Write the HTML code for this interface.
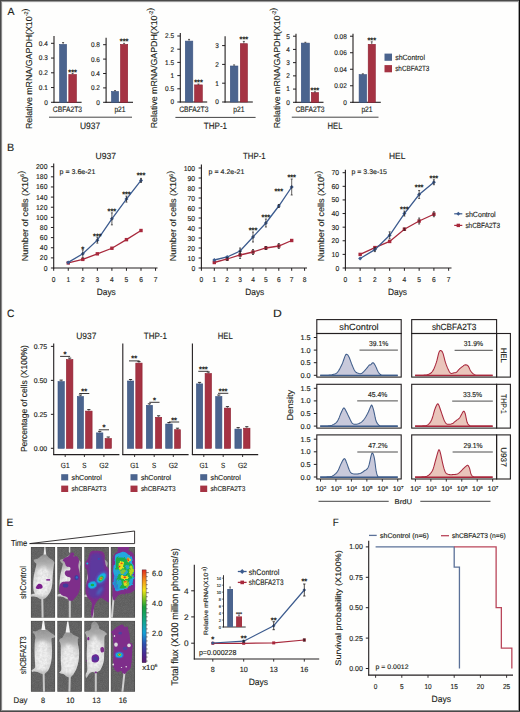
<!DOCTYPE html>
<html><head><meta charset="utf-8"><style>
html,body{margin:0;padding:0;background:#fff;width:520px;height:712px;overflow:hidden}
svg{display:block}
text{font-family:"Liberation Sans",sans-serif;stroke:#231f20;stroke-width:0.14px;text-rendering:geometricPrecision}
</style></head><body>
<svg width="520" height="712" viewBox="0 0 520 712">
<rect width="520" height="712" fill="#fefefd"/>
<text x="7.60" y="15.40" font-size="10.6" text-anchor="start" fill="#231f20" textLength="7.00" lengthAdjust="spacingAndGlyphs">A</text>
<text x="7.00" y="150.80" font-size="10.6" text-anchor="start" fill="#231f20" textLength="7.20" lengthAdjust="spacingAndGlyphs">B</text>
<text x="7.00" y="317.00" font-size="10.6" text-anchor="start" fill="#231f20" textLength="7.40" lengthAdjust="spacingAndGlyphs">C</text>
<text x="273.00" y="316.90" font-size="10.6" text-anchor="start" fill="#231f20" textLength="8.80" lengthAdjust="spacingAndGlyphs">D</text>
<text x="6.40" y="525.60" font-size="10.6" text-anchor="start" fill="#231f20" textLength="6.80" lengthAdjust="spacingAndGlyphs">E</text>
<text x="332.80" y="525.80" font-size="10.6" text-anchor="start" fill="#231f20" textLength="6.00" lengthAdjust="spacingAndGlyphs">F</text>
<text x="31.60" y="68.80" font-size="8.7" text-anchor="middle" fill="#231f20" textLength="120.50" lengthAdjust="spacingAndGlyphs" transform="rotate(-90 31.60 68.80)"><tspan>Relative mRNA/GAPDH(X10</tspan><tspan font-size="5.39" dy="-3.31">-2</tspan><tspan dy="3.31"></tspan><tspan>)</tspan></text>
<line x1="54.00" y1="36.00" x2="54.00" y2="102.80" stroke="#231f20" stroke-width="1.1"/>
<line x1="53.50" y1="102.30" x2="81.60" y2="102.30" stroke="#231f20" stroke-width="1.1"/>
<line x1="51.00" y1="102.30" x2="54.00" y2="102.30" stroke="#231f20" stroke-width="1.0"/>
<text x="47.80" y="104.70" font-size="6.8" text-anchor="end" fill="#231f20" textLength="3.59" lengthAdjust="spacingAndGlyphs">0</text>
<line x1="51.00" y1="87.55" x2="54.00" y2="87.55" stroke="#231f20" stroke-width="1.0"/>
<text x="47.80" y="89.95" font-size="6.8" text-anchor="end" fill="#231f20" textLength="8.98" lengthAdjust="spacingAndGlyphs">0.1</text>
<line x1="51.00" y1="72.80" x2="54.00" y2="72.80" stroke="#231f20" stroke-width="1.0"/>
<text x="47.80" y="75.20" font-size="6.8" text-anchor="end" fill="#231f20" textLength="8.98" lengthAdjust="spacingAndGlyphs">0.2</text>
<line x1="51.00" y1="58.05" x2="54.00" y2="58.05" stroke="#231f20" stroke-width="1.0"/>
<text x="47.80" y="60.45" font-size="6.8" text-anchor="end" fill="#231f20" textLength="8.98" lengthAdjust="spacingAndGlyphs">0.3</text>
<line x1="51.00" y1="43.30" x2="54.00" y2="43.30" stroke="#231f20" stroke-width="1.0"/>
<text x="47.80" y="45.70" font-size="6.8" text-anchor="end" fill="#231f20" textLength="8.98" lengthAdjust="spacingAndGlyphs">0.4</text>
<rect x="59.60" y="44.40" width="7.00" height="57.90" fill="#4b648e" stroke="#3a5280" stroke-width="0.6"/>
<line x1="63.10" y1="42.50" x2="63.10" y2="44.10" stroke="#231f20" stroke-width="0.7"/>
<line x1="62.10" y1="42.50" x2="64.10" y2="42.50" stroke="#231f20" stroke-width="0.7"/>
<rect x="68.80" y="74.50" width="7.60" height="27.80" fill="#a53343" stroke="#8e1f31" stroke-width="0.6"/>
<line x1="72.60" y1="73.40" x2="72.60" y2="74.20" stroke="#231f20" stroke-width="0.7"/>
<line x1="71.60" y1="73.40" x2="73.60" y2="73.40" stroke="#231f20" stroke-width="0.7"/>
<text x="67.40" y="112.30" font-size="7.9" text-anchor="middle" fill="#231f20" textLength="29.20" lengthAdjust="spacingAndGlyphs">CBFA2T3</text>
<text x="72.60" y="74.66" font-size="8.0" text-anchor="middle" fill="#231f20" textLength="8.60" lengthAdjust="spacingAndGlyphs" font-weight="bold">***</text>
<line x1="106.10" y1="37.80" x2="106.10" y2="102.80" stroke="#231f20" stroke-width="1.1"/>
<line x1="105.60" y1="102.30" x2="133.00" y2="102.30" stroke="#231f20" stroke-width="1.1"/>
<line x1="103.10" y1="102.30" x2="106.10" y2="102.30" stroke="#231f20" stroke-width="1.0"/>
<text x="99.90" y="104.70" font-size="6.8" text-anchor="end" fill="#231f20" textLength="3.59" lengthAdjust="spacingAndGlyphs">0</text>
<line x1="103.10" y1="87.90" x2="106.10" y2="87.90" stroke="#231f20" stroke-width="1.0"/>
<text x="99.90" y="90.30" font-size="6.8" text-anchor="end" fill="#231f20" textLength="8.98" lengthAdjust="spacingAndGlyphs">0.2</text>
<line x1="103.10" y1="73.50" x2="106.10" y2="73.50" stroke="#231f20" stroke-width="1.0"/>
<text x="99.90" y="75.90" font-size="6.8" text-anchor="end" fill="#231f20" textLength="8.98" lengthAdjust="spacingAndGlyphs">0.4</text>
<line x1="103.10" y1="59.10" x2="106.10" y2="59.10" stroke="#231f20" stroke-width="1.0"/>
<text x="99.90" y="61.50" font-size="6.8" text-anchor="end" fill="#231f20" textLength="8.98" lengthAdjust="spacingAndGlyphs">0.6</text>
<line x1="103.10" y1="44.70" x2="106.10" y2="44.70" stroke="#231f20" stroke-width="1.0"/>
<text x="99.90" y="47.10" font-size="6.8" text-anchor="end" fill="#231f20" textLength="8.98" lengthAdjust="spacingAndGlyphs">0.8</text>
<rect x="111.50" y="91.50" width="7.10" height="10.80" fill="#4b648e" stroke="#3a5280" stroke-width="0.6"/>
<line x1="115.05" y1="90.60" x2="115.05" y2="91.20" stroke="#231f20" stroke-width="0.7"/>
<line x1="114.05" y1="90.60" x2="116.05" y2="90.60" stroke="#231f20" stroke-width="0.7"/>
<rect x="120.50" y="44.40" width="7.20" height="57.90" fill="#a53343" stroke="#8e1f31" stroke-width="0.6"/>
<line x1="124.10" y1="43.30" x2="124.10" y2="44.10" stroke="#231f20" stroke-width="0.7"/>
<line x1="123.10" y1="43.30" x2="125.10" y2="43.30" stroke="#231f20" stroke-width="0.7"/>
<text x="120.00" y="112.30" font-size="7.9" text-anchor="middle" fill="#231f20" textLength="11.20" lengthAdjust="spacingAndGlyphs">p21</text>
<text x="124.10" y="44.26" font-size="8.0" text-anchor="middle" fill="#231f20" textLength="8.60" lengthAdjust="spacingAndGlyphs" font-weight="bold">***</text>
<line x1="49.00" y1="117.20" x2="132.00" y2="117.20" stroke="#444" stroke-width="1.0"/>
<text x="90.00" y="129.00" font-size="9.2" text-anchor="middle" fill="#231f20" textLength="20.20" lengthAdjust="spacingAndGlyphs">U937</text>
<text x="156.60" y="68.00" font-size="8.7" text-anchor="middle" fill="#231f20" textLength="120.50" lengthAdjust="spacingAndGlyphs" transform="rotate(-90 156.60 68.00)"><tspan>Relative mRNA/GAPDH(X10</tspan><tspan font-size="5.39" dy="-3.31">-2</tspan><tspan dy="3.31"></tspan><tspan>)</tspan></text>
<line x1="180.30" y1="33.10" x2="180.30" y2="102.50" stroke="#231f20" stroke-width="1.1"/>
<line x1="179.80" y1="102.00" x2="207.20" y2="102.00" stroke="#231f20" stroke-width="1.1"/>
<line x1="177.30" y1="102.00" x2="180.30" y2="102.00" stroke="#231f20" stroke-width="1.0"/>
<text x="174.10" y="104.40" font-size="6.8" text-anchor="end" fill="#231f20" textLength="3.59" lengthAdjust="spacingAndGlyphs">0</text>
<line x1="177.30" y1="88.80" x2="180.30" y2="88.80" stroke="#231f20" stroke-width="1.0"/>
<text x="174.10" y="91.20" font-size="6.8" text-anchor="end" fill="#231f20" textLength="8.98" lengthAdjust="spacingAndGlyphs">0.5</text>
<line x1="177.30" y1="75.60" x2="180.30" y2="75.60" stroke="#231f20" stroke-width="1.0"/>
<text x="174.10" y="78.00" font-size="6.8" text-anchor="end" fill="#231f20" textLength="3.59" lengthAdjust="spacingAndGlyphs">1</text>
<line x1="177.30" y1="62.40" x2="180.30" y2="62.40" stroke="#231f20" stroke-width="1.0"/>
<text x="174.10" y="64.80" font-size="6.8" text-anchor="end" fill="#231f20" textLength="8.98" lengthAdjust="spacingAndGlyphs">1.5</text>
<line x1="177.30" y1="49.20" x2="180.30" y2="49.20" stroke="#231f20" stroke-width="1.0"/>
<text x="174.10" y="51.60" font-size="6.8" text-anchor="end" fill="#231f20" textLength="3.59" lengthAdjust="spacingAndGlyphs">2</text>
<line x1="177.30" y1="36.00" x2="180.30" y2="36.00" stroke="#231f20" stroke-width="1.0"/>
<text x="174.10" y="38.40" font-size="6.8" text-anchor="end" fill="#231f20" textLength="8.98" lengthAdjust="spacingAndGlyphs">2.5</text>
<rect x="185.30" y="41.10" width="7.50" height="60.90" fill="#4b648e" stroke="#3a5280" stroke-width="0.6"/>
<line x1="189.05" y1="39.40" x2="189.05" y2="40.80" stroke="#231f20" stroke-width="0.7"/>
<line x1="188.05" y1="39.40" x2="190.05" y2="39.40" stroke="#231f20" stroke-width="0.7"/>
<rect x="194.60" y="84.90" width="7.70" height="17.10" fill="#a53343" stroke="#8e1f31" stroke-width="0.6"/>
<line x1="198.45" y1="84.00" x2="198.45" y2="84.60" stroke="#231f20" stroke-width="0.7"/>
<line x1="197.45" y1="84.00" x2="199.45" y2="84.00" stroke="#231f20" stroke-width="0.7"/>
<text x="193.80" y="112.00" font-size="7.9" text-anchor="middle" fill="#231f20" textLength="29.20" lengthAdjust="spacingAndGlyphs">CBFA2T3</text>
<text x="198.50" y="84.66" font-size="8.0" text-anchor="middle" fill="#231f20" textLength="8.60" lengthAdjust="spacingAndGlyphs" font-weight="bold">***</text>
<line x1="225.10" y1="36.20" x2="225.10" y2="102.50" stroke="#231f20" stroke-width="1.1"/>
<line x1="224.60" y1="102.00" x2="252.80" y2="102.00" stroke="#231f20" stroke-width="1.1"/>
<line x1="222.10" y1="102.00" x2="225.10" y2="102.00" stroke="#231f20" stroke-width="1.0"/>
<text x="218.90" y="104.40" font-size="6.8" text-anchor="end" fill="#231f20" textLength="3.59" lengthAdjust="spacingAndGlyphs">0</text>
<line x1="222.10" y1="83.20" x2="225.10" y2="83.20" stroke="#231f20" stroke-width="1.0"/>
<text x="218.90" y="85.60" font-size="6.8" text-anchor="end" fill="#231f20" textLength="3.59" lengthAdjust="spacingAndGlyphs">1</text>
<line x1="222.10" y1="64.40" x2="225.10" y2="64.40" stroke="#231f20" stroke-width="1.0"/>
<text x="218.90" y="66.80" font-size="6.8" text-anchor="end" fill="#231f20" textLength="3.59" lengthAdjust="spacingAndGlyphs">2</text>
<line x1="222.10" y1="45.60" x2="225.10" y2="45.60" stroke="#231f20" stroke-width="1.0"/>
<text x="218.90" y="48.00" font-size="6.8" text-anchor="end" fill="#231f20" textLength="3.59" lengthAdjust="spacingAndGlyphs">3</text>
<rect x="230.30" y="66.00" width="7.60" height="36.00" fill="#4b648e" stroke="#3a5280" stroke-width="0.6"/>
<line x1="234.10" y1="64.90" x2="234.10" y2="65.70" stroke="#231f20" stroke-width="0.7"/>
<line x1="233.10" y1="64.90" x2="235.10" y2="64.90" stroke="#231f20" stroke-width="0.7"/>
<rect x="240.30" y="43.70" width="7.10" height="58.30" fill="#a53343" stroke="#8e1f31" stroke-width="0.6"/>
<line x1="243.85" y1="41.40" x2="243.85" y2="43.40" stroke="#231f20" stroke-width="0.7"/>
<line x1="242.85" y1="41.40" x2="244.85" y2="41.40" stroke="#231f20" stroke-width="0.7"/>
<text x="238.90" y="112.00" font-size="7.9" text-anchor="middle" fill="#231f20" textLength="11.20" lengthAdjust="spacingAndGlyphs">p21</text>
<text x="243.90" y="42.06" font-size="8.0" text-anchor="middle" fill="#231f20" textLength="8.60" lengthAdjust="spacingAndGlyphs" font-weight="bold">***</text>
<line x1="175.40" y1="117.40" x2="255.60" y2="117.40" stroke="#444" stroke-width="1.0"/>
<text x="215.40" y="129.00" font-size="9.2" text-anchor="middle" fill="#231f20" textLength="23.30" lengthAdjust="spacingAndGlyphs">THP-1</text>
<text x="279.60" y="68.00" font-size="8.7" text-anchor="middle" fill="#231f20" textLength="120.50" lengthAdjust="spacingAndGlyphs" transform="rotate(-90 279.60 68.00)"><tspan>Relative mRNA/GAPDH(X10</tspan><tspan font-size="5.39" dy="-3.31">-2</tspan><tspan dy="3.31"></tspan><tspan>)</tspan></text>
<line x1="296.00" y1="33.80" x2="296.00" y2="102.80" stroke="#231f20" stroke-width="1.1"/>
<line x1="295.50" y1="102.30" x2="323.50" y2="102.30" stroke="#231f20" stroke-width="1.1"/>
<line x1="293.00" y1="102.30" x2="296.00" y2="102.30" stroke="#231f20" stroke-width="1.0"/>
<text x="289.80" y="104.70" font-size="6.8" text-anchor="end" fill="#231f20" textLength="3.59" lengthAdjust="spacingAndGlyphs">0</text>
<line x1="293.00" y1="89.08" x2="296.00" y2="89.08" stroke="#231f20" stroke-width="1.0"/>
<text x="289.80" y="91.48" font-size="6.8" text-anchor="end" fill="#231f20" textLength="3.59" lengthAdjust="spacingAndGlyphs">1</text>
<line x1="293.00" y1="75.86" x2="296.00" y2="75.86" stroke="#231f20" stroke-width="1.0"/>
<text x="289.80" y="78.26" font-size="6.8" text-anchor="end" fill="#231f20" textLength="3.59" lengthAdjust="spacingAndGlyphs">2</text>
<line x1="293.00" y1="62.64" x2="296.00" y2="62.64" stroke="#231f20" stroke-width="1.0"/>
<text x="289.80" y="65.04" font-size="6.8" text-anchor="end" fill="#231f20" textLength="3.59" lengthAdjust="spacingAndGlyphs">3</text>
<line x1="293.00" y1="49.42" x2="296.00" y2="49.42" stroke="#231f20" stroke-width="1.0"/>
<text x="289.80" y="51.82" font-size="6.8" text-anchor="end" fill="#231f20" textLength="3.59" lengthAdjust="spacingAndGlyphs">4</text>
<line x1="293.00" y1="36.20" x2="296.00" y2="36.20" stroke="#231f20" stroke-width="1.0"/>
<text x="289.80" y="38.60" font-size="6.8" text-anchor="end" fill="#231f20" textLength="3.59" lengthAdjust="spacingAndGlyphs">5</text>
<rect x="301.30" y="43.10" width="8.10" height="59.20" fill="#4b648e" stroke="#3a5280" stroke-width="0.6"/>
<line x1="305.35" y1="42.30" x2="305.35" y2="42.80" stroke="#231f20" stroke-width="0.7"/>
<line x1="304.35" y1="42.30" x2="306.35" y2="42.30" stroke="#231f20" stroke-width="0.7"/>
<rect x="311.30" y="92.60" width="7.30" height="9.70" fill="#a53343" stroke="#8e1f31" stroke-width="0.6"/>
<line x1="314.95" y1="91.80" x2="314.95" y2="92.30" stroke="#231f20" stroke-width="0.7"/>
<line x1="313.95" y1="91.80" x2="315.95" y2="91.80" stroke="#231f20" stroke-width="0.7"/>
<text x="310.00" y="112.30" font-size="7.9" text-anchor="middle" fill="#231f20" textLength="29.20" lengthAdjust="spacingAndGlyphs">CBFA2T3</text>
<text x="314.90" y="92.66" font-size="8.0" text-anchor="middle" fill="#231f20" textLength="8.60" lengthAdjust="spacingAndGlyphs" font-weight="bold">***</text>
<line x1="353.00" y1="33.80" x2="353.00" y2="102.80" stroke="#231f20" stroke-width="1.1"/>
<line x1="352.50" y1="102.30" x2="380.80" y2="102.30" stroke="#231f20" stroke-width="1.1"/>
<line x1="350.00" y1="102.30" x2="353.00" y2="102.30" stroke="#231f20" stroke-width="1.0"/>
<text x="346.80" y="104.70" font-size="6.8" text-anchor="end" fill="#231f20" textLength="3.59" lengthAdjust="spacingAndGlyphs">0</text>
<line x1="350.00" y1="85.78" x2="353.00" y2="85.78" stroke="#231f20" stroke-width="1.0"/>
<text x="346.80" y="88.18" font-size="6.8" text-anchor="end" fill="#231f20" textLength="12.57" lengthAdjust="spacingAndGlyphs">0.02</text>
<line x1="350.00" y1="69.26" x2="353.00" y2="69.26" stroke="#231f20" stroke-width="1.0"/>
<text x="346.80" y="71.66" font-size="6.8" text-anchor="end" fill="#231f20" textLength="12.57" lengthAdjust="spacingAndGlyphs">0.04</text>
<line x1="350.00" y1="52.74" x2="353.00" y2="52.74" stroke="#231f20" stroke-width="1.0"/>
<text x="346.80" y="55.14" font-size="6.8" text-anchor="end" fill="#231f20" textLength="12.57" lengthAdjust="spacingAndGlyphs">0.06</text>
<line x1="350.00" y1="36.22" x2="353.00" y2="36.22" stroke="#231f20" stroke-width="1.0"/>
<text x="346.80" y="38.62" font-size="6.8" text-anchor="end" fill="#231f20" textLength="12.57" lengthAdjust="spacingAndGlyphs">0.08</text>
<rect x="359.10" y="74.60" width="7.50" height="27.70" fill="#4b648e" stroke="#3a5280" stroke-width="0.6"/>
<line x1="362.85" y1="73.80" x2="362.85" y2="74.30" stroke="#231f20" stroke-width="0.7"/>
<line x1="361.85" y1="73.80" x2="363.85" y2="73.80" stroke="#231f20" stroke-width="0.7"/>
<rect x="368.20" y="44.30" width="7.10" height="58.00" fill="#a53343" stroke="#8e1f31" stroke-width="0.6"/>
<line x1="371.75" y1="41.80" x2="371.75" y2="44.00" stroke="#231f20" stroke-width="0.7"/>
<line x1="370.75" y1="41.80" x2="372.75" y2="41.80" stroke="#231f20" stroke-width="0.7"/>
<text x="367.00" y="112.30" font-size="7.9" text-anchor="middle" fill="#231f20" textLength="11.20" lengthAdjust="spacingAndGlyphs">p21</text>
<text x="371.80" y="42.76" font-size="8.0" text-anchor="middle" fill="#231f20" textLength="8.60" lengthAdjust="spacingAndGlyphs" font-weight="bold">***</text>
<line x1="291.80" y1="117.20" x2="378.50" y2="117.20" stroke="#444" stroke-width="1.0"/>
<text x="335.00" y="128.80" font-size="9.2" text-anchor="middle" fill="#231f20" textLength="14.80" lengthAdjust="spacingAndGlyphs">HEL</text>
<rect x="384.50" y="53.60" width="7.50" height="7.20" fill="#4b648e"/>
<rect x="384.50" y="65.10" width="7.50" height="7.20" fill="#a53343"/>
<text x="395.20" y="60.30" font-size="7.6" text-anchor="start" fill="#231f20" textLength="29.80" lengthAdjust="spacingAndGlyphs">shControl</text>
<text x="395.20" y="71.40" font-size="7.6" text-anchor="start" fill="#231f20" textLength="34.20" lengthAdjust="spacingAndGlyphs">shCBFA2T3</text>
<line x1="53.70" y1="163.50" x2="53.70" y2="268.50" stroke="#231f20" stroke-width="1.1"/>
<line x1="53.20" y1="268.00" x2="157.50" y2="268.00" stroke="#231f20" stroke-width="1.1"/>
<line x1="50.90" y1="268.00" x2="53.70" y2="268.00" stroke="#231f20" stroke-width="1.0"/>
<text x="47.50" y="270.50" font-size="7.0" text-anchor="end" fill="#231f20" textLength="3.81" lengthAdjust="spacingAndGlyphs">0</text>
<line x1="50.90" y1="257.87" x2="53.70" y2="257.87" stroke="#231f20" stroke-width="1.0"/>
<text x="47.50" y="260.37" font-size="7.0" text-anchor="end" fill="#231f20" textLength="7.63" lengthAdjust="spacingAndGlyphs">20</text>
<line x1="50.90" y1="247.74" x2="53.70" y2="247.74" stroke="#231f20" stroke-width="1.0"/>
<text x="47.50" y="250.24" font-size="7.0" text-anchor="end" fill="#231f20" textLength="7.63" lengthAdjust="spacingAndGlyphs">40</text>
<line x1="50.90" y1="237.61" x2="53.70" y2="237.61" stroke="#231f20" stroke-width="1.0"/>
<text x="47.50" y="240.11" font-size="7.0" text-anchor="end" fill="#231f20" textLength="7.63" lengthAdjust="spacingAndGlyphs">60</text>
<line x1="50.90" y1="227.48" x2="53.70" y2="227.48" stroke="#231f20" stroke-width="1.0"/>
<text x="47.50" y="229.98" font-size="7.0" text-anchor="end" fill="#231f20" textLength="7.63" lengthAdjust="spacingAndGlyphs">80</text>
<line x1="50.90" y1="217.35" x2="53.70" y2="217.35" stroke="#231f20" stroke-width="1.0"/>
<text x="47.50" y="219.85" font-size="7.0" text-anchor="end" fill="#231f20" textLength="11.44" lengthAdjust="spacingAndGlyphs">100</text>
<line x1="50.90" y1="207.22" x2="53.70" y2="207.22" stroke="#231f20" stroke-width="1.0"/>
<text x="47.50" y="209.72" font-size="7.0" text-anchor="end" fill="#231f20" textLength="11.44" lengthAdjust="spacingAndGlyphs">120</text>
<line x1="50.90" y1="197.09" x2="53.70" y2="197.09" stroke="#231f20" stroke-width="1.0"/>
<text x="47.50" y="199.59" font-size="7.0" text-anchor="end" fill="#231f20" textLength="11.44" lengthAdjust="spacingAndGlyphs">140</text>
<line x1="50.90" y1="186.96" x2="53.70" y2="186.96" stroke="#231f20" stroke-width="1.0"/>
<text x="47.50" y="189.46" font-size="7.0" text-anchor="end" fill="#231f20" textLength="11.44" lengthAdjust="spacingAndGlyphs">160</text>
<line x1="50.90" y1="176.83" x2="53.70" y2="176.83" stroke="#231f20" stroke-width="1.0"/>
<text x="47.50" y="179.33" font-size="7.0" text-anchor="end" fill="#231f20" textLength="11.44" lengthAdjust="spacingAndGlyphs">180</text>
<line x1="50.90" y1="166.70" x2="53.70" y2="166.70" stroke="#231f20" stroke-width="1.0"/>
<text x="47.50" y="169.20" font-size="7.0" text-anchor="end" fill="#231f20" textLength="11.44" lengthAdjust="spacingAndGlyphs">200</text>
<line x1="53.70" y1="268.00" x2="53.70" y2="270.80" stroke="#231f20" stroke-width="1.0"/>
<text x="53.70" y="281.50" font-size="7.0" text-anchor="middle" fill="#231f20" textLength="3.70" lengthAdjust="spacingAndGlyphs">0</text>
<line x1="68.25" y1="268.00" x2="68.25" y2="270.80" stroke="#231f20" stroke-width="1.0"/>
<text x="68.25" y="281.50" font-size="7.0" text-anchor="middle" fill="#231f20" textLength="3.70" lengthAdjust="spacingAndGlyphs">1</text>
<line x1="82.80" y1="268.00" x2="82.80" y2="270.80" stroke="#231f20" stroke-width="1.0"/>
<text x="82.80" y="281.50" font-size="7.0" text-anchor="middle" fill="#231f20" textLength="3.70" lengthAdjust="spacingAndGlyphs">2</text>
<line x1="97.35" y1="268.00" x2="97.35" y2="270.80" stroke="#231f20" stroke-width="1.0"/>
<text x="97.35" y="281.50" font-size="7.0" text-anchor="middle" fill="#231f20" textLength="3.70" lengthAdjust="spacingAndGlyphs">3</text>
<line x1="111.90" y1="268.00" x2="111.90" y2="270.80" stroke="#231f20" stroke-width="1.0"/>
<text x="111.90" y="281.50" font-size="7.0" text-anchor="middle" fill="#231f20" textLength="3.70" lengthAdjust="spacingAndGlyphs">4</text>
<line x1="126.45" y1="268.00" x2="126.45" y2="270.80" stroke="#231f20" stroke-width="1.0"/>
<text x="126.45" y="281.50" font-size="7.0" text-anchor="middle" fill="#231f20" textLength="3.70" lengthAdjust="spacingAndGlyphs">5</text>
<line x1="141.00" y1="268.00" x2="141.00" y2="270.80" stroke="#231f20" stroke-width="1.0"/>
<text x="141.00" y="281.50" font-size="7.0" text-anchor="middle" fill="#231f20" textLength="3.70" lengthAdjust="spacingAndGlyphs">6</text>
<line x1="155.55" y1="268.00" x2="155.55" y2="270.80" stroke="#231f20" stroke-width="1.0"/>
<text x="155.55" y="281.50" font-size="7.0" text-anchor="middle" fill="#231f20" textLength="3.70" lengthAdjust="spacingAndGlyphs">7</text>
<text x="106.30" y="294.70" font-size="9.0" text-anchor="middle" fill="#231f20" textLength="19.00" lengthAdjust="spacingAndGlyphs">Days</text>
<text x="105.80" y="159.30" font-size="8.9" text-anchor="middle" fill="#231f20" textLength="20.50" lengthAdjust="spacingAndGlyphs">U937</text>
<text x="59.60" y="173.60" font-size="6.9" text-anchor="start" fill="#231f20" textLength="35.80" lengthAdjust="spacingAndGlyphs">p = 3.6e-21</text>
<text x="27.60" y="216.00" font-size="8.7" text-anchor="middle" fill="#231f20" textLength="90.40" lengthAdjust="spacingAndGlyphs" transform="rotate(-90 27.60 216.00)"><tspan>Number of cells (X10</tspan><tspan font-size="5.39" dy="-3.31">6</tspan><tspan dy="3.31"></tspan><tspan>)</tspan></text>
<polyline points="68.25,262.94 82.80,259.39 97.35,253.82 111.90,248.25 126.45,239.64 141.00,230.52" fill="none" stroke="#a8293c" stroke-width="1.3"/>
<rect x="66.55" y="261.24" width="3.40" height="3.40" fill="#a8293c"/>
<rect x="81.10" y="257.69" width="3.40" height="3.40" fill="#a8293c"/>
<rect x="95.65" y="252.12" width="3.40" height="3.40" fill="#a8293c"/>
<rect x="110.20" y="246.55" width="3.40" height="3.40" fill="#a8293c"/>
<rect x="124.75" y="237.94" width="3.40" height="3.40" fill="#a8293c"/>
<rect x="139.30" y="228.82" width="3.40" height="3.40" fill="#a8293c"/>
<polyline points="68.25,262.43 82.80,253.82 97.35,240.14 111.90,218.87 126.45,199.12 141.00,180.38" fill="none" stroke="#3c5b8e" stroke-width="1.3"/>
<path d="M66.25,262.43L68.25,260.43L70.25,262.43L68.25,264.43Z" fill="#3c5b8e"/>
<path d="M80.80,253.82L82.80,251.82L84.80,253.82L82.80,255.82Z" fill="#3c5b8e"/>
<path d="M95.35,240.14L97.35,238.14L99.35,240.14L97.35,242.14Z" fill="#3c5b8e"/>
<path d="M109.90,218.87L111.90,216.87L113.90,218.87L111.90,220.87Z" fill="#3c5b8e"/>
<path d="M124.45,199.12L126.45,197.12L128.45,199.12L126.45,201.12Z" fill="#3c5b8e"/>
<path d="M139.00,180.38L141.00,178.38L143.00,180.38L141.00,182.38Z" fill="#3c5b8e"/>
<line x1="82.80" y1="249.82" x2="82.80" y2="257.82" stroke="#231f20" stroke-width="0.7"/>
<line x1="81.80" y1="249.82" x2="83.80" y2="249.82" stroke="#231f20" stroke-width="0.7"/>
<line x1="81.80" y1="257.82" x2="83.80" y2="257.82" stroke="#231f20" stroke-width="0.7"/>
<line x1="97.35" y1="237.14" x2="97.35" y2="243.14" stroke="#231f20" stroke-width="0.7"/>
<line x1="96.35" y1="237.14" x2="98.35" y2="237.14" stroke="#231f20" stroke-width="0.7"/>
<line x1="96.35" y1="243.14" x2="98.35" y2="243.14" stroke="#231f20" stroke-width="0.7"/>
<line x1="111.90" y1="212.87" x2="111.90" y2="224.87" stroke="#231f20" stroke-width="0.7"/>
<line x1="110.90" y1="212.87" x2="112.90" y2="212.87" stroke="#231f20" stroke-width="0.7"/>
<line x1="110.90" y1="224.87" x2="112.90" y2="224.87" stroke="#231f20" stroke-width="0.7"/>
<line x1="126.45" y1="196.12" x2="126.45" y2="202.12" stroke="#231f20" stroke-width="0.7"/>
<line x1="125.45" y1="196.12" x2="127.45" y2="196.12" stroke="#231f20" stroke-width="0.7"/>
<line x1="125.45" y1="202.12" x2="127.45" y2="202.12" stroke="#231f20" stroke-width="0.7"/>
<line x1="141.00" y1="178.38" x2="141.00" y2="182.38" stroke="#231f20" stroke-width="0.7"/>
<line x1="140.00" y1="178.38" x2="142.00" y2="178.38" stroke="#231f20" stroke-width="0.7"/>
<line x1="140.00" y1="182.38" x2="142.00" y2="182.38" stroke="#231f20" stroke-width="0.7"/>
<text x="82.80" y="252.16" font-size="8.0" text-anchor="middle" fill="#231f20" textLength="3.00" lengthAdjust="spacingAndGlyphs" font-weight="bold">*</text>
<text x="97.35" y="238.66" font-size="8.0" text-anchor="middle" fill="#231f20" textLength="8.60" lengthAdjust="spacingAndGlyphs" font-weight="bold">***</text>
<text x="111.90" y="214.06" font-size="8.0" text-anchor="middle" fill="#231f20" textLength="8.60" lengthAdjust="spacingAndGlyphs" font-weight="bold">***</text>
<text x="126.45" y="196.76" font-size="8.0" text-anchor="middle" fill="#231f20" textLength="8.60" lengthAdjust="spacingAndGlyphs" font-weight="bold">***</text>
<text x="141.00" y="178.36" font-size="8.0" text-anchor="middle" fill="#231f20" textLength="8.60" lengthAdjust="spacingAndGlyphs" font-weight="bold">***</text>
<line x1="201.40" y1="164.60" x2="201.40" y2="268.50" stroke="#231f20" stroke-width="1.1"/>
<line x1="200.90" y1="268.00" x2="307.00" y2="268.00" stroke="#231f20" stroke-width="1.1"/>
<line x1="198.60" y1="268.00" x2="201.40" y2="268.00" stroke="#231f20" stroke-width="1.0"/>
<text x="195.20" y="270.50" font-size="7.0" text-anchor="end" fill="#231f20" textLength="3.81" lengthAdjust="spacingAndGlyphs">0</text>
<line x1="198.60" y1="258.00" x2="201.40" y2="258.00" stroke="#231f20" stroke-width="1.0"/>
<text x="195.20" y="260.50" font-size="7.0" text-anchor="end" fill="#231f20" textLength="7.63" lengthAdjust="spacingAndGlyphs">10</text>
<line x1="198.60" y1="248.00" x2="201.40" y2="248.00" stroke="#231f20" stroke-width="1.0"/>
<text x="195.20" y="250.50" font-size="7.0" text-anchor="end" fill="#231f20" textLength="7.63" lengthAdjust="spacingAndGlyphs">20</text>
<line x1="198.60" y1="238.00" x2="201.40" y2="238.00" stroke="#231f20" stroke-width="1.0"/>
<text x="195.20" y="240.50" font-size="7.0" text-anchor="end" fill="#231f20" textLength="7.63" lengthAdjust="spacingAndGlyphs">30</text>
<line x1="198.60" y1="228.00" x2="201.40" y2="228.00" stroke="#231f20" stroke-width="1.0"/>
<text x="195.20" y="230.50" font-size="7.0" text-anchor="end" fill="#231f20" textLength="7.63" lengthAdjust="spacingAndGlyphs">40</text>
<line x1="198.60" y1="218.00" x2="201.40" y2="218.00" stroke="#231f20" stroke-width="1.0"/>
<text x="195.20" y="220.50" font-size="7.0" text-anchor="end" fill="#231f20" textLength="7.63" lengthAdjust="spacingAndGlyphs">50</text>
<line x1="198.60" y1="208.00" x2="201.40" y2="208.00" stroke="#231f20" stroke-width="1.0"/>
<text x="195.20" y="210.50" font-size="7.0" text-anchor="end" fill="#231f20" textLength="7.63" lengthAdjust="spacingAndGlyphs">60</text>
<line x1="198.60" y1="198.00" x2="201.40" y2="198.00" stroke="#231f20" stroke-width="1.0"/>
<text x="195.20" y="200.50" font-size="7.0" text-anchor="end" fill="#231f20" textLength="7.63" lengthAdjust="spacingAndGlyphs">70</text>
<line x1="198.60" y1="188.00" x2="201.40" y2="188.00" stroke="#231f20" stroke-width="1.0"/>
<text x="195.20" y="190.50" font-size="7.0" text-anchor="end" fill="#231f20" textLength="7.63" lengthAdjust="spacingAndGlyphs">80</text>
<line x1="198.60" y1="178.00" x2="201.40" y2="178.00" stroke="#231f20" stroke-width="1.0"/>
<text x="195.20" y="180.50" font-size="7.0" text-anchor="end" fill="#231f20" textLength="7.63" lengthAdjust="spacingAndGlyphs">90</text>
<line x1="198.60" y1="168.00" x2="201.40" y2="168.00" stroke="#231f20" stroke-width="1.0"/>
<text x="195.20" y="170.50" font-size="7.0" text-anchor="end" fill="#231f20" textLength="11.44" lengthAdjust="spacingAndGlyphs">100</text>
<line x1="201.40" y1="268.00" x2="201.40" y2="270.80" stroke="#231f20" stroke-width="1.0"/>
<text x="201.40" y="281.50" font-size="7.0" text-anchor="middle" fill="#231f20" textLength="3.70" lengthAdjust="spacingAndGlyphs">0</text>
<line x1="214.30" y1="268.00" x2="214.30" y2="270.80" stroke="#231f20" stroke-width="1.0"/>
<text x="214.30" y="281.50" font-size="7.0" text-anchor="middle" fill="#231f20" textLength="3.70" lengthAdjust="spacingAndGlyphs">1</text>
<line x1="227.20" y1="268.00" x2="227.20" y2="270.80" stroke="#231f20" stroke-width="1.0"/>
<text x="227.20" y="281.50" font-size="7.0" text-anchor="middle" fill="#231f20" textLength="3.70" lengthAdjust="spacingAndGlyphs">2</text>
<line x1="240.10" y1="268.00" x2="240.10" y2="270.80" stroke="#231f20" stroke-width="1.0"/>
<text x="240.10" y="281.50" font-size="7.0" text-anchor="middle" fill="#231f20" textLength="3.70" lengthAdjust="spacingAndGlyphs">3</text>
<line x1="253.00" y1="268.00" x2="253.00" y2="270.80" stroke="#231f20" stroke-width="1.0"/>
<text x="253.00" y="281.50" font-size="7.0" text-anchor="middle" fill="#231f20" textLength="3.70" lengthAdjust="spacingAndGlyphs">4</text>
<line x1="265.90" y1="268.00" x2="265.90" y2="270.80" stroke="#231f20" stroke-width="1.0"/>
<text x="265.90" y="281.50" font-size="7.0" text-anchor="middle" fill="#231f20" textLength="3.70" lengthAdjust="spacingAndGlyphs">5</text>
<line x1="278.80" y1="268.00" x2="278.80" y2="270.80" stroke="#231f20" stroke-width="1.0"/>
<text x="278.80" y="281.50" font-size="7.0" text-anchor="middle" fill="#231f20" textLength="3.70" lengthAdjust="spacingAndGlyphs">6</text>
<line x1="291.70" y1="268.00" x2="291.70" y2="270.80" stroke="#231f20" stroke-width="1.0"/>
<text x="291.70" y="281.50" font-size="7.0" text-anchor="middle" fill="#231f20" textLength="3.70" lengthAdjust="spacingAndGlyphs">7</text>
<line x1="304.60" y1="268.00" x2="304.60" y2="270.80" stroke="#231f20" stroke-width="1.0"/>
<text x="304.60" y="281.50" font-size="7.0" text-anchor="middle" fill="#231f20" textLength="3.70" lengthAdjust="spacingAndGlyphs">8</text>
<text x="254.80" y="294.70" font-size="9.0" text-anchor="middle" fill="#231f20" textLength="19.00" lengthAdjust="spacingAndGlyphs">Days</text>
<text x="254.30" y="159.30" font-size="8.9" text-anchor="middle" fill="#231f20" textLength="22.60" lengthAdjust="spacingAndGlyphs">THP-1</text>
<text x="208.60" y="173.60" font-size="6.9" text-anchor="start" fill="#231f20" textLength="35.80" lengthAdjust="spacingAndGlyphs">p = 4.2e-21</text>
<text x="176.00" y="216.00" font-size="8.7" text-anchor="middle" fill="#231f20" textLength="90.40" lengthAdjust="spacingAndGlyphs" transform="rotate(-90 176.00 216.00)"><tspan>Number of cells (X10</tspan><tspan font-size="5.39" dy="-3.31">6</tspan><tspan dy="3.31"></tspan><tspan>)</tspan></text>
<polyline points="214.30,262.50 227.20,259.00 240.10,255.00 253.00,252.00 265.90,248.00 278.80,246.00 291.70,240.50" fill="none" stroke="#a8293c" stroke-width="1.3"/>
<rect x="212.60" y="260.80" width="3.40" height="3.40" fill="#a8293c"/>
<rect x="225.50" y="257.30" width="3.40" height="3.40" fill="#a8293c"/>
<rect x="238.40" y="253.30" width="3.40" height="3.40" fill="#a8293c"/>
<rect x="251.30" y="250.30" width="3.40" height="3.40" fill="#a8293c"/>
<rect x="264.20" y="246.30" width="3.40" height="3.40" fill="#a8293c"/>
<rect x="277.10" y="244.30" width="3.40" height="3.40" fill="#a8293c"/>
<rect x="290.00" y="238.80" width="3.40" height="3.40" fill="#a8293c"/>
<polyline points="214.30,260.00 227.20,257.00 240.10,251.00 253.00,237.00 265.90,223.00 278.80,206.00 291.70,187.00" fill="none" stroke="#3c5b8e" stroke-width="1.3"/>
<path d="M212.30,260.00L214.30,258.00L216.30,260.00L214.30,262.00Z" fill="#3c5b8e"/>
<path d="M225.20,257.00L227.20,255.00L229.20,257.00L227.20,259.00Z" fill="#3c5b8e"/>
<path d="M238.10,251.00L240.10,249.00L242.10,251.00L240.10,253.00Z" fill="#3c5b8e"/>
<path d="M251.00,237.00L253.00,235.00L255.00,237.00L253.00,239.00Z" fill="#3c5b8e"/>
<path d="M263.90,223.00L265.90,221.00L267.90,223.00L265.90,225.00Z" fill="#3c5b8e"/>
<path d="M276.80,206.00L278.80,204.00L280.80,206.00L278.80,208.00Z" fill="#3c5b8e"/>
<path d="M289.70,187.00L291.70,185.00L293.70,187.00L291.70,189.00Z" fill="#3c5b8e"/>
<line x1="240.10" y1="248.00" x2="240.10" y2="254.00" stroke="#231f20" stroke-width="0.7"/>
<line x1="239.10" y1="248.00" x2="241.10" y2="248.00" stroke="#231f20" stroke-width="0.7"/>
<line x1="239.10" y1="254.00" x2="241.10" y2="254.00" stroke="#231f20" stroke-width="0.7"/>
<line x1="253.00" y1="232.00" x2="253.00" y2="242.00" stroke="#231f20" stroke-width="0.7"/>
<line x1="252.00" y1="232.00" x2="254.00" y2="232.00" stroke="#231f20" stroke-width="0.7"/>
<line x1="252.00" y1="242.00" x2="254.00" y2="242.00" stroke="#231f20" stroke-width="0.7"/>
<line x1="265.90" y1="219.00" x2="265.90" y2="227.00" stroke="#231f20" stroke-width="0.7"/>
<line x1="264.90" y1="219.00" x2="266.90" y2="219.00" stroke="#231f20" stroke-width="0.7"/>
<line x1="264.90" y1="227.00" x2="266.90" y2="227.00" stroke="#231f20" stroke-width="0.7"/>
<line x1="278.80" y1="204.50" x2="278.80" y2="207.50" stroke="#231f20" stroke-width="0.7"/>
<line x1="277.80" y1="204.50" x2="279.80" y2="204.50" stroke="#231f20" stroke-width="0.7"/>
<line x1="277.80" y1="207.50" x2="279.80" y2="207.50" stroke="#231f20" stroke-width="0.7"/>
<line x1="291.70" y1="179.00" x2="291.70" y2="195.00" stroke="#231f20" stroke-width="0.7"/>
<line x1="290.70" y1="179.00" x2="292.70" y2="179.00" stroke="#231f20" stroke-width="0.7"/>
<line x1="290.70" y1="195.00" x2="292.70" y2="195.00" stroke="#231f20" stroke-width="0.7"/>
<line x1="227.20" y1="257.50" x2="227.20" y2="260.50" stroke="#231f20" stroke-width="0.7"/>
<line x1="226.20" y1="257.50" x2="228.20" y2="257.50" stroke="#231f20" stroke-width="0.7"/>
<line x1="226.20" y1="260.50" x2="228.20" y2="260.50" stroke="#231f20" stroke-width="0.7"/>
<line x1="240.10" y1="251.50" x2="240.10" y2="258.50" stroke="#231f20" stroke-width="0.7"/>
<line x1="239.10" y1="251.50" x2="241.10" y2="251.50" stroke="#231f20" stroke-width="0.7"/>
<line x1="239.10" y1="258.50" x2="241.10" y2="258.50" stroke="#231f20" stroke-width="0.7"/>
<line x1="253.00" y1="249.50" x2="253.00" y2="254.50" stroke="#231f20" stroke-width="0.7"/>
<line x1="252.00" y1="249.50" x2="254.00" y2="249.50" stroke="#231f20" stroke-width="0.7"/>
<line x1="252.00" y1="254.50" x2="254.00" y2="254.50" stroke="#231f20" stroke-width="0.7"/>
<line x1="265.90" y1="246.50" x2="265.90" y2="249.50" stroke="#231f20" stroke-width="0.7"/>
<line x1="264.90" y1="246.50" x2="266.90" y2="246.50" stroke="#231f20" stroke-width="0.7"/>
<line x1="264.90" y1="249.50" x2="266.90" y2="249.50" stroke="#231f20" stroke-width="0.7"/>
<line x1="278.80" y1="243.50" x2="278.80" y2="248.50" stroke="#231f20" stroke-width="0.7"/>
<line x1="277.80" y1="243.50" x2="279.80" y2="243.50" stroke="#231f20" stroke-width="0.7"/>
<line x1="277.80" y1="248.50" x2="279.80" y2="248.50" stroke="#231f20" stroke-width="0.7"/>
<text x="253.00" y="233.46" font-size="8.0" text-anchor="middle" fill="#231f20" textLength="8.60" lengthAdjust="spacingAndGlyphs" font-weight="bold">***</text>
<text x="265.90" y="219.66" font-size="8.0" text-anchor="middle" fill="#231f20" textLength="8.60" lengthAdjust="spacingAndGlyphs" font-weight="bold">***</text>
<text x="278.80" y="194.36" font-size="8.0" text-anchor="middle" fill="#231f20" textLength="8.60" lengthAdjust="spacingAndGlyphs" font-weight="bold">***</text>
<text x="291.70" y="179.86" font-size="8.0" text-anchor="middle" fill="#231f20" textLength="8.60" lengthAdjust="spacingAndGlyphs" font-weight="bold">***</text>
<line x1="345.40" y1="169.80" x2="345.40" y2="268.50" stroke="#231f20" stroke-width="1.1"/>
<line x1="344.90" y1="268.00" x2="451.50" y2="268.00" stroke="#231f20" stroke-width="1.1"/>
<line x1="342.60" y1="268.00" x2="345.40" y2="268.00" stroke="#231f20" stroke-width="1.0"/>
<text x="339.20" y="270.50" font-size="7.0" text-anchor="end" fill="#231f20" textLength="3.81" lengthAdjust="spacingAndGlyphs">0</text>
<line x1="342.60" y1="254.39" x2="345.40" y2="254.39" stroke="#231f20" stroke-width="1.0"/>
<text x="339.20" y="256.89" font-size="7.0" text-anchor="end" fill="#231f20" textLength="7.63" lengthAdjust="spacingAndGlyphs">10</text>
<line x1="342.60" y1="240.77" x2="345.40" y2="240.77" stroke="#231f20" stroke-width="1.0"/>
<text x="339.20" y="243.27" font-size="7.0" text-anchor="end" fill="#231f20" textLength="7.63" lengthAdjust="spacingAndGlyphs">20</text>
<line x1="342.60" y1="227.16" x2="345.40" y2="227.16" stroke="#231f20" stroke-width="1.0"/>
<text x="339.20" y="229.66" font-size="7.0" text-anchor="end" fill="#231f20" textLength="7.63" lengthAdjust="spacingAndGlyphs">30</text>
<line x1="342.60" y1="213.54" x2="345.40" y2="213.54" stroke="#231f20" stroke-width="1.0"/>
<text x="339.20" y="216.04" font-size="7.0" text-anchor="end" fill="#231f20" textLength="7.63" lengthAdjust="spacingAndGlyphs">40</text>
<line x1="342.60" y1="199.93" x2="345.40" y2="199.93" stroke="#231f20" stroke-width="1.0"/>
<text x="339.20" y="202.43" font-size="7.0" text-anchor="end" fill="#231f20" textLength="7.63" lengthAdjust="spacingAndGlyphs">50</text>
<line x1="342.60" y1="186.32" x2="345.40" y2="186.32" stroke="#231f20" stroke-width="1.0"/>
<text x="339.20" y="188.82" font-size="7.0" text-anchor="end" fill="#231f20" textLength="7.63" lengthAdjust="spacingAndGlyphs">60</text>
<line x1="342.60" y1="172.70" x2="345.40" y2="172.70" stroke="#231f20" stroke-width="1.0"/>
<text x="339.20" y="175.20" font-size="7.0" text-anchor="end" fill="#231f20" textLength="7.63" lengthAdjust="spacingAndGlyphs">70</text>
<line x1="345.40" y1="268.00" x2="345.40" y2="270.80" stroke="#231f20" stroke-width="1.0"/>
<text x="345.40" y="281.50" font-size="7.0" text-anchor="middle" fill="#231f20" textLength="3.70" lengthAdjust="spacingAndGlyphs">0</text>
<line x1="360.15" y1="268.00" x2="360.15" y2="270.80" stroke="#231f20" stroke-width="1.0"/>
<text x="360.15" y="281.50" font-size="7.0" text-anchor="middle" fill="#231f20" textLength="3.70" lengthAdjust="spacingAndGlyphs">1</text>
<line x1="374.90" y1="268.00" x2="374.90" y2="270.80" stroke="#231f20" stroke-width="1.0"/>
<text x="374.90" y="281.50" font-size="7.0" text-anchor="middle" fill="#231f20" textLength="3.70" lengthAdjust="spacingAndGlyphs">2</text>
<line x1="389.65" y1="268.00" x2="389.65" y2="270.80" stroke="#231f20" stroke-width="1.0"/>
<text x="389.65" y="281.50" font-size="7.0" text-anchor="middle" fill="#231f20" textLength="3.70" lengthAdjust="spacingAndGlyphs">3</text>
<line x1="404.40" y1="268.00" x2="404.40" y2="270.80" stroke="#231f20" stroke-width="1.0"/>
<text x="404.40" y="281.50" font-size="7.0" text-anchor="middle" fill="#231f20" textLength="3.70" lengthAdjust="spacingAndGlyphs">4</text>
<line x1="419.15" y1="268.00" x2="419.15" y2="270.80" stroke="#231f20" stroke-width="1.0"/>
<text x="419.15" y="281.50" font-size="7.0" text-anchor="middle" fill="#231f20" textLength="3.70" lengthAdjust="spacingAndGlyphs">5</text>
<line x1="433.90" y1="268.00" x2="433.90" y2="270.80" stroke="#231f20" stroke-width="1.0"/>
<text x="433.90" y="281.50" font-size="7.0" text-anchor="middle" fill="#231f20" textLength="3.70" lengthAdjust="spacingAndGlyphs">6</text>
<line x1="448.65" y1="268.00" x2="448.65" y2="270.80" stroke="#231f20" stroke-width="1.0"/>
<text x="448.65" y="281.50" font-size="7.0" text-anchor="middle" fill="#231f20" textLength="3.70" lengthAdjust="spacingAndGlyphs">7</text>
<text x="397.50" y="294.70" font-size="9.0" text-anchor="middle" fill="#231f20" textLength="19.00" lengthAdjust="spacingAndGlyphs">Days</text>
<text x="397.20" y="159.30" font-size="8.9" text-anchor="middle" fill="#231f20" textLength="16.40" lengthAdjust="spacingAndGlyphs">HEL</text>
<text x="351.50" y="173.60" font-size="6.9" text-anchor="start" fill="#231f20" textLength="35.50" lengthAdjust="spacingAndGlyphs">p = 3.3e-15</text>
<text x="324.00" y="216.00" font-size="8.7" text-anchor="middle" fill="#231f20" textLength="90.40" lengthAdjust="spacingAndGlyphs" transform="rotate(-90 324.00 216.00)"><tspan>Number of cells (X10</tspan><tspan font-size="5.39" dy="-3.31">6</tspan><tspan dy="3.31"></tspan><tspan>)</tspan></text>
<polyline points="360.15,254.39 374.90,247.58 389.65,241.45 404.40,229.20 419.15,221.03 433.90,214.22" fill="none" stroke="#a8293c" stroke-width="1.3"/>
<rect x="358.45" y="252.69" width="3.40" height="3.40" fill="#a8293c"/>
<rect x="373.20" y="245.88" width="3.40" height="3.40" fill="#a8293c"/>
<rect x="387.95" y="239.75" width="3.40" height="3.40" fill="#a8293c"/>
<rect x="402.70" y="227.50" width="3.40" height="3.40" fill="#a8293c"/>
<rect x="417.45" y="219.33" width="3.40" height="3.40" fill="#a8293c"/>
<rect x="432.20" y="212.52" width="3.40" height="3.40" fill="#a8293c"/>
<polyline points="360.15,258.47 374.90,249.62 389.65,235.33 404.40,213.54 419.15,194.48 433.90,182.23" fill="none" stroke="#3c5b8e" stroke-width="1.3"/>
<path d="M358.15,258.47L360.15,256.47L362.15,258.47L360.15,260.47Z" fill="#3c5b8e"/>
<path d="M372.90,249.62L374.90,247.62L376.90,249.62L374.90,251.62Z" fill="#3c5b8e"/>
<path d="M387.65,235.33L389.65,233.33L391.65,235.33L389.65,237.33Z" fill="#3c5b8e"/>
<path d="M402.40,213.54L404.40,211.54L406.40,213.54L404.40,215.54Z" fill="#3c5b8e"/>
<path d="M417.15,194.48L419.15,192.48L421.15,194.48L419.15,196.48Z" fill="#3c5b8e"/>
<path d="M431.90,182.23L433.90,180.23L435.90,182.23L433.90,184.23Z" fill="#3c5b8e"/>
<line x1="389.65" y1="231.83" x2="389.65" y2="238.83" stroke="#231f20" stroke-width="0.7"/>
<line x1="388.65" y1="231.83" x2="390.65" y2="231.83" stroke="#231f20" stroke-width="0.7"/>
<line x1="388.65" y1="238.83" x2="390.65" y2="238.83" stroke="#231f20" stroke-width="0.7"/>
<line x1="404.40" y1="211.04" x2="404.40" y2="216.04" stroke="#231f20" stroke-width="0.7"/>
<line x1="403.40" y1="211.04" x2="405.40" y2="211.04" stroke="#231f20" stroke-width="0.7"/>
<line x1="403.40" y1="216.04" x2="405.40" y2="216.04" stroke="#231f20" stroke-width="0.7"/>
<line x1="419.15" y1="190.48" x2="419.15" y2="198.48" stroke="#231f20" stroke-width="0.7"/>
<line x1="418.15" y1="190.48" x2="420.15" y2="190.48" stroke="#231f20" stroke-width="0.7"/>
<line x1="418.15" y1="198.48" x2="420.15" y2="198.48" stroke="#231f20" stroke-width="0.7"/>
<line x1="433.90" y1="179.73" x2="433.90" y2="184.73" stroke="#231f20" stroke-width="0.7"/>
<line x1="432.90" y1="179.73" x2="434.90" y2="179.73" stroke="#231f20" stroke-width="0.7"/>
<line x1="432.90" y1="184.73" x2="434.90" y2="184.73" stroke="#231f20" stroke-width="0.7"/>
<line x1="404.40" y1="228.00" x2="404.40" y2="230.40" stroke="#231f20" stroke-width="0.7"/>
<line x1="403.40" y1="228.00" x2="405.40" y2="228.00" stroke="#231f20" stroke-width="0.7"/>
<line x1="403.40" y1="230.40" x2="405.40" y2="230.40" stroke="#231f20" stroke-width="0.7"/>
<line x1="419.15" y1="218.03" x2="419.15" y2="224.03" stroke="#231f20" stroke-width="0.7"/>
<line x1="418.15" y1="218.03" x2="420.15" y2="218.03" stroke="#231f20" stroke-width="0.7"/>
<line x1="418.15" y1="224.03" x2="420.15" y2="224.03" stroke="#231f20" stroke-width="0.7"/>
<line x1="433.90" y1="211.72" x2="433.90" y2="216.72" stroke="#231f20" stroke-width="0.7"/>
<line x1="432.90" y1="211.72" x2="434.90" y2="211.72" stroke="#231f20" stroke-width="0.7"/>
<line x1="432.90" y1="216.72" x2="434.90" y2="216.72" stroke="#231f20" stroke-width="0.7"/>
<line x1="374.90" y1="247.62" x2="374.90" y2="251.62" stroke="#231f20" stroke-width="0.7"/>
<line x1="373.90" y1="247.62" x2="375.90" y2="247.62" stroke="#231f20" stroke-width="0.7"/>
<line x1="373.90" y1="251.62" x2="375.90" y2="251.62" stroke="#231f20" stroke-width="0.7"/>
<text x="404.40" y="211.66" font-size="8.0" text-anchor="middle" fill="#231f20" textLength="8.60" lengthAdjust="spacingAndGlyphs" font-weight="bold">***</text>
<text x="419.15" y="189.96" font-size="8.0" text-anchor="middle" fill="#231f20" textLength="8.60" lengthAdjust="spacingAndGlyphs" font-weight="bold">***</text>
<text x="433.90" y="180.66" font-size="8.0" text-anchor="middle" fill="#231f20" textLength="8.60" lengthAdjust="spacingAndGlyphs" font-weight="bold">***</text>
<line x1="454.20" y1="213.80" x2="462.30" y2="213.80" stroke="#3c5b8e" stroke-width="1.2"/>
<path d="M456.3,213.8L458.3,211.8L460.3,213.8L458.3,215.8Z" fill="#3c5b8e"/>
<line x1="454.20" y1="225.40" x2="462.30" y2="225.40" stroke="#a8293c" stroke-width="1.2"/>
<rect x="456.60" y="223.70" width="3.40" height="3.40" fill="#a8293c"/>
<text x="465.40" y="216.50" font-size="7.5" text-anchor="start" fill="#231f20" textLength="30.30" lengthAdjust="spacingAndGlyphs">shControl</text>
<text x="465.40" y="228.10" font-size="7.5" text-anchor="start" fill="#231f20" textLength="34.60" lengthAdjust="spacingAndGlyphs">shCBFA2T3</text>
<line x1="53.70" y1="343.60" x2="53.70" y2="455.10" stroke="#231f20" stroke-width="1.1"/>
<line x1="53.20" y1="454.60" x2="119.40" y2="454.60" stroke="#231f20" stroke-width="1.1"/>
<line x1="50.90" y1="448.30" x2="53.70" y2="448.30" stroke="#231f20" stroke-width="1.0"/>
<text x="47.10" y="450.70" font-size="6.8" text-anchor="end" fill="#231f20" textLength="13.40" lengthAdjust="spacingAndGlyphs">0.00</text>
<line x1="50.90" y1="414.33" x2="53.70" y2="414.33" stroke="#231f20" stroke-width="1.0"/>
<text x="47.10" y="416.73" font-size="6.8" text-anchor="end" fill="#231f20" textLength="13.40" lengthAdjust="spacingAndGlyphs">0.25</text>
<line x1="50.90" y1="380.36" x2="53.70" y2="380.36" stroke="#231f20" stroke-width="1.0"/>
<text x="47.10" y="382.76" font-size="6.8" text-anchor="end" fill="#231f20" textLength="13.40" lengthAdjust="spacingAndGlyphs">0.50</text>
<line x1="50.90" y1="346.39" x2="53.70" y2="346.39" stroke="#231f20" stroke-width="1.0"/>
<text x="47.10" y="348.79" font-size="6.8" text-anchor="end" fill="#231f20" textLength="13.40" lengthAdjust="spacingAndGlyphs">0.75</text>
<rect x="58.00" y="381.60" width="6.30" height="66.70" fill="#4b648e" stroke="#3a5280" stroke-width="0.6"/>
<line x1="61.15" y1="380.10" x2="61.15" y2="381.30" stroke="#231f20" stroke-width="0.6"/>
<line x1="59.55" y1="380.10" x2="62.75" y2="380.10" stroke="#231f20" stroke-width="0.9"/>
<rect x="66.40" y="359.60" width="6.50" height="88.70" fill="#a53343" stroke="#8e1f31" stroke-width="0.6"/>
<line x1="69.65" y1="358.10" x2="69.65" y2="359.30" stroke="#231f20" stroke-width="0.6"/>
<line x1="68.05" y1="358.10" x2="71.25" y2="358.10" stroke="#231f20" stroke-width="0.9"/>
<rect x="77.30" y="396.50" width="6.20" height="51.80" fill="#4b648e" stroke="#3a5280" stroke-width="0.6"/>
<line x1="80.40" y1="395.00" x2="80.40" y2="396.20" stroke="#231f20" stroke-width="0.6"/>
<line x1="78.80" y1="395.00" x2="82.00" y2="395.00" stroke="#231f20" stroke-width="0.9"/>
<rect x="85.60" y="411.10" width="6.50" height="37.20" fill="#a53343" stroke="#8e1f31" stroke-width="0.6"/>
<line x1="88.85" y1="409.60" x2="88.85" y2="410.80" stroke="#231f20" stroke-width="0.6"/>
<line x1="87.25" y1="409.60" x2="90.45" y2="409.60" stroke="#231f20" stroke-width="0.9"/>
<rect x="96.50" y="432.90" width="6.40" height="15.40" fill="#4b648e" stroke="#3a5280" stroke-width="0.6"/>
<line x1="99.70" y1="431.40" x2="99.70" y2="432.60" stroke="#231f20" stroke-width="0.6"/>
<line x1="98.10" y1="431.40" x2="101.30" y2="431.40" stroke="#231f20" stroke-width="0.9"/>
<rect x="105.10" y="438.50" width="6.30" height="9.80" fill="#a53343" stroke="#8e1f31" stroke-width="0.6"/>
<line x1="108.25" y1="437.00" x2="108.25" y2="438.20" stroke="#231f20" stroke-width="0.6"/>
<line x1="106.65" y1="437.00" x2="109.85" y2="437.00" stroke="#231f20" stroke-width="0.9"/>
<line x1="60.10" y1="356.40" x2="70.10" y2="356.40" stroke="#231f20" stroke-width="0.9"/>
<text x="65.10" y="356.96" font-size="8.0" text-anchor="middle" fill="#231f20" textLength="3.00" lengthAdjust="spacingAndGlyphs" font-weight="bold">*</text>
<line x1="79.20" y1="393.50" x2="89.30" y2="393.50" stroke="#231f20" stroke-width="0.9"/>
<text x="84.25" y="394.06" font-size="8.0" text-anchor="middle" fill="#231f20" textLength="5.80" lengthAdjust="spacingAndGlyphs" font-weight="bold">**</text>
<line x1="98.80" y1="429.80" x2="109.00" y2="429.80" stroke="#231f20" stroke-width="0.9"/>
<text x="103.90" y="430.36" font-size="8.0" text-anchor="middle" fill="#231f20" textLength="3.00" lengthAdjust="spacingAndGlyphs" font-weight="bold">*</text>
<line x1="65.20" y1="454.60" x2="65.20" y2="457.00" stroke="#231f20" stroke-width="0.9"/>
<text x="65.20" y="468.40" font-size="7.6" text-anchor="middle" fill="#231f20" textLength="8.70" lengthAdjust="spacingAndGlyphs">G1</text>
<line x1="84.40" y1="454.60" x2="84.40" y2="457.00" stroke="#231f20" stroke-width="0.9"/>
<text x="84.40" y="468.40" font-size="7.6" text-anchor="middle" fill="#231f20" textLength="4.20" lengthAdjust="spacingAndGlyphs">S</text>
<line x1="103.90" y1="454.60" x2="103.90" y2="457.00" stroke="#231f20" stroke-width="0.9"/>
<text x="103.90" y="468.40" font-size="7.6" text-anchor="middle" fill="#231f20" textLength="9.20" lengthAdjust="spacingAndGlyphs">G2</text>
<text x="86.30" y="338.80" font-size="9.0" text-anchor="middle" fill="#231f20" textLength="20.00" lengthAdjust="spacingAndGlyphs">U937</text>
<line x1="122.80" y1="343.60" x2="122.80" y2="455.10" stroke="#231f20" stroke-width="1.1"/>
<line x1="122.30" y1="454.60" x2="188.60" y2="454.60" stroke="#231f20" stroke-width="1.1"/>
<rect x="127.40" y="381.00" width="6.30" height="67.30" fill="#4b648e" stroke="#3a5280" stroke-width="0.6"/>
<line x1="130.55" y1="379.50" x2="130.55" y2="380.70" stroke="#231f20" stroke-width="0.6"/>
<line x1="128.95" y1="379.50" x2="132.15" y2="379.50" stroke="#231f20" stroke-width="0.9"/>
<rect x="135.80" y="363.10" width="6.30" height="85.20" fill="#a53343" stroke="#8e1f31" stroke-width="0.6"/>
<line x1="138.95" y1="361.60" x2="138.95" y2="362.80" stroke="#231f20" stroke-width="0.6"/>
<line x1="137.35" y1="361.60" x2="140.55" y2="361.60" stroke="#231f20" stroke-width="0.9"/>
<rect x="146.30" y="405.30" width="6.20" height="43.00" fill="#4b648e" stroke="#3a5280" stroke-width="0.6"/>
<line x1="149.40" y1="403.80" x2="149.40" y2="405.00" stroke="#231f20" stroke-width="0.6"/>
<line x1="147.80" y1="403.80" x2="151.00" y2="403.80" stroke="#231f20" stroke-width="0.9"/>
<rect x="155.50" y="417.30" width="6.20" height="31.00" fill="#a53343" stroke="#8e1f31" stroke-width="0.6"/>
<line x1="158.60" y1="415.80" x2="158.60" y2="417.00" stroke="#231f20" stroke-width="0.6"/>
<line x1="157.00" y1="415.80" x2="160.20" y2="415.80" stroke="#231f20" stroke-width="0.9"/>
<rect x="165.70" y="424.00" width="6.50" height="24.30" fill="#4b648e" stroke="#3a5280" stroke-width="0.6"/>
<line x1="168.95" y1="422.50" x2="168.95" y2="423.70" stroke="#231f20" stroke-width="0.6"/>
<line x1="167.35" y1="422.50" x2="170.55" y2="422.50" stroke="#231f20" stroke-width="0.9"/>
<rect x="174.60" y="429.70" width="5.80" height="18.60" fill="#a53343" stroke="#8e1f31" stroke-width="0.6"/>
<line x1="177.50" y1="428.20" x2="177.50" y2="429.40" stroke="#231f20" stroke-width="0.6"/>
<line x1="175.90" y1="428.20" x2="179.10" y2="428.20" stroke="#231f20" stroke-width="0.9"/>
<line x1="129.00" y1="360.90" x2="139.50" y2="360.90" stroke="#231f20" stroke-width="0.9"/>
<text x="134.25" y="361.46" font-size="8.0" text-anchor="middle" fill="#231f20" textLength="5.80" lengthAdjust="spacingAndGlyphs" font-weight="bold">**</text>
<line x1="149.30" y1="402.30" x2="159.50" y2="402.30" stroke="#231f20" stroke-width="0.9"/>
<text x="154.40" y="402.86" font-size="8.0" text-anchor="middle" fill="#231f20" textLength="3.00" lengthAdjust="spacingAndGlyphs" font-weight="bold">*</text>
<line x1="169.00" y1="422.00" x2="179.20" y2="422.00" stroke="#231f20" stroke-width="0.9"/>
<text x="174.10" y="422.56" font-size="8.0" text-anchor="middle" fill="#231f20" textLength="5.80" lengthAdjust="spacingAndGlyphs" font-weight="bold">**</text>
<line x1="134.60" y1="454.60" x2="134.60" y2="457.00" stroke="#231f20" stroke-width="0.9"/>
<text x="134.60" y="468.40" font-size="7.6" text-anchor="middle" fill="#231f20" textLength="8.70" lengthAdjust="spacingAndGlyphs">G1</text>
<line x1="154.20" y1="454.60" x2="154.20" y2="457.00" stroke="#231f20" stroke-width="0.9"/>
<text x="154.20" y="468.40" font-size="7.6" text-anchor="middle" fill="#231f20" textLength="4.20" lengthAdjust="spacingAndGlyphs">S</text>
<line x1="173.30" y1="454.60" x2="173.30" y2="457.00" stroke="#231f20" stroke-width="0.9"/>
<text x="173.30" y="468.40" font-size="7.6" text-anchor="middle" fill="#231f20" textLength="9.20" lengthAdjust="spacingAndGlyphs">G2</text>
<text x="155.40" y="338.80" font-size="9.0" text-anchor="middle" fill="#231f20" textLength="23.20" lengthAdjust="spacingAndGlyphs">THP-1</text>
<line x1="192.40" y1="343.60" x2="192.40" y2="455.10" stroke="#231f20" stroke-width="1.1"/>
<line x1="191.90" y1="454.60" x2="258.20" y2="454.60" stroke="#231f20" stroke-width="1.1"/>
<rect x="196.40" y="383.90" width="6.30" height="64.40" fill="#4b648e" stroke="#3a5280" stroke-width="0.6"/>
<line x1="199.55" y1="382.40" x2="199.55" y2="383.60" stroke="#231f20" stroke-width="0.6"/>
<line x1="197.95" y1="382.40" x2="201.15" y2="382.40" stroke="#231f20" stroke-width="0.9"/>
<rect x="205.10" y="373.50" width="6.40" height="74.80" fill="#a53343" stroke="#8e1f31" stroke-width="0.6"/>
<line x1="208.30" y1="372.00" x2="208.30" y2="373.20" stroke="#231f20" stroke-width="0.6"/>
<line x1="206.70" y1="372.00" x2="209.90" y2="372.00" stroke="#231f20" stroke-width="0.9"/>
<rect x="215.70" y="396.50" width="6.20" height="51.80" fill="#4b648e" stroke="#3a5280" stroke-width="0.6"/>
<line x1="218.80" y1="395.00" x2="218.80" y2="396.20" stroke="#231f20" stroke-width="0.6"/>
<line x1="217.20" y1="395.00" x2="220.40" y2="395.00" stroke="#231f20" stroke-width="0.9"/>
<rect x="224.30" y="408.10" width="6.30" height="40.20" fill="#a53343" stroke="#8e1f31" stroke-width="0.6"/>
<line x1="227.45" y1="406.60" x2="227.45" y2="407.80" stroke="#231f20" stroke-width="0.6"/>
<line x1="225.85" y1="406.60" x2="229.05" y2="406.60" stroke="#231f20" stroke-width="0.9"/>
<rect x="234.90" y="429.10" width="6.50" height="19.20" fill="#4b648e" stroke="#3a5280" stroke-width="0.6"/>
<line x1="238.15" y1="427.60" x2="238.15" y2="428.80" stroke="#231f20" stroke-width="0.6"/>
<line x1="236.55" y1="427.60" x2="239.75" y2="427.60" stroke="#231f20" stroke-width="0.9"/>
<rect x="243.60" y="428.20" width="6.40" height="20.10" fill="#a53343" stroke="#8e1f31" stroke-width="0.6"/>
<line x1="246.80" y1="426.70" x2="246.80" y2="427.90" stroke="#231f20" stroke-width="0.6"/>
<line x1="245.20" y1="426.70" x2="248.40" y2="426.70" stroke="#231f20" stroke-width="0.9"/>
<line x1="198.30" y1="371.30" x2="208.50" y2="371.30" stroke="#231f20" stroke-width="0.9"/>
<text x="203.40" y="371.86" font-size="8.0" text-anchor="middle" fill="#231f20" textLength="8.60" lengthAdjust="spacingAndGlyphs" font-weight="bold">***</text>
<line x1="218.00" y1="393.30" x2="228.30" y2="393.30" stroke="#231f20" stroke-width="0.9"/>
<text x="223.15" y="393.86" font-size="8.0" text-anchor="middle" fill="#231f20" textLength="8.60" lengthAdjust="spacingAndGlyphs" font-weight="bold">***</text>
<line x1="203.80" y1="454.60" x2="203.80" y2="457.00" stroke="#231f20" stroke-width="0.9"/>
<text x="203.80" y="468.40" font-size="7.6" text-anchor="middle" fill="#231f20" textLength="8.70" lengthAdjust="spacingAndGlyphs">G1</text>
<line x1="223.20" y1="454.60" x2="223.20" y2="457.00" stroke="#231f20" stroke-width="0.9"/>
<text x="223.20" y="468.40" font-size="7.6" text-anchor="middle" fill="#231f20" textLength="4.20" lengthAdjust="spacingAndGlyphs">S</text>
<line x1="242.60" y1="454.60" x2="242.60" y2="457.00" stroke="#231f20" stroke-width="0.9"/>
<text x="242.60" y="468.40" font-size="7.6" text-anchor="middle" fill="#231f20" textLength="9.20" lengthAdjust="spacingAndGlyphs">G2</text>
<text x="225.20" y="338.80" font-size="9.0" text-anchor="middle" fill="#231f20" textLength="15.00" lengthAdjust="spacingAndGlyphs">HEL</text>
<text x="27.30" y="398.60" font-size="8.7" text-anchor="middle" fill="#231f20" textLength="107.00" lengthAdjust="spacingAndGlyphs" transform="rotate(-90 27.30 398.60)"><tspan>Percentage of cells (X100%)</tspan></text>
<rect x="61.20" y="474.20" width="7.00" height="6.20" fill="#4b648e"/>
<rect x="61.20" y="485.60" width="7.00" height="6.40" fill="#a53343"/>
<text x="71.60" y="479.90" font-size="7.1" text-anchor="start" fill="#231f20" textLength="30.30" lengthAdjust="spacingAndGlyphs">shControl</text>
<text x="71.60" y="491.20" font-size="7.1" text-anchor="start" fill="#231f20" textLength="34.80" lengthAdjust="spacingAndGlyphs">shCBFA2T3</text>
<rect x="130.50" y="474.20" width="7.00" height="6.20" fill="#4b648e"/>
<rect x="130.50" y="485.60" width="7.00" height="6.40" fill="#a53343"/>
<text x="140.90" y="479.90" font-size="7.1" text-anchor="start" fill="#231f20" textLength="30.30" lengthAdjust="spacingAndGlyphs">shControl</text>
<text x="140.90" y="491.20" font-size="7.1" text-anchor="start" fill="#231f20" textLength="34.80" lengthAdjust="spacingAndGlyphs">shCBFA2T3</text>
<rect x="200.20" y="474.20" width="7.00" height="6.20" fill="#4b648e"/>
<rect x="200.20" y="485.60" width="7.00" height="6.40" fill="#a53343"/>
<text x="210.60" y="479.90" font-size="7.1" text-anchor="start" fill="#231f20" textLength="30.30" lengthAdjust="spacingAndGlyphs">shControl</text>
<text x="210.60" y="491.20" font-size="7.1" text-anchor="start" fill="#231f20" textLength="34.80" lengthAdjust="spacingAndGlyphs">shCBFA2T3</text>
<path d="M320.19,375.30 L321.34,375.29 L322.99,375.28 L324.87,375.27 L326.71,375.23 L328.23,375.17 L329.37,375.11 L330.32,375.04 L331.17,374.94 L331.99,374.78 L332.86,374.54 L333.79,374.29 L334.71,374.05 L335.64,373.70 L336.57,373.14 L337.50,372.28 L338.45,371.00 L339.42,369.39 L340.39,367.58 L341.30,365.72 L342.13,363.96 L342.87,362.18 L343.54,360.29 L344.16,358.46 L344.72,356.86 L345.22,355.64 L345.64,354.88 L345.98,354.44 L346.27,354.26 L346.57,354.27 L346.92,354.38 L347.31,354.60 L347.71,354.95 L348.13,355.47 L348.58,356.20 L349.08,357.16 L349.64,358.46 L350.25,360.09 L350.89,361.87 L351.54,363.64 L352.17,365.22 L352.78,366.66 L353.37,368.07 L353.97,369.39 L354.60,370.56 L355.26,371.52 L356.00,372.24 L356.79,372.76 L357.60,373.12 L358.39,373.36 L359.12,373.54 L359.78,373.65 L360.38,373.69 L360.96,373.61 L361.56,373.40 L362.22,373.03 L362.95,372.45 L363.74,371.66 L364.55,370.76 L365.34,369.85 L366.08,369.00 L366.77,368.18 L367.44,367.31 L368.08,366.48 L368.66,365.76 L369.17,365.22 L369.56,364.93 L369.86,364.86 L370.11,364.87 L370.38,364.86 L370.71,364.72 L371.13,364.33 L371.58,363.78 L372.07,363.22 L372.55,362.80 L373.03,362.70 L373.48,362.93 L373.92,363.38 L374.36,364.02 L374.83,364.81 L375.35,365.72 L375.92,366.87 L376.53,368.27 L377.16,369.76 L377.81,371.15 L378.44,372.28 L379.04,373.11 L379.64,373.78 L380.24,374.30 L380.86,374.72 L381.53,375.05 L382.11,375.26 L382.61,375.30 L383.20,375.30 L384.06,375.30 L385.39,375.30 L387.52,375.30 L390.32,375.30 L393.29,375.30 L395.93,375.30 L397.75,375.30 L397.75,375.30 L320.19,375.30 Z" fill="#c8c9db" stroke="none"/>
<path d="M320.19,375.30 L321.34,375.29 L322.99,375.28 L324.87,375.27 L326.71,375.23 L328.23,375.17 L329.37,375.11 L330.32,375.04 L331.17,374.94 L331.99,374.78 L332.86,374.54 L333.79,374.29 L334.71,374.05 L335.64,373.70 L336.57,373.14 L337.50,372.28 L338.45,371.00 L339.42,369.39 L340.39,367.58 L341.30,365.72 L342.13,363.96 L342.87,362.18 L343.54,360.29 L344.16,358.46 L344.72,356.86 L345.22,355.64 L345.64,354.88 L345.98,354.44 L346.27,354.26 L346.57,354.27 L346.92,354.38 L347.31,354.60 L347.71,354.95 L348.13,355.47 L348.58,356.20 L349.08,357.16 L349.64,358.46 L350.25,360.09 L350.89,361.87 L351.54,363.64 L352.17,365.22 L352.78,366.66 L353.37,368.07 L353.97,369.39 L354.60,370.56 L355.26,371.52 L356.00,372.24 L356.79,372.76 L357.60,373.12 L358.39,373.36 L359.12,373.54 L359.78,373.65 L360.38,373.69 L360.96,373.61 L361.56,373.40 L362.22,373.03 L362.95,372.45 L363.74,371.66 L364.55,370.76 L365.34,369.85 L366.08,369.00 L366.77,368.18 L367.44,367.31 L368.08,366.48 L368.66,365.76 L369.17,365.22 L369.56,364.93 L369.86,364.86 L370.11,364.87 L370.38,364.86 L370.71,364.72 L371.13,364.33 L371.58,363.78 L372.07,363.22 L372.55,362.80 L373.03,362.70 L373.48,362.93 L373.92,363.38 L374.36,364.02 L374.83,364.81 L375.35,365.72 L375.92,366.87 L376.53,368.27 L377.16,369.76 L377.81,371.15 L378.44,372.28 L379.04,373.11 L379.64,373.78 L380.24,374.30 L380.86,374.72 L381.53,375.05 L382.11,375.26 L382.61,375.30 L383.20,375.30 L384.06,375.30 L385.39,375.30 L387.52,375.30 L390.32,375.30 L393.29,375.30 L395.93,375.30 L397.75,375.30" fill="none" stroke="#3f5d8a" stroke-width="1.05" stroke-linejoin="round"/>
<line x1="320.19" y1="375.50" x2="397.75" y2="375.50" stroke="#3f5d8a" stroke-width="1.6"/>
<line x1="359.50" y1="350.10" x2="397.90" y2="350.10" stroke="#4d4d4d" stroke-width="1.0"/>
<text x="378.60" y="345.80" font-size="7.2" text-anchor="middle" fill="#231f20" textLength="19.20" lengthAdjust="spacingAndGlyphs">39.1%</text>
<rect x="316.80" y="333.50" width="84.40" height="43.60" fill="none" stroke="#231f20" stroke-width="1.1"/>
<line x1="313.80" y1="375.30" x2="316.80" y2="375.30" stroke="#231f20" stroke-width="1.0"/>
<text x="310.60" y="377.80" font-size="7.1" text-anchor="end" fill="#231f20" textLength="10.20" lengthAdjust="spacingAndGlyphs">0.0</text>
<line x1="313.80" y1="362.70" x2="316.80" y2="362.70" stroke="#231f20" stroke-width="1.0"/>
<text x="310.60" y="365.20" font-size="7.1" text-anchor="end" fill="#231f20" textLength="10.20" lengthAdjust="spacingAndGlyphs">0.5</text>
<line x1="313.80" y1="350.10" x2="316.80" y2="350.10" stroke="#231f20" stroke-width="1.0"/>
<text x="310.60" y="352.60" font-size="7.1" text-anchor="end" fill="#231f20" textLength="10.20" lengthAdjust="spacingAndGlyphs">1.0</text>
<line x1="313.80" y1="337.50" x2="316.80" y2="337.50" stroke="#231f20" stroke-width="1.0"/>
<text x="310.60" y="340.00" font-size="7.1" text-anchor="end" fill="#231f20" textLength="10.20" lengthAdjust="spacingAndGlyphs">1.5</text>
<path d="M415.09,375.30 L416.24,375.29 L417.89,375.28 L419.77,375.27 L421.61,375.23 L423.12,375.17 L424.27,375.12 L425.22,375.07 L426.07,374.99 L426.89,374.83 L427.76,374.54 L428.70,374.19 L429.65,373.78 L430.60,373.26 L431.52,372.53 L432.39,371.52 L433.24,370.15 L434.05,368.47 L434.84,366.60 L435.58,364.64 L436.26,362.70 L436.87,360.64 L437.43,358.37 L437.95,356.13 L438.43,354.14 L438.88,352.62 L439.30,351.63 L439.67,351.02 L440.01,350.70 L440.36,350.59 L440.74,350.60 L441.14,350.70 L441.56,350.95 L441.99,351.39 L442.43,352.10 L442.90,353.12 L443.39,354.62 L443.90,356.54 L444.42,358.68 L444.97,360.80 L445.53,362.70 L446.13,364.41 L446.77,366.09 L447.41,367.66 L448.04,369.07 L448.62,370.26 L449.12,371.21 L449.56,371.97 L449.99,372.55 L450.43,372.98 L450.93,373.28 L451.52,373.41 L452.15,373.34 L452.81,373.15 L453.44,372.94 L454.02,372.78 L454.53,372.72 L454.97,372.71 L455.40,372.68 L455.84,372.55 L456.34,372.28 L456.91,371.79 L457.52,371.13 L458.16,370.39 L458.80,369.65 L459.43,369.00 L460.06,368.43 L460.71,367.89 L461.34,367.38 L461.95,366.91 L462.52,366.48 L463.02,366.08 L463.47,365.69 L463.89,365.36 L464.34,365.11 L464.84,364.97 L465.41,364.89 L466.02,364.87 L466.66,364.95 L467.30,365.21 L467.93,365.72 L468.54,366.60 L469.13,367.80 L469.73,369.14 L470.35,370.44 L471.02,371.52 L471.74,372.38 L472.51,373.14 L473.30,373.81 L474.10,374.36 L474.88,374.80 L475.49,375.08 L475.95,375.22 L476.48,375.27 L477.33,375.28 L478.74,375.30 L481.11,375.30 L484.25,375.30 L487.61,375.30 L490.60,375.30 L492.65,375.30 L492.65,375.30 L415.09,375.30 Z" fill="#eac5bb" stroke="none"/>
<path d="M415.09,375.30 L416.24,375.29 L417.89,375.28 L419.77,375.27 L421.61,375.23 L423.12,375.17 L424.27,375.12 L425.22,375.07 L426.07,374.99 L426.89,374.83 L427.76,374.54 L428.70,374.19 L429.65,373.78 L430.60,373.26 L431.52,372.53 L432.39,371.52 L433.24,370.15 L434.05,368.47 L434.84,366.60 L435.58,364.64 L436.26,362.70 L436.87,360.64 L437.43,358.37 L437.95,356.13 L438.43,354.14 L438.88,352.62 L439.30,351.63 L439.67,351.02 L440.01,350.70 L440.36,350.59 L440.74,350.60 L441.14,350.70 L441.56,350.95 L441.99,351.39 L442.43,352.10 L442.90,353.12 L443.39,354.62 L443.90,356.54 L444.42,358.68 L444.97,360.80 L445.53,362.70 L446.13,364.41 L446.77,366.09 L447.41,367.66 L448.04,369.07 L448.62,370.26 L449.12,371.21 L449.56,371.97 L449.99,372.55 L450.43,372.98 L450.93,373.28 L451.52,373.41 L452.15,373.34 L452.81,373.15 L453.44,372.94 L454.02,372.78 L454.53,372.72 L454.97,372.71 L455.40,372.68 L455.84,372.55 L456.34,372.28 L456.91,371.79 L457.52,371.13 L458.16,370.39 L458.80,369.65 L459.43,369.00 L460.06,368.43 L460.71,367.89 L461.34,367.38 L461.95,366.91 L462.52,366.48 L463.02,366.08 L463.47,365.69 L463.89,365.36 L464.34,365.11 L464.84,364.97 L465.41,364.89 L466.02,364.87 L466.66,364.95 L467.30,365.21 L467.93,365.72 L468.54,366.60 L469.13,367.80 L469.73,369.14 L470.35,370.44 L471.02,371.52 L471.74,372.38 L472.51,373.14 L473.30,373.81 L474.10,374.36 L474.88,374.80 L475.49,375.08 L475.95,375.22 L476.48,375.27 L477.33,375.28 L478.74,375.30 L481.11,375.30 L484.25,375.30 L487.61,375.30 L490.60,375.30 L492.65,375.30" fill="none" stroke="#a8283d" stroke-width="1.05" stroke-linejoin="round"/>
<line x1="415.09" y1="375.50" x2="492.65" y2="375.50" stroke="#a8283d" stroke-width="1.6"/>
<line x1="454.60" y1="350.30" x2="492.80" y2="350.30" stroke="#4d4d4d" stroke-width="1.0"/>
<text x="473.40" y="346.00" font-size="7.2" text-anchor="middle" fill="#231f20" textLength="19.20" lengthAdjust="spacingAndGlyphs">31.9%</text>
<rect x="411.70" y="333.50" width="84.90" height="43.60" fill="none" stroke="#231f20" stroke-width="1.1"/>
<rect x="496.6" y="333.50" width="13.8" height="43.60" fill="none" stroke="#231f20" stroke-width="1.1"/>
<text x="500.80" y="355.30" font-size="8.0" text-anchor="middle" fill="#231f20" textLength="14.60" lengthAdjust="spacingAndGlyphs" transform="rotate(90 500.80 355.30)">HEL</text>
<path d="M320.19,426.10 L321.34,426.08 L322.99,426.05 L324.87,426.02 L326.71,425.95 L328.23,425.85 L329.37,425.74 L330.32,425.63 L331.17,425.48 L331.99,425.23 L332.86,424.84 L333.80,424.34 L334.75,423.77 L335.70,423.07 L336.62,422.18 L337.50,421.06 L338.34,419.55 L339.16,417.68 L339.95,415.68 L340.69,413.79 L341.36,412.24 L341.95,410.98 L342.46,409.85 L342.93,408.93 L343.38,408.27 L343.83,407.96 L344.27,408.04 L344.67,408.48 L345.08,409.18 L345.51,410.05 L345.99,410.98 L346.55,412.04 L347.16,413.29 L347.80,414.64 L348.45,416.00 L349.08,417.28 L349.69,418.54 L350.30,419.85 L350.90,421.11 L351.52,422.22 L352.17,423.08 L352.84,423.66 L353.53,424.03 L354.24,424.23 L354.97,424.32 L355.73,424.34 L356.53,424.28 L357.36,424.11 L358.22,423.85 L359.07,423.50 L359.90,423.08 L360.69,422.60 L361.46,422.06 L362.23,421.42 L362.99,420.68 L363.76,419.80 L364.54,418.75 L365.34,417.53 L366.13,416.22 L366.90,414.86 L367.62,413.50 L368.32,412.04 L369.00,410.44 L369.65,408.87 L370.23,407.48 L370.71,406.44 L371.07,405.75 L371.31,405.29 L371.50,405.08 L371.69,405.12 L371.95,405.44 L372.27,406.05 L372.62,406.96 L373.00,408.12 L373.39,409.48 L373.80,410.98 L374.22,412.80 L374.66,414.96 L375.12,417.23 L375.60,419.34 L376.12,421.06 L376.69,422.34 L377.30,423.36 L377.94,424.16 L378.58,424.81 L379.21,425.34 L379.63,425.73 L379.85,425.94 L380.17,426.02 L380.89,426.05 L382.30,426.10 L384.85,426.10 L388.33,426.10 L392.09,426.10 L395.45,426.10 L397.75,426.10 L397.75,426.10 L320.19,426.10 Z" fill="#c8c9db" stroke="none"/>
<path d="M320.19,426.10 L321.34,426.08 L322.99,426.05 L324.87,426.02 L326.71,425.95 L328.23,425.85 L329.37,425.74 L330.32,425.63 L331.17,425.48 L331.99,425.23 L332.86,424.84 L333.80,424.34 L334.75,423.77 L335.70,423.07 L336.62,422.18 L337.50,421.06 L338.34,419.55 L339.16,417.68 L339.95,415.68 L340.69,413.79 L341.36,412.24 L341.95,410.98 L342.46,409.85 L342.93,408.93 L343.38,408.27 L343.83,407.96 L344.27,408.04 L344.67,408.48 L345.08,409.18 L345.51,410.05 L345.99,410.98 L346.55,412.04 L347.16,413.29 L347.80,414.64 L348.45,416.00 L349.08,417.28 L349.69,418.54 L350.30,419.85 L350.90,421.11 L351.52,422.22 L352.17,423.08 L352.84,423.66 L353.53,424.03 L354.24,424.23 L354.97,424.32 L355.73,424.34 L356.53,424.28 L357.36,424.11 L358.22,423.85 L359.07,423.50 L359.90,423.08 L360.69,422.60 L361.46,422.06 L362.23,421.42 L362.99,420.68 L363.76,419.80 L364.54,418.75 L365.34,417.53 L366.13,416.22 L366.90,414.86 L367.62,413.50 L368.32,412.04 L369.00,410.44 L369.65,408.87 L370.23,407.48 L370.71,406.44 L371.07,405.75 L371.31,405.29 L371.50,405.08 L371.69,405.12 L371.95,405.44 L372.27,406.05 L372.62,406.96 L373.00,408.12 L373.39,409.48 L373.80,410.98 L374.22,412.80 L374.66,414.96 L375.12,417.23 L375.60,419.34 L376.12,421.06 L376.69,422.34 L377.30,423.36 L377.94,424.16 L378.58,424.81 L379.21,425.34 L379.63,425.73 L379.85,425.94 L380.17,426.02 L380.89,426.05 L382.30,426.10 L384.85,426.10 L388.33,426.10 L392.09,426.10 L395.45,426.10 L397.75,426.10" fill="none" stroke="#3f5d8a" stroke-width="1.05" stroke-linejoin="round"/>
<line x1="320.19" y1="426.30" x2="397.75" y2="426.30" stroke="#3f5d8a" stroke-width="1.6"/>
<line x1="357.20" y1="400.90" x2="397.90" y2="400.90" stroke="#4d4d4d" stroke-width="1.0"/>
<text x="377.60" y="396.60" font-size="7.2" text-anchor="middle" fill="#231f20" textLength="19.20" lengthAdjust="spacingAndGlyphs">45.4%</text>
<rect x="316.80" y="384.30" width="84.40" height="43.80" fill="none" stroke="#231f20" stroke-width="1.1"/>
<line x1="313.80" y1="426.10" x2="316.80" y2="426.10" stroke="#231f20" stroke-width="1.0"/>
<text x="310.60" y="428.60" font-size="7.1" text-anchor="end" fill="#231f20" textLength="10.20" lengthAdjust="spacingAndGlyphs">0.0</text>
<line x1="313.80" y1="413.50" x2="316.80" y2="413.50" stroke="#231f20" stroke-width="1.0"/>
<text x="310.60" y="416.00" font-size="7.1" text-anchor="end" fill="#231f20" textLength="10.20" lengthAdjust="spacingAndGlyphs">0.5</text>
<line x1="313.80" y1="400.90" x2="316.80" y2="400.90" stroke="#231f20" stroke-width="1.0"/>
<text x="310.60" y="403.40" font-size="7.1" text-anchor="end" fill="#231f20" textLength="10.20" lengthAdjust="spacingAndGlyphs">1.0</text>
<line x1="313.80" y1="388.30" x2="316.80" y2="388.30" stroke="#231f20" stroke-width="1.0"/>
<text x="310.60" y="390.80" font-size="7.1" text-anchor="end" fill="#231f20" textLength="10.20" lengthAdjust="spacingAndGlyphs">1.5</text>
<path d="M415.09,426.10 L416.24,426.08 L417.89,426.05 L419.77,426.02 L421.61,425.95 L423.12,425.85 L424.28,425.76 L425.26,425.69 L426.12,425.57 L426.94,425.31 L427.76,424.84 L428.59,424.17 L429.40,423.36 L430.17,422.37 L430.91,421.20 L431.62,419.80 L432.30,418.03 L432.95,415.90 L433.57,413.65 L434.16,411.51 L434.71,409.72 L435.24,408.27 L435.73,406.99 L436.20,405.92 L436.63,405.05 L437.03,404.43 L437.38,404.03 L437.67,403.84 L437.94,403.88 L438.23,404.15 L438.57,404.68 L438.98,405.51 L439.41,406.64 L439.87,407.99 L440.37,409.46 L440.89,410.98 L441.47,412.66 L442.11,414.57 L442.77,416.51 L443.40,418.32 L443.98,419.80 L444.49,420.93 L444.95,421.82 L445.39,422.53 L445.83,423.10 L446.30,423.58 L446.79,423.95 L447.28,424.17 L447.79,424.29 L448.34,424.33 L448.93,424.34 L449.59,424.31 L450.30,424.23 L451.05,424.08 L451.78,423.87 L452.48,423.58 L453.12,423.20 L453.71,422.72 L454.30,422.19 L454.91,421.62 L455.57,421.06 L456.32,420.50 L457.13,419.94 L457.96,419.34 L458.75,418.71 L459.43,418.04 L460.00,417.27 L460.49,416.44 L460.93,415.57 L461.34,414.75 L461.75,414.00 L462.16,413.29 L462.54,412.56 L462.91,411.92 L463.26,411.44 L463.60,411.23 L463.93,411.26 L464.22,411.46 L464.51,411.88 L464.82,412.55 L465.15,413.50 L465.52,414.94 L465.90,416.83 L466.31,418.89 L466.73,420.82 L467.16,422.32 L467.59,423.33 L468.03,424.06 L468.48,424.58 L468.96,424.98 L469.47,425.34 L469.77,425.65 L469.84,425.85 L470.07,425.96 L470.85,426.03 L472.56,426.10 L475.82,426.10 L480.34,426.10 L485.25,426.10 L489.65,426.10 L492.65,426.10 L492.65,426.10 L415.09,426.10 Z" fill="#eac5bb" stroke="none"/>
<path d="M415.09,426.10 L416.24,426.08 L417.89,426.05 L419.77,426.02 L421.61,425.95 L423.12,425.85 L424.28,425.76 L425.26,425.69 L426.12,425.57 L426.94,425.31 L427.76,424.84 L428.59,424.17 L429.40,423.36 L430.17,422.37 L430.91,421.20 L431.62,419.80 L432.30,418.03 L432.95,415.90 L433.57,413.65 L434.16,411.51 L434.71,409.72 L435.24,408.27 L435.73,406.99 L436.20,405.92 L436.63,405.05 L437.03,404.43 L437.38,404.03 L437.67,403.84 L437.94,403.88 L438.23,404.15 L438.57,404.68 L438.98,405.51 L439.41,406.64 L439.87,407.99 L440.37,409.46 L440.89,410.98 L441.47,412.66 L442.11,414.57 L442.77,416.51 L443.40,418.32 L443.98,419.80 L444.49,420.93 L444.95,421.82 L445.39,422.53 L445.83,423.10 L446.30,423.58 L446.79,423.95 L447.28,424.17 L447.79,424.29 L448.34,424.33 L448.93,424.34 L449.59,424.31 L450.30,424.23 L451.05,424.08 L451.78,423.87 L452.48,423.58 L453.12,423.20 L453.71,422.72 L454.30,422.19 L454.91,421.62 L455.57,421.06 L456.32,420.50 L457.13,419.94 L457.96,419.34 L458.75,418.71 L459.43,418.04 L460.00,417.27 L460.49,416.44 L460.93,415.57 L461.34,414.75 L461.75,414.00 L462.16,413.29 L462.54,412.56 L462.91,411.92 L463.26,411.44 L463.60,411.23 L463.93,411.26 L464.22,411.46 L464.51,411.88 L464.82,412.55 L465.15,413.50 L465.52,414.94 L465.90,416.83 L466.31,418.89 L466.73,420.82 L467.16,422.32 L467.59,423.33 L468.03,424.06 L468.48,424.58 L468.96,424.98 L469.47,425.34 L469.77,425.65 L469.84,425.85 L470.07,425.96 L470.85,426.03 L472.56,426.10 L475.82,426.10 L480.34,426.10 L485.25,426.10 L489.65,426.10 L492.65,426.10" fill="none" stroke="#a8283d" stroke-width="1.05" stroke-linejoin="round"/>
<line x1="415.09" y1="426.30" x2="492.65" y2="426.30" stroke="#a8283d" stroke-width="1.6"/>
<line x1="452.20" y1="401.10" x2="492.80" y2="401.10" stroke="#4d4d4d" stroke-width="1.0"/>
<text x="472.50" y="396.80" font-size="7.2" text-anchor="middle" fill="#231f20" textLength="19.20" lengthAdjust="spacingAndGlyphs">33.5%</text>
<rect x="411.70" y="384.30" width="84.90" height="43.80" fill="none" stroke="#231f20" stroke-width="1.1"/>
<rect x="496.6" y="384.30" width="13.8" height="43.80" fill="none" stroke="#231f20" stroke-width="1.1"/>
<text x="500.80" y="403.90" font-size="8.0" text-anchor="middle" fill="#231f20" textLength="19.60" lengthAdjust="spacingAndGlyphs" transform="rotate(90 500.80 403.90)">THP-1</text>
<path d="M320.19,477.00 L321.34,476.98 L322.99,476.95 L324.87,476.92 L326.71,476.85 L328.23,476.75 L329.37,476.65 L330.32,476.56 L331.17,476.42 L331.99,476.16 L332.86,475.74 L333.80,475.16 L334.75,474.46 L335.70,473.62 L336.62,472.62 L337.50,471.46 L338.33,469.99 L339.13,468.24 L339.91,466.39 L340.65,464.63 L341.36,463.14 L342.04,461.85 L342.69,460.62 L343.30,459.58 L343.89,458.87 L344.45,458.60 L344.96,458.90 L345.43,459.68 L345.88,460.76 L346.31,461.97 L346.76,463.14 L347.23,464.33 L347.69,465.65 L348.16,467.02 L348.62,468.31 L349.08,469.44 L349.51,470.41 L349.90,471.28 L350.31,472.05 L350.79,472.70 L351.40,473.22 L352.18,473.59 L353.09,473.81 L354.07,473.93 L355.07,473.97 L356.03,473.98 L356.97,473.95 L357.93,473.87 L358.87,473.72 L359.79,473.51 L360.67,473.22 L361.51,472.82 L362.32,472.31 L363.10,471.76 L363.84,471.20 L364.53,470.70 L365.17,470.30 L365.77,469.97 L366.32,469.63 L366.83,469.22 L367.31,468.68 L367.74,468.07 L368.10,467.41 L368.44,466.64 L368.78,465.66 L369.17,464.40 L369.61,462.60 L370.10,460.33 L370.59,457.94 L371.06,455.82 L371.49,454.32 L371.84,453.51 L372.16,453.14 L372.45,453.12 L372.73,453.38 L373.03,453.82 L373.34,454.44 L373.65,455.32 L373.96,456.43 L374.27,457.78 L374.57,459.36 L374.88,461.35 L375.19,463.77 L375.50,466.32 L375.81,468.73 L376.12,470.70 L376.42,472.21 L376.70,473.46 L376.99,474.47 L377.31,475.30 L377.67,475.99 L377.83,476.48 L377.79,476.75 L377.91,476.88 L378.52,476.93 L379.98,477.00 L382.83,477.00 L386.83,477.00 L391.18,477.00 L395.09,477.00 L397.75,477.00 L397.75,477.00 L320.19,477.00 Z" fill="#c8c9db" stroke="none"/>
<path d="M320.19,477.00 L321.34,476.98 L322.99,476.95 L324.87,476.92 L326.71,476.85 L328.23,476.75 L329.37,476.65 L330.32,476.56 L331.17,476.42 L331.99,476.16 L332.86,475.74 L333.80,475.16 L334.75,474.46 L335.70,473.62 L336.62,472.62 L337.50,471.46 L338.33,469.99 L339.13,468.24 L339.91,466.39 L340.65,464.63 L341.36,463.14 L342.04,461.85 L342.69,460.62 L343.30,459.58 L343.89,458.87 L344.45,458.60 L344.96,458.90 L345.43,459.68 L345.88,460.76 L346.31,461.97 L346.76,463.14 L347.23,464.33 L347.69,465.65 L348.16,467.02 L348.62,468.31 L349.08,469.44 L349.51,470.41 L349.90,471.28 L350.31,472.05 L350.79,472.70 L351.40,473.22 L352.18,473.59 L353.09,473.81 L354.07,473.93 L355.07,473.97 L356.03,473.98 L356.97,473.95 L357.93,473.87 L358.87,473.72 L359.79,473.51 L360.67,473.22 L361.51,472.82 L362.32,472.31 L363.10,471.76 L363.84,471.20 L364.53,470.70 L365.17,470.30 L365.77,469.97 L366.32,469.63 L366.83,469.22 L367.31,468.68 L367.74,468.07 L368.10,467.41 L368.44,466.64 L368.78,465.66 L369.17,464.40 L369.61,462.60 L370.10,460.33 L370.59,457.94 L371.06,455.82 L371.49,454.32 L371.84,453.51 L372.16,453.14 L372.45,453.12 L372.73,453.38 L373.03,453.82 L373.34,454.44 L373.65,455.32 L373.96,456.43 L374.27,457.78 L374.57,459.36 L374.88,461.35 L375.19,463.77 L375.50,466.32 L375.81,468.73 L376.12,470.70 L376.42,472.21 L376.70,473.46 L376.99,474.47 L377.31,475.30 L377.67,475.99 L377.83,476.48 L377.79,476.75 L377.91,476.88 L378.52,476.93 L379.98,477.00 L382.83,477.00 L386.83,477.00 L391.18,477.00 L395.09,477.00 L397.75,477.00" fill="none" stroke="#3f5d8a" stroke-width="1.05" stroke-linejoin="round"/>
<line x1="320.19" y1="477.20" x2="397.75" y2="477.20" stroke="#3f5d8a" stroke-width="1.6"/>
<line x1="357.30" y1="452.00" x2="397.90" y2="452.00" stroke="#4d4d4d" stroke-width="1.0"/>
<text x="377.90" y="447.70" font-size="7.2" text-anchor="middle" fill="#231f20" textLength="19.20" lengthAdjust="spacingAndGlyphs">47.2%</text>
<rect x="316.80" y="434.90" width="84.40" height="44.10" fill="none" stroke="#231f20" stroke-width="1.1"/>
<line x1="313.80" y1="477.00" x2="316.80" y2="477.00" stroke="#231f20" stroke-width="1.0"/>
<text x="310.60" y="479.50" font-size="7.1" text-anchor="end" fill="#231f20" textLength="10.20" lengthAdjust="spacingAndGlyphs">0.0</text>
<line x1="313.80" y1="464.40" x2="316.80" y2="464.40" stroke="#231f20" stroke-width="1.0"/>
<text x="310.60" y="466.90" font-size="7.1" text-anchor="end" fill="#231f20" textLength="10.20" lengthAdjust="spacingAndGlyphs">0.5</text>
<line x1="313.80" y1="451.80" x2="316.80" y2="451.80" stroke="#231f20" stroke-width="1.0"/>
<text x="310.60" y="454.30" font-size="7.1" text-anchor="end" fill="#231f20" textLength="10.20" lengthAdjust="spacingAndGlyphs">1.0</text>
<line x1="313.80" y1="439.20" x2="316.80" y2="439.20" stroke="#231f20" stroke-width="1.0"/>
<text x="310.60" y="441.70" font-size="7.1" text-anchor="end" fill="#231f20" textLength="10.20" lengthAdjust="spacingAndGlyphs">1.5</text>
<path d="M415.09,477.00 L416.24,476.98 L417.89,476.95 L419.77,476.92 L421.61,476.85 L423.12,476.75 L424.27,476.66 L425.22,476.59 L426.07,476.47 L426.89,476.21 L427.76,475.74 L428.71,475.07 L429.69,474.26 L430.65,473.27 L431.57,472.10 L432.39,470.70 L433.12,468.98 L433.78,466.95 L434.38,464.77 L434.94,462.60 L435.48,460.62 L436.02,458.75 L436.52,456.89 L436.99,455.13 L437.42,453.57 L437.80,452.30 L438.12,451.34 L438.37,450.60 L438.58,450.10 L438.80,449.82 L439.04,449.78 L439.29,449.94 L439.53,450.29 L439.79,450.89 L440.08,451.80 L440.43,453.06 L440.85,454.86 L441.33,457.17 L441.85,459.71 L442.38,462.21 L442.90,464.40 L443.40,466.32 L443.90,468.15 L444.41,469.83 L444.95,471.29 L445.53,472.46 L446.13,473.29 L446.75,473.80 L447.41,474.11 L448.13,474.30 L448.93,474.48 L449.87,474.62 L450.93,474.65 L452.04,474.61 L453.10,474.54 L454.02,474.48 L454.80,474.44 L455.47,474.39 L456.08,474.31 L456.67,474.18 L457.27,473.98 L457.87,473.69 L458.46,473.34 L459.03,472.93 L459.61,472.47 L460.20,471.96 L460.81,471.38 L461.43,470.72 L462.05,470.02 L462.67,469.33 L463.29,468.68 L463.94,468.06 L464.61,467.43 L465.26,466.83 L465.87,466.31 L466.38,465.91 L466.79,465.61 L467.11,465.39 L467.39,465.26 L467.65,465.26 L467.93,465.41 L468.24,465.70 L468.55,466.14 L468.86,466.70 L469.17,467.38 L469.47,468.18 L469.78,469.20 L470.07,470.44 L470.37,471.75 L470.68,472.98 L471.02,473.98 L471.38,474.72 L471.76,475.32 L472.16,475.79 L472.58,476.17 L473.03,476.50 L473.28,476.73 L473.34,476.87 L473.54,476.93 L474.20,476.96 L475.65,477.00 L478.41,477.00 L482.23,477.00 L486.39,477.00 L490.11,477.00 L492.65,477.00 L492.65,477.00 L415.09,477.00 Z" fill="#eac5bb" stroke="none"/>
<path d="M415.09,477.00 L416.24,476.98 L417.89,476.95 L419.77,476.92 L421.61,476.85 L423.12,476.75 L424.27,476.66 L425.22,476.59 L426.07,476.47 L426.89,476.21 L427.76,475.74 L428.71,475.07 L429.69,474.26 L430.65,473.27 L431.57,472.10 L432.39,470.70 L433.12,468.98 L433.78,466.95 L434.38,464.77 L434.94,462.60 L435.48,460.62 L436.02,458.75 L436.52,456.89 L436.99,455.13 L437.42,453.57 L437.80,452.30 L438.12,451.34 L438.37,450.60 L438.58,450.10 L438.80,449.82 L439.04,449.78 L439.29,449.94 L439.53,450.29 L439.79,450.89 L440.08,451.80 L440.43,453.06 L440.85,454.86 L441.33,457.17 L441.85,459.71 L442.38,462.21 L442.90,464.40 L443.40,466.32 L443.90,468.15 L444.41,469.83 L444.95,471.29 L445.53,472.46 L446.13,473.29 L446.75,473.80 L447.41,474.11 L448.13,474.30 L448.93,474.48 L449.87,474.62 L450.93,474.65 L452.04,474.61 L453.10,474.54 L454.02,474.48 L454.80,474.44 L455.47,474.39 L456.08,474.31 L456.67,474.18 L457.27,473.98 L457.87,473.69 L458.46,473.34 L459.03,472.93 L459.61,472.47 L460.20,471.96 L460.81,471.38 L461.43,470.72 L462.05,470.02 L462.67,469.33 L463.29,468.68 L463.94,468.06 L464.61,467.43 L465.26,466.83 L465.87,466.31 L466.38,465.91 L466.79,465.61 L467.11,465.39 L467.39,465.26 L467.65,465.26 L467.93,465.41 L468.24,465.70 L468.55,466.14 L468.86,466.70 L469.17,467.38 L469.47,468.18 L469.78,469.20 L470.07,470.44 L470.37,471.75 L470.68,472.98 L471.02,473.98 L471.38,474.72 L471.76,475.32 L472.16,475.79 L472.58,476.17 L473.03,476.50 L473.28,476.73 L473.34,476.87 L473.54,476.93 L474.20,476.96 L475.65,477.00 L478.41,477.00 L482.23,477.00 L486.39,477.00 L490.11,477.00 L492.65,477.00" fill="none" stroke="#a8283d" stroke-width="1.05" stroke-linejoin="round"/>
<line x1="415.09" y1="477.20" x2="492.65" y2="477.20" stroke="#a8283d" stroke-width="1.6"/>
<line x1="452.60" y1="452.00" x2="492.80" y2="452.00" stroke="#4d4d4d" stroke-width="1.0"/>
<text x="473.00" y="447.70" font-size="7.2" text-anchor="middle" fill="#231f20" textLength="19.20" lengthAdjust="spacingAndGlyphs">29.1%</text>
<rect x="411.70" y="434.90" width="84.90" height="44.10" fill="none" stroke="#231f20" stroke-width="1.1"/>
<rect x="496.6" y="434.90" width="13.8" height="44.10" fill="none" stroke="#231f20" stroke-width="1.1"/>
<text x="500.80" y="456.95" font-size="8.0" text-anchor="middle" fill="#231f20" textLength="19.50" lengthAdjust="spacingAndGlyphs" transform="rotate(90 500.80 456.95)">U937</text>
<rect x="316.80" y="319.6" width="84.40" height="13.9" fill="none" stroke="#231f20" stroke-width="1.1"/>
<text x="359.00" y="329.60" font-size="9.0" text-anchor="middle" fill="#231f20" textLength="39.30" lengthAdjust="spacingAndGlyphs">shControl</text>
<line x1="320.50" y1="479.00" x2="320.50" y2="481.60" stroke="#231f20" stroke-width="0.9"/>
<text x="320.80" y="491.40" font-size="6.8" text-anchor="middle" fill="#231f20" textLength="10.80" lengthAdjust="spacingAndGlyphs"><tspan>10</tspan><tspan font-size="4.22" dy="-2.58">2</tspan><tspan dy="2.58"></tspan></text>
<line x1="335.95" y1="479.00" x2="335.95" y2="481.60" stroke="#231f20" stroke-width="0.9"/>
<text x="336.25" y="491.40" font-size="6.8" text-anchor="middle" fill="#231f20" textLength="10.80" lengthAdjust="spacingAndGlyphs"><tspan>10</tspan><tspan font-size="4.22" dy="-2.58">3</tspan><tspan dy="2.58"></tspan></text>
<line x1="351.40" y1="479.00" x2="351.40" y2="481.60" stroke="#231f20" stroke-width="0.9"/>
<text x="351.70" y="491.40" font-size="6.8" text-anchor="middle" fill="#231f20" textLength="10.80" lengthAdjust="spacingAndGlyphs"><tspan>10</tspan><tspan font-size="4.22" dy="-2.58">4</tspan><tspan dy="2.58"></tspan></text>
<line x1="366.85" y1="479.00" x2="366.85" y2="481.60" stroke="#231f20" stroke-width="0.9"/>
<text x="367.15" y="491.40" font-size="6.8" text-anchor="middle" fill="#231f20" textLength="10.80" lengthAdjust="spacingAndGlyphs"><tspan>10</tspan><tspan font-size="4.22" dy="-2.58">5</tspan><tspan dy="2.58"></tspan></text>
<line x1="382.30" y1="479.00" x2="382.30" y2="481.60" stroke="#231f20" stroke-width="0.9"/>
<text x="382.60" y="491.40" font-size="6.8" text-anchor="middle" fill="#231f20" textLength="10.80" lengthAdjust="spacingAndGlyphs"><tspan>10</tspan><tspan font-size="4.22" dy="-2.58">6</tspan><tspan dy="2.58"></tspan></text>
<line x1="397.75" y1="479.00" x2="397.75" y2="481.60" stroke="#231f20" stroke-width="0.9"/>
<text x="398.05" y="491.40" font-size="6.8" text-anchor="middle" fill="#231f20" textLength="10.80" lengthAdjust="spacingAndGlyphs"><tspan>10</tspan><tspan font-size="4.22" dy="-2.58">7</tspan><tspan dy="2.58"></tspan></text>
<rect x="411.70" y="319.6" width="84.90" height="13.9" fill="none" stroke="#231f20" stroke-width="1.1"/>
<text x="454.15" y="329.60" font-size="9.0" text-anchor="middle" fill="#231f20" textLength="44.50" lengthAdjust="spacingAndGlyphs">shCBFA2T3</text>
<line x1="415.40" y1="479.00" x2="415.40" y2="481.60" stroke="#231f20" stroke-width="0.9"/>
<text x="415.70" y="491.40" font-size="6.8" text-anchor="middle" fill="#231f20" textLength="10.80" lengthAdjust="spacingAndGlyphs"><tspan>10</tspan><tspan font-size="4.22" dy="-2.58">2</tspan><tspan dy="2.58"></tspan></text>
<line x1="430.85" y1="479.00" x2="430.85" y2="481.60" stroke="#231f20" stroke-width="0.9"/>
<text x="431.15" y="491.40" font-size="6.8" text-anchor="middle" fill="#231f20" textLength="10.80" lengthAdjust="spacingAndGlyphs"><tspan>10</tspan><tspan font-size="4.22" dy="-2.58">3</tspan><tspan dy="2.58"></tspan></text>
<line x1="446.30" y1="479.00" x2="446.30" y2="481.60" stroke="#231f20" stroke-width="0.9"/>
<text x="446.60" y="491.40" font-size="6.8" text-anchor="middle" fill="#231f20" textLength="10.80" lengthAdjust="spacingAndGlyphs"><tspan>10</tspan><tspan font-size="4.22" dy="-2.58">4</tspan><tspan dy="2.58"></tspan></text>
<line x1="461.75" y1="479.00" x2="461.75" y2="481.60" stroke="#231f20" stroke-width="0.9"/>
<text x="462.05" y="491.40" font-size="6.8" text-anchor="middle" fill="#231f20" textLength="10.80" lengthAdjust="spacingAndGlyphs"><tspan>10</tspan><tspan font-size="4.22" dy="-2.58">5</tspan><tspan dy="2.58"></tspan></text>
<line x1="477.20" y1="479.00" x2="477.20" y2="481.60" stroke="#231f20" stroke-width="0.9"/>
<text x="477.50" y="491.40" font-size="6.8" text-anchor="middle" fill="#231f20" textLength="10.80" lengthAdjust="spacingAndGlyphs"><tspan>10</tspan><tspan font-size="4.22" dy="-2.58">6</tspan><tspan dy="2.58"></tspan></text>
<line x1="492.65" y1="479.00" x2="492.65" y2="481.60" stroke="#231f20" stroke-width="0.9"/>
<text x="492.95" y="491.40" font-size="6.8" text-anchor="middle" fill="#231f20" textLength="10.80" lengthAdjust="spacingAndGlyphs"><tspan>10</tspan><tspan font-size="4.22" dy="-2.58">7</tspan><tspan dy="2.58"></tspan></text>
<text x="293.40" y="405.20" font-size="8.6" text-anchor="middle" fill="#231f20" textLength="30.80" lengthAdjust="spacingAndGlyphs" transform="rotate(-90 293.40 405.20)"><tspan>Density</tspan></text>
<line x1="318.50" y1="501.30" x2="388.70" y2="501.30" stroke="#444" stroke-width="1.0"/>
<line x1="420.30" y1="501.30" x2="490.50" y2="501.30" stroke="#444" stroke-width="1.0"/>
<text x="403.30" y="503.70" font-size="6.8" text-anchor="middle" fill="#231f20" textLength="17.40" lengthAdjust="spacingAndGlyphs">BrdU</text>
<line x1="194.30" y1="564.70" x2="194.30" y2="659.50" stroke="#231f20" stroke-width="1.1"/>
<line x1="193.80" y1="659.00" x2="319.20" y2="659.00" stroke="#231f20" stroke-width="1.1"/>
<line x1="191.20" y1="643.20" x2="194.30" y2="643.20" stroke="#231f20" stroke-width="1.0"/>
<text x="188.60" y="646.00" font-size="8.0" text-anchor="end" fill="#231f20" textLength="4.60" lengthAdjust="spacingAndGlyphs">0</text>
<line x1="191.20" y1="616.90" x2="194.30" y2="616.90" stroke="#231f20" stroke-width="1.0"/>
<text x="188.60" y="619.70" font-size="8.0" text-anchor="end" fill="#231f20" textLength="4.60" lengthAdjust="spacingAndGlyphs">2</text>
<line x1="191.20" y1="590.80" x2="194.30" y2="590.80" stroke="#231f20" stroke-width="1.0"/>
<text x="188.60" y="593.60" font-size="8.0" text-anchor="end" fill="#231f20" textLength="4.60" lengthAdjust="spacingAndGlyphs">4</text>
<line x1="212.80" y1="659.00" x2="212.80" y2="661.60" stroke="#231f20" stroke-width="0.9"/>
<text x="212.80" y="672.20" font-size="7.6" text-anchor="middle" fill="#231f20" textLength="4.01" lengthAdjust="spacingAndGlyphs">8</text>
<line x1="243.70" y1="659.00" x2="243.70" y2="661.60" stroke="#231f20" stroke-width="0.9"/>
<text x="243.70" y="672.20" font-size="7.6" text-anchor="middle" fill="#231f20" textLength="8.03" lengthAdjust="spacingAndGlyphs">10</text>
<line x1="273.70" y1="659.00" x2="273.70" y2="661.60" stroke="#231f20" stroke-width="0.9"/>
<text x="273.70" y="672.20" font-size="7.6" text-anchor="middle" fill="#231f20" textLength="8.03" lengthAdjust="spacingAndGlyphs">13</text>
<line x1="304.30" y1="659.00" x2="304.30" y2="661.60" stroke="#231f20" stroke-width="0.9"/>
<text x="304.30" y="672.20" font-size="7.6" text-anchor="middle" fill="#231f20" textLength="8.03" lengthAdjust="spacingAndGlyphs">16</text>
<text x="258.40" y="685.40" font-size="9.0" text-anchor="middle" fill="#231f20" textLength="19.40" lengthAdjust="spacingAndGlyphs">Days</text>
<text x="198.90" y="655.20" font-size="7.2" text-anchor="start" fill="#231f20" textLength="37.50" lengthAdjust="spacingAndGlyphs">p=0.000228</text>
<polyline points="212.80,643.30 243.70,643.30 273.70,642.90 304.30,640.00" fill="none" stroke="#a8293c" stroke-width="1.2"/>
<polyline points="212.80,643.00 243.70,641.20 273.70,625.70 304.30,590.00" fill="none" stroke="#3c5b8e" stroke-width="1.2"/>
<rect x="211.30" y="641.80" width="3.00" height="3.00" fill="#a8293c"/>
<rect x="242.20" y="641.80" width="3.00" height="3.00" fill="#a8293c"/>
<rect x="272.20" y="641.40" width="3.00" height="3.00" fill="#a8293c"/>
<rect x="302.80" y="638.50" width="3.00" height="3.00" fill="#a8293c"/>
<path d="M211.00,643.00L212.80,641.20L214.60,643.00L212.80,644.80Z" fill="#3c5b8e"/>
<path d="M241.90,641.20L243.70,639.40L245.50,641.20L243.70,643.00Z" fill="#3c5b8e"/>
<path d="M271.90,625.70L273.70,623.90L275.50,625.70L273.70,627.50Z" fill="#3c5b8e"/>
<path d="M302.50,590.00L304.30,588.20L306.10,590.00L304.30,591.80Z" fill="#3c5b8e"/>
<line x1="273.70" y1="621.70" x2="273.70" y2="629.70" stroke="#231f20" stroke-width="0.8"/>
<line x1="272.50" y1="621.70" x2="274.90" y2="621.70" stroke="#231f20" stroke-width="0.8"/>
<line x1="272.50" y1="629.70" x2="274.90" y2="629.70" stroke="#231f20" stroke-width="0.8"/>
<line x1="304.30" y1="584.00" x2="304.30" y2="596.00" stroke="#231f20" stroke-width="0.8"/>
<line x1="303.10" y1="584.00" x2="305.50" y2="584.00" stroke="#231f20" stroke-width="0.8"/>
<line x1="303.10" y1="596.00" x2="305.50" y2="596.00" stroke="#231f20" stroke-width="0.8"/>
<line x1="304.30" y1="639.00" x2="304.30" y2="641.00" stroke="#231f20" stroke-width="0.8"/>
<line x1="303.10" y1="639.00" x2="305.50" y2="639.00" stroke="#231f20" stroke-width="0.8"/>
<line x1="303.10" y1="641.00" x2="305.50" y2="641.00" stroke="#231f20" stroke-width="0.8"/>
<line x1="243.70" y1="640.40" x2="243.70" y2="642.00" stroke="#231f20" stroke-width="0.8"/>
<line x1="242.50" y1="640.40" x2="244.90" y2="640.40" stroke="#231f20" stroke-width="0.8"/>
<line x1="242.50" y1="642.00" x2="244.90" y2="642.00" stroke="#231f20" stroke-width="0.8"/>
<text x="212.80" y="641.66" font-size="8.0" text-anchor="middle" fill="#231f20" textLength="3.00" lengthAdjust="spacingAndGlyphs" font-weight="bold">*</text>
<text x="243.70" y="641.16" font-size="8.0" text-anchor="middle" fill="#231f20" textLength="5.80" lengthAdjust="spacingAndGlyphs" font-weight="bold">**</text>
<text x="273.70" y="623.16" font-size="8.0" text-anchor="middle" fill="#231f20" textLength="5.80" lengthAdjust="spacingAndGlyphs" font-weight="bold">**</text>
<text x="304.30" y="584.46" font-size="8.0" text-anchor="middle" fill="#231f20" textLength="5.80" lengthAdjust="spacingAndGlyphs" font-weight="bold">**</text>
<line x1="223.50" y1="575.20" x2="223.50" y2="627.40" stroke="#231f20" stroke-width="0.9"/>
<line x1="223.20" y1="627.00" x2="245.70" y2="627.00" stroke="#231f20" stroke-width="0.9"/>
<line x1="221.80" y1="627.00" x2="223.50" y2="627.00" stroke="#231f20" stroke-width="0.6"/>
<text x="221.00" y="628.50" font-size="4.3" text-anchor="end" fill="#231f20" textLength="2.15" lengthAdjust="spacingAndGlyphs">0</text>
<line x1="221.80" y1="620.03" x2="223.50" y2="620.03" stroke="#231f20" stroke-width="0.6"/>
<text x="221.00" y="621.53" font-size="4.3" text-anchor="end" fill="#231f20" textLength="2.15" lengthAdjust="spacingAndGlyphs">2</text>
<line x1="221.80" y1="613.06" x2="223.50" y2="613.06" stroke="#231f20" stroke-width="0.6"/>
<text x="221.00" y="614.56" font-size="4.3" text-anchor="end" fill="#231f20" textLength="2.15" lengthAdjust="spacingAndGlyphs">4</text>
<line x1="221.80" y1="606.08" x2="223.50" y2="606.08" stroke="#231f20" stroke-width="0.6"/>
<text x="221.00" y="607.58" font-size="4.3" text-anchor="end" fill="#231f20" textLength="2.15" lengthAdjust="spacingAndGlyphs">6</text>
<line x1="221.80" y1="599.11" x2="223.50" y2="599.11" stroke="#231f20" stroke-width="0.6"/>
<text x="221.00" y="600.61" font-size="4.3" text-anchor="end" fill="#231f20" textLength="2.15" lengthAdjust="spacingAndGlyphs">8</text>
<line x1="221.80" y1="592.14" x2="223.50" y2="592.14" stroke="#231f20" stroke-width="0.6"/>
<text x="221.00" y="593.64" font-size="4.3" text-anchor="end" fill="#231f20" textLength="4.30" lengthAdjust="spacingAndGlyphs">10</text>
<line x1="221.80" y1="585.17" x2="223.50" y2="585.17" stroke="#231f20" stroke-width="0.6"/>
<text x="221.00" y="586.67" font-size="4.3" text-anchor="end" fill="#231f20" textLength="4.30" lengthAdjust="spacingAndGlyphs">12</text>
<line x1="221.80" y1="578.20" x2="223.50" y2="578.20" stroke="#231f20" stroke-width="0.6"/>
<text x="221.00" y="579.70" font-size="4.3" text-anchor="end" fill="#231f20" textLength="4.30" lengthAdjust="spacingAndGlyphs">14</text>
<rect x="227.20" y="589.00" width="5.80" height="38.00" fill="#4b648e"/>
<rect x="236.10" y="616.40" width="5.90" height="10.60" fill="#a53343"/>
<line x1="230.10" y1="587.00" x2="230.10" y2="589.00" stroke="#231f20" stroke-width="0.6"/>
<line x1="229.20" y1="587.00" x2="231.00" y2="587.00" stroke="#231f20" stroke-width="0.6"/>
<line x1="239.00" y1="615.00" x2="239.00" y2="616.40" stroke="#231f20" stroke-width="0.6"/>
<line x1="238.10" y1="615.00" x2="239.90" y2="615.00" stroke="#231f20" stroke-width="0.6"/>
<text x="239.00" y="615.86" font-size="5.5" text-anchor="middle" fill="#231f20" textLength="5.91" lengthAdjust="spacingAndGlyphs" font-weight="bold">***</text>
<text x="208.40" y="600.80" font-size="6.2" text-anchor="middle" fill="#231f20" textLength="68.30" lengthAdjust="spacingAndGlyphs" transform="rotate(-90 208.40 600.80)"><tspan>Relative mRNA(X10</tspan><tspan font-size="3.84" dy="-2.36">-3</tspan><tspan dy="2.36"></tspan><tspan>)</tspan></text>
<line x1="237.80" y1="571.50" x2="246.60" y2="571.50" stroke="#3c5b8e" stroke-width="1.3"/>
<path d="M239.8,571.5L242.2,569.1L244.6,571.5L242.2,573.9Z" fill="#3c5b8e"/>
<line x1="237.80" y1="582.40" x2="246.60" y2="582.40" stroke="#a8293c" stroke-width="1.3"/>
<rect x="240.40" y="580.60" width="3.60" height="3.60" fill="#a8293c"/>
<text x="248.70" y="574.50" font-size="8.1" text-anchor="start" fill="#231f20" textLength="30.60" lengthAdjust="spacingAndGlyphs">shControl</text>
<text x="248.70" y="585.40" font-size="8.1" text-anchor="start" fill="#231f20" textLength="34.80" lengthAdjust="spacingAndGlyphs">shCBFA2T3</text>
<line x1="368.70" y1="540.80" x2="368.70" y2="675.60" stroke="#231f20" stroke-width="1.1"/>
<line x1="368.20" y1="675.10" x2="513.00" y2="675.10" stroke="#231f20" stroke-width="1.1"/>
<line x1="365.80" y1="668.50" x2="368.70" y2="668.50" stroke="#231f20" stroke-width="1.0"/>
<text x="362.80" y="671.00" font-size="7.2" text-anchor="end" fill="#231f20" textLength="13.60" lengthAdjust="spacingAndGlyphs">0.00</text>
<line x1="365.80" y1="638.10" x2="368.70" y2="638.10" stroke="#231f20" stroke-width="1.0"/>
<text x="362.80" y="640.60" font-size="7.2" text-anchor="end" fill="#231f20" textLength="13.60" lengthAdjust="spacingAndGlyphs">0.25</text>
<line x1="365.80" y1="607.70" x2="368.70" y2="607.70" stroke="#231f20" stroke-width="1.0"/>
<text x="362.80" y="610.20" font-size="7.2" text-anchor="end" fill="#231f20" textLength="13.60" lengthAdjust="spacingAndGlyphs">0.50</text>
<line x1="365.80" y1="577.30" x2="368.70" y2="577.30" stroke="#231f20" stroke-width="1.0"/>
<text x="362.80" y="579.80" font-size="7.2" text-anchor="end" fill="#231f20" textLength="13.60" lengthAdjust="spacingAndGlyphs">0.75</text>
<line x1="365.80" y1="546.90" x2="368.70" y2="546.90" stroke="#231f20" stroke-width="1.0"/>
<text x="362.80" y="549.40" font-size="7.2" text-anchor="end" fill="#231f20" textLength="13.60" lengthAdjust="spacingAndGlyphs">1.00</text>
<line x1="375.60" y1="675.10" x2="375.60" y2="677.80" stroke="#231f20" stroke-width="0.9"/>
<text x="375.60" y="688.50" font-size="7.2" text-anchor="middle" fill="#231f20" textLength="3.60" lengthAdjust="spacingAndGlyphs">0</text>
<line x1="401.80" y1="675.10" x2="401.80" y2="677.80" stroke="#231f20" stroke-width="0.9"/>
<text x="401.80" y="688.50" font-size="7.2" text-anchor="middle" fill="#231f20" textLength="3.60" lengthAdjust="spacingAndGlyphs">5</text>
<line x1="428.00" y1="675.10" x2="428.00" y2="677.80" stroke="#231f20" stroke-width="0.9"/>
<text x="428.00" y="688.50" font-size="7.2" text-anchor="middle" fill="#231f20" textLength="7.21" lengthAdjust="spacingAndGlyphs">10</text>
<line x1="454.20" y1="675.10" x2="454.20" y2="677.80" stroke="#231f20" stroke-width="0.9"/>
<text x="454.20" y="688.50" font-size="7.2" text-anchor="middle" fill="#231f20" textLength="7.21" lengthAdjust="spacingAndGlyphs">15</text>
<line x1="480.40" y1="675.10" x2="480.40" y2="677.80" stroke="#231f20" stroke-width="0.9"/>
<text x="480.40" y="688.50" font-size="7.2" text-anchor="middle" fill="#231f20" textLength="7.21" lengthAdjust="spacingAndGlyphs">20</text>
<line x1="506.60" y1="675.10" x2="506.60" y2="677.80" stroke="#231f20" stroke-width="0.9"/>
<text x="506.60" y="688.50" font-size="7.2" text-anchor="middle" fill="#231f20" textLength="7.21" lengthAdjust="spacingAndGlyphs">25</text>
<text x="441.20" y="701.70" font-size="9.0" text-anchor="middle" fill="#231f20" textLength="19.40" lengthAdjust="spacingAndGlyphs">Days</text>
<text x="375.60" y="669.40" font-size="6.6" text-anchor="start" fill="#231f20" textLength="32.90" lengthAdjust="spacingAndGlyphs">p = 0.0012</text>
<text x="341.00" y="608.00" font-size="8.0" text-anchor="middle" fill="#231f20" textLength="115.50" lengthAdjust="spacingAndGlyphs" transform="rotate(-90 341.00 608.00)"><tspan>Survival probability (X100%)</tspan></text>
<polyline points="375.60,546.90 454.20,546.90 454.20,567.20 459.44,567.20 459.44,668.50" fill="none" stroke="#5b7198" stroke-width="1.3"/>
<polyline points="454.20,546.90 496.12,546.90 496.12,607.70 501.36,607.70 501.36,648.20 511.84,648.20 511.84,668.50" fill="none" stroke="#b9465a" stroke-width="1.3"/>
<line x1="369.00" y1="535.40" x2="376.70" y2="535.40" stroke="#5b7198" stroke-width="1.3"/>
<line x1="441.00" y1="535.70" x2="449.00" y2="535.70" stroke="#b9465a" stroke-width="1.3"/>
<text x="380.00" y="538.00" font-size="6.8" text-anchor="start" fill="#231f20" textLength="48.80" lengthAdjust="spacingAndGlyphs">shControl (n=6)</text>
<text x="451.90" y="538.00" font-size="6.8" text-anchor="start" fill="#231f20" textLength="53.80" lengthAdjust="spacingAndGlyphs">shCBFA2T3 (n=6)</text>
<text x="10.90" y="546.10" font-size="8.6" text-anchor="start" fill="#231f20" textLength="16.40" lengthAdjust="spacingAndGlyphs">Time</text>
<path d="M29.6,543.6 L134.6,531.0 L134.6,543.6 Z" fill="#fff" stroke="#231f20" stroke-width="0.9" stroke-linejoin="miter"/>
<text x="13.50" y="702.50" font-size="8.4" text-anchor="start" fill="#231f20" textLength="14.00" lengthAdjust="spacingAndGlyphs">Day</text>
<text x="43.00" y="702.50" font-size="7.8" text-anchor="middle" fill="#231f20" textLength="4.12" lengthAdjust="spacingAndGlyphs">8</text>
<text x="70.25" y="702.50" font-size="7.8" text-anchor="middle" fill="#231f20" textLength="8.24" lengthAdjust="spacingAndGlyphs">10</text>
<text x="96.40" y="702.50" font-size="7.8" text-anchor="middle" fill="#231f20" textLength="8.24" lengthAdjust="spacingAndGlyphs">13</text>
<text x="122.75" y="702.50" font-size="7.8" text-anchor="middle" fill="#231f20" textLength="8.24" lengthAdjust="spacingAndGlyphs">16</text>
<text x="25.70" y="582.50" font-size="8.6" text-anchor="middle" fill="#231f20" textLength="33.00" lengthAdjust="spacingAndGlyphs" transform="rotate(-90 25.70 582.50)">shControl</text>
<text x="25.70" y="655.30" font-size="8.6" text-anchor="middle" fill="#231f20" textLength="38.00" lengthAdjust="spacingAndGlyphs" transform="rotate(-90 25.70 655.30)">shCBFA2T3</text>
<defs><linearGradient id="cb" x1="0" y1="1" x2="0" y2="0">
<stop offset="0" stop-color="#5a1a6e"/><stop offset="0.08" stop-color="#4b2690"/><stop offset="0.2" stop-color="#2e4fb0"/>
<stop offset="0.32" stop-color="#14a0d8"/><stop offset="0.45" stop-color="#12a68a"/><stop offset="0.6" stop-color="#18a03a"/>
<stop offset="0.7" stop-color="#8cc820"/><stop offset="0.78" stop-color="#f2e61a"/><stop offset="0.88" stop-color="#f59a1c"/>
<stop offset="1" stop-color="#e02a20"/></linearGradient></defs>
<rect x="142.00" y="569.80" width="4.20" height="92.90" fill="url(#cb)"/>
<rect x="142.1" y="569.9" width="4.0" height="92.7" fill="none" stroke="#3a2a3a" stroke-width="0.4"/>
<line x1="146.20" y1="572.60" x2="148.80" y2="572.60" stroke="#231f20" stroke-width="0.6"/>
<line x1="146.20" y1="576.62" x2="147.60" y2="576.62" stroke="#231f20" stroke-width="0.6"/>
<line x1="146.20" y1="580.64" x2="147.60" y2="580.64" stroke="#231f20" stroke-width="0.6"/>
<line x1="146.20" y1="584.66" x2="147.60" y2="584.66" stroke="#231f20" stroke-width="0.6"/>
<line x1="146.20" y1="588.68" x2="147.60" y2="588.68" stroke="#231f20" stroke-width="0.6"/>
<line x1="146.20" y1="592.70" x2="148.80" y2="592.70" stroke="#231f20" stroke-width="0.6"/>
<line x1="146.20" y1="596.72" x2="147.60" y2="596.72" stroke="#231f20" stroke-width="0.6"/>
<line x1="146.20" y1="600.74" x2="147.60" y2="600.74" stroke="#231f20" stroke-width="0.6"/>
<line x1="146.20" y1="604.76" x2="147.60" y2="604.76" stroke="#231f20" stroke-width="0.6"/>
<line x1="146.20" y1="608.78" x2="147.60" y2="608.78" stroke="#231f20" stroke-width="0.6"/>
<line x1="146.20" y1="612.80" x2="148.80" y2="612.80" stroke="#231f20" stroke-width="0.6"/>
<line x1="146.20" y1="616.82" x2="147.60" y2="616.82" stroke="#231f20" stroke-width="0.6"/>
<line x1="146.20" y1="620.84" x2="147.60" y2="620.84" stroke="#231f20" stroke-width="0.6"/>
<line x1="146.20" y1="624.86" x2="147.60" y2="624.86" stroke="#231f20" stroke-width="0.6"/>
<line x1="146.20" y1="628.88" x2="147.60" y2="628.88" stroke="#231f20" stroke-width="0.6"/>
<line x1="146.20" y1="632.90" x2="148.80" y2="632.90" stroke="#231f20" stroke-width="0.6"/>
<line x1="146.20" y1="636.92" x2="147.60" y2="636.92" stroke="#231f20" stroke-width="0.6"/>
<line x1="146.20" y1="640.94" x2="147.60" y2="640.94" stroke="#231f20" stroke-width="0.6"/>
<line x1="146.20" y1="644.96" x2="147.60" y2="644.96" stroke="#231f20" stroke-width="0.6"/>
<line x1="146.20" y1="648.98" x2="147.60" y2="648.98" stroke="#231f20" stroke-width="0.6"/>
<line x1="146.20" y1="653.00" x2="148.80" y2="653.00" stroke="#231f20" stroke-width="0.6"/>
<line x1="146.20" y1="657.02" x2="147.60" y2="657.02" stroke="#231f20" stroke-width="0.6"/>
<line x1="146.20" y1="661.04" x2="147.60" y2="661.04" stroke="#231f20" stroke-width="0.6"/>
<text x="152.00" y="575.70" font-size="7.7" text-anchor="start" fill="#231f20" textLength="10.40" lengthAdjust="spacingAndGlyphs">6.0</text>
<text x="152.00" y="606.40" font-size="7.7" text-anchor="start" fill="#231f20" textLength="10.40" lengthAdjust="spacingAndGlyphs">4.0</text>
<text x="152.00" y="636.00" font-size="7.7" text-anchor="start" fill="#231f20" textLength="10.40" lengthAdjust="spacingAndGlyphs">2.0</text>
<text x="142.20" y="670.00" font-size="7.6" text-anchor="start" fill="#231f20" textLength="15.20" lengthAdjust="spacingAndGlyphs"><tspan>x10</tspan><tspan font-size="4.71" dy="-2.89">6</tspan><tspan dy="2.89"></tspan></text>
<text x="178.30" y="616.90" font-size="9.6" text-anchor="middle" fill="#231f20" textLength="137.50" lengthAdjust="spacingAndGlyphs" transform="rotate(-90 178.30 616.90)"><tspan>Total flux (X100 million photons/s)</tspan></text>
<defs>
<filter id="b04" x="-20%" y="-20%" width="140%" height="140%"><feGaussianBlur stdDeviation="0.4"/></filter>
<filter id="bl" filterUnits="userSpaceOnUse" x="0" y="500" width="200" height="212"><feGaussianBlur stdDeviation="0.45"/></filter>
<filter id="b07" x="-20%" y="-20%" width="140%" height="140%"><feGaussianBlur stdDeviation="0.7"/></filter>
<filter id="b10" x="-30%" y="-30%" width="160%" height="160%"><feGaussianBlur stdDeviation="1.0"/></filter>
<filter id="b15" x="-30%" y="-30%" width="160%" height="160%"><feGaussianBlur stdDeviation="1.5"/></filter>
<filter id="noise" x="0" y="0" width="100%" height="100%"><feTurbulence type="fractalNoise" baseFrequency="1.6" numOctaves="1" seed="3"/><feColorMatrix type="matrix" values="0 0 0 0 0.33  0 0 0 0 0.33  0 0 0 0 0.33  0 0 0 -1.2 1.0"/><feComposite in2="SourceGraphic" operator="in"/></filter>
<radialGradient id="mw" cx="0.5" cy="0.55" r="0.6"><stop offset="0" stop-color="#f2f2f2"/><stop offset="0.55" stop-color="#e2e2e2"/><stop offset="0.85" stop-color="#bdbdbd"/><stop offset="1" stop-color="#9a9a9a"/></radialGradient>
<filter id="noise2" x="0" y="0" width="100%" height="100%"><feTurbulence type="fractalNoise" baseFrequency="0.4" numOctaves="2" seed="7"/><feColorMatrix type="matrix" values="0 0 0 0 0.45  0 0 0 0 0.45  0 0 0 0 0.45  0 0 0 -1.6 1.1"/><feComposite in2="SourceGraphic" operator="in"/><feGaussianBlur stdDeviation="0.3"/></filter>
<filter id="disp" x="-10%" y="-10%" width="120%" height="120%"><feTurbulence type="fractalNoise" baseFrequency="0.15" numOctaves="2" seed="5" result="t"/><feDisplacementMap in="SourceGraphic" in2="t" scale="4.5" xChannelSelector="R" yChannelSelector="G"/></filter>
<filter id="disp2" x="-10%" y="-10%" width="120%" height="120%"><feTurbulence type="fractalNoise" baseFrequency="0.25" numOctaves="2" seed="11" result="t"/><feDisplacementMap in="SourceGraphic" in2="t" scale="2.2" xChannelSelector="R" yChannelSelector="G"/></filter>
<linearGradient id="mv" x1="0" y1="0" x2="0" y2="1"><stop offset="0" stop-color="#8c8c8c"/><stop offset="0.2" stop-color="#a8a8a8"/><stop offset="0.4" stop-color="#d4d4d4"/><stop offset="0.62" stop-color="#e8e8e8"/><stop offset="0.88" stop-color="#dedede"/><stop offset="1" stop-color="#b4b4b4"/></linearGradient>
<radialGradient id="mh" cx="0.5" cy="0.5" r="0.6"><stop offset="0" stop-color="#c8c8c8"/><stop offset="1" stop-color="#8e8e8e"/></radialGradient>

<clipPath id="t00"><rect x="30.8" y="546.9" width="24.40" height="70.80"/></clipPath>
<clipPath id="t10"><rect x="30.8" y="620.8" width="24.40" height="71.00"/></clipPath>
<clipPath id="t01"><rect x="57.3" y="546.9" width="24.60" height="70.80"/></clipPath>
<clipPath id="t11"><rect x="57.3" y="620.8" width="24.60" height="71.00"/></clipPath>
<clipPath id="t02"><rect x="84.3" y="546.9" width="24.60" height="70.80"/></clipPath>
<clipPath id="t12"><rect x="84.3" y="620.8" width="24.60" height="71.00"/></clipPath>
<clipPath id="t03"><rect x="110.7" y="546.9" width="24.40" height="70.80"/></clipPath>
<clipPath id="t13"><rect x="110.7" y="620.8" width="24.40" height="71.00"/></clipPath>
</defs>
<g clip-path="url(#t00)">
<rect x="30.80" y="546.90" width="24.40" height="70.80" fill="#5a5a5a"/>
<rect x="30.8" y="546.9" width="24.40" height="70.80" fill="#6a6a6a" filter="url(#noise)" opacity="0.35"/>
<rect x="31.05" y="547.15" width="23.90" height="70.30" fill="none" stroke="#3e3e3e" stroke-width="0.5"/>
<path d="M44.79,553.42 C43.91,553.95 41.81,555.70 40.58,556.58 C39.35,557.46 38.56,558.16 37.42,558.68 C36.28,559.21 34.18,559.12 33.74,559.74 C33.30,560.35 34.35,561.67 34.79,562.37 C35.23,563.07 36.28,562.81 36.37,563.95 C36.46,565.09 35.75,567.11 35.32,569.21 C34.88,571.32 34.09,573.95 33.74,576.58 C33.39,579.21 33.21,582.54 33.21,585.00 C33.21,587.46 33.47,589.91 33.74,591.32 C34.00,592.72 35.23,592.89 34.79,593.42 C34.35,593.95 31.72,593.95 31.11,594.47 C30.49,595.00 30.23,596.14 31.11,596.58 C31.98,597.02 34.96,596.75 36.37,597.11 C37.77,597.46 38.56,598.33 39.53,598.68 C40.49,599.04 41.19,599.30 42.16,599.21 C43.12,599.12 44.35,598.77 45.32,598.16 C46.28,597.54 47.07,596.67 47.95,595.53 C48.82,594.39 49.88,593.07 50.58,591.32 C51.28,589.56 51.81,587.46 52.16,585.00 C52.51,582.54 52.51,579.04 52.68,576.58 C52.86,574.12 53.04,572.02 53.21,570.26 C53.39,568.51 53.56,567.37 53.74,566.05 C53.91,564.74 54.53,563.42 54.26,562.37 C54.00,561.32 53.04,560.53 52.16,559.74 C51.28,558.95 49.88,558.33 49.00,557.63 C48.12,556.93 47.42,556.23 46.89,555.53 C46.37,554.82 46.19,553.77 45.84,553.42 C45.49,553.07 45.67,552.89 44.79,553.42 Z" fill="url(#mv)" filter="url(#b07)" opacity="1.0"/>
<path d="M43.82,566.10 C43.27,566.44 41.97,567.60 41.21,568.18 C40.45,568.76 39.96,569.22 39.25,569.57 C38.54,569.92 37.24,569.86 36.97,570.27 C36.69,570.67 37.35,571.54 37.62,572.00 C37.89,572.47 38.54,572.29 38.60,573.04 C38.65,573.80 38.22,575.13 37.94,576.52 C37.67,577.91 37.18,579.64 36.97,581.38 C36.75,583.12 36.64,585.32 36.64,586.94 C36.64,588.56 36.80,590.18 36.97,591.11 C37.13,592.03 37.89,592.15 37.62,592.50 C37.35,592.84 35.71,592.84 35.33,593.19 C34.95,593.54 34.79,594.29 35.33,594.58 C35.88,594.87 37.73,594.70 38.60,594.93 C39.47,595.16 39.96,595.74 40.55,595.97 C41.15,596.20 41.59,596.38 42.19,596.32 C42.78,596.26 43.55,596.03 44.14,595.62 C44.74,595.22 45.23,594.64 45.78,593.89 C46.32,593.13 46.97,592.27 47.41,591.11 C47.84,589.95 48.17,588.56 48.39,586.94 C48.60,585.32 48.60,583.00 48.71,581.38 C48.82,579.76 48.93,578.37 49.04,577.21 C49.15,576.05 49.26,575.30 49.37,574.43 C49.47,573.57 49.85,572.70 49.69,572.00 C49.53,571.31 48.93,570.79 48.39,570.27 C47.84,569.74 46.97,569.34 46.43,568.88 C45.88,568.41 45.45,567.95 45.12,567.49 C44.80,567.02 44.69,566.33 44.47,566.10 C44.25,565.87 44.36,565.75 43.82,566.10 Z" fill="#f4f4f4" filter="url(#b15)" opacity="0.85"/>
<path d="M44.79,553.42 C43.91,553.95 41.81,555.70 40.58,556.58 C39.35,557.46 38.56,558.16 37.42,558.68 C36.28,559.21 34.18,559.12 33.74,559.74 C33.30,560.35 34.35,561.67 34.79,562.37 C35.23,563.07 36.28,562.81 36.37,563.95 C36.46,565.09 35.75,567.11 35.32,569.21 C34.88,571.32 34.09,573.95 33.74,576.58 C33.39,579.21 33.21,582.54 33.21,585.00 C33.21,587.46 33.47,589.91 33.74,591.32 C34.00,592.72 35.23,592.89 34.79,593.42 C34.35,593.95 31.72,593.95 31.11,594.47 C30.49,595.00 30.23,596.14 31.11,596.58 C31.98,597.02 34.96,596.75 36.37,597.11 C37.77,597.46 38.56,598.33 39.53,598.68 C40.49,599.04 41.19,599.30 42.16,599.21 C43.12,599.12 44.35,598.77 45.32,598.16 C46.28,597.54 47.07,596.67 47.95,595.53 C48.82,594.39 49.88,593.07 50.58,591.32 C51.28,589.56 51.81,587.46 52.16,585.00 C52.51,582.54 52.51,579.04 52.68,576.58 C52.86,574.12 53.04,572.02 53.21,570.26 C53.39,568.51 53.56,567.37 53.74,566.05 C53.91,564.74 54.53,563.42 54.26,562.37 C54.00,561.32 53.04,560.53 52.16,559.74 C51.28,558.95 49.88,558.33 49.00,557.63 C48.12,556.93 47.42,556.23 46.89,555.53 C46.37,554.82 46.19,553.77 45.84,553.42 C45.49,553.07 45.67,552.89 44.79,553.42 Z" fill="#808080" filter="url(#noise2)" opacity="0.40"/>
<line x1="42.3" y1="599" x2="42.6" y2="618" stroke="#c8c8c8" stroke-width="2.0" stroke-linecap="round" filter="url(#bl)"/>
<path d="M44.4,546.8 L45.4,546.8 L46.2,554.5 L43.6,554.5 Z" fill="#e6e6e6" filter="url(#bl)"/>
<path d="M35.80,588.20 C35.48,587.40 37.40,584.67 38.30,584.00 C39.20,583.33 40.47,583.67 41.20,584.20 C41.93,584.73 42.87,586.43 42.70,587.20 C42.53,587.97 41.35,588.63 40.20,588.80 C39.05,588.97 36.12,589.00 35.80,588.20 Z" fill="#7a1e8c" filter="url(#b04)" opacity="1.0"/>
<rect x="46.30" y="579.00" width="3.80" height="1.70" fill="#8a3a9a" filter="url(#b04)"/>
</g>
<g clip-path="url(#t01)">
<rect x="57.30" y="546.90" width="24.60" height="70.80" fill="#5a5a5a"/>
<rect x="57.3" y="546.9" width="24.60" height="70.80" fill="#6a6a6a" filter="url(#noise)" opacity="0.35"/>
<rect x="57.55" y="547.15" width="24.10" height="70.30" fill="none" stroke="#3e3e3e" stroke-width="0.5"/>
<path d="M71.19,553.42 C70.31,553.95 68.21,555.70 66.98,556.58 C65.75,557.46 64.96,558.16 63.82,558.68 C62.68,559.21 60.58,559.12 60.14,559.74 C59.70,560.35 60.75,561.67 61.19,562.37 C61.63,563.07 62.68,562.81 62.77,563.95 C62.86,565.09 62.15,567.11 61.72,569.21 C61.28,571.32 60.49,573.95 60.14,576.58 C59.79,579.21 59.61,582.54 59.61,585.00 C59.61,587.46 59.87,589.91 60.14,591.32 C60.40,592.72 61.63,592.89 61.19,593.42 C60.75,593.95 58.12,593.95 57.51,594.47 C56.89,595.00 56.63,596.14 57.51,596.58 C58.38,597.02 61.36,596.75 62.77,597.11 C64.17,597.46 64.96,598.33 65.93,598.68 C66.89,599.04 67.59,599.30 68.56,599.21 C69.52,599.12 70.75,598.77 71.72,598.16 C72.68,597.54 73.47,596.67 74.35,595.53 C75.22,594.39 76.28,593.07 76.98,591.32 C77.68,589.56 78.21,587.46 78.56,585.00 C78.91,582.54 78.91,579.04 79.08,576.58 C79.26,574.12 79.44,572.02 79.61,570.26 C79.79,568.51 79.96,567.37 80.14,566.05 C80.31,564.74 80.93,563.42 80.66,562.37 C80.40,561.32 79.44,560.53 78.56,559.74 C77.68,558.95 76.28,558.33 75.40,557.63 C74.52,556.93 73.82,556.23 73.29,555.53 C72.77,554.82 72.59,553.77 72.24,553.42 C71.89,553.07 72.07,552.89 71.19,553.42 Z" fill="url(#mv)" filter="url(#b07)" opacity="1.0"/>
<path d="M70.22,566.10 C69.67,566.44 68.37,567.60 67.61,568.18 C66.85,568.76 66.36,569.22 65.65,569.57 C64.94,569.92 63.64,569.86 63.37,570.27 C63.09,570.67 63.75,571.54 64.02,572.00 C64.29,572.47 64.94,572.29 65.00,573.04 C65.05,573.80 64.62,575.13 64.34,576.52 C64.07,577.91 63.58,579.64 63.37,581.38 C63.15,583.12 63.04,585.32 63.04,586.94 C63.04,588.56 63.20,590.18 63.37,591.11 C63.53,592.03 64.29,592.15 64.02,592.50 C63.75,592.84 62.11,592.84 61.73,593.19 C61.35,593.54 61.19,594.29 61.73,594.58 C62.28,594.87 64.13,594.70 65.00,594.93 C65.87,595.16 66.36,595.74 66.95,595.97 C67.55,596.20 67.99,596.38 68.59,596.32 C69.18,596.26 69.95,596.03 70.54,595.62 C71.14,595.22 71.63,594.64 72.18,593.89 C72.72,593.13 73.37,592.27 73.81,591.11 C74.24,589.95 74.57,588.56 74.79,586.94 C75.00,585.32 75.00,583.00 75.11,581.38 C75.22,579.76 75.33,578.37 75.44,577.21 C75.55,576.05 75.66,575.30 75.77,574.43 C75.87,573.57 76.25,572.70 76.09,572.00 C75.93,571.31 75.33,570.79 74.79,570.27 C74.24,569.74 73.37,569.34 72.83,568.88 C72.28,568.41 71.85,567.95 71.52,567.49 C71.20,567.02 71.09,566.33 70.87,566.10 C70.65,565.87 70.76,565.75 70.22,566.10 Z" fill="#f4f4f4" filter="url(#b15)" opacity="0.85"/>
<path d="M71.19,553.42 C70.31,553.95 68.21,555.70 66.98,556.58 C65.75,557.46 64.96,558.16 63.82,558.68 C62.68,559.21 60.58,559.12 60.14,559.74 C59.70,560.35 60.75,561.67 61.19,562.37 C61.63,563.07 62.68,562.81 62.77,563.95 C62.86,565.09 62.15,567.11 61.72,569.21 C61.28,571.32 60.49,573.95 60.14,576.58 C59.79,579.21 59.61,582.54 59.61,585.00 C59.61,587.46 59.87,589.91 60.14,591.32 C60.40,592.72 61.63,592.89 61.19,593.42 C60.75,593.95 58.12,593.95 57.51,594.47 C56.89,595.00 56.63,596.14 57.51,596.58 C58.38,597.02 61.36,596.75 62.77,597.11 C64.17,597.46 64.96,598.33 65.93,598.68 C66.89,599.04 67.59,599.30 68.56,599.21 C69.52,599.12 70.75,598.77 71.72,598.16 C72.68,597.54 73.47,596.67 74.35,595.53 C75.22,594.39 76.28,593.07 76.98,591.32 C77.68,589.56 78.21,587.46 78.56,585.00 C78.91,582.54 78.91,579.04 79.08,576.58 C79.26,574.12 79.44,572.02 79.61,570.26 C79.79,568.51 79.96,567.37 80.14,566.05 C80.31,564.74 80.93,563.42 80.66,562.37 C80.40,561.32 79.44,560.53 78.56,559.74 C77.68,558.95 76.28,558.33 75.40,557.63 C74.52,556.93 73.82,556.23 73.29,555.53 C72.77,554.82 72.59,553.77 72.24,553.42 C71.89,553.07 72.07,552.89 71.19,553.42 Z" fill="#808080" filter="url(#noise2)" opacity="0.40"/>
<line x1="69.8" y1="599" x2="69.8" y2="618" stroke="#c8c8c8" stroke-width="2.0" stroke-linecap="round" filter="url(#bl)"/>
<line x1="69.6" y1="546.5" x2="69.6" y2="552" stroke="#d4d4d4" stroke-width="1.4" stroke-linecap="round" filter="url(#bl)"/>
<path d="M71.30,552.60 C72.00,552.40 73.82,552.80 74.20,553.40 C74.58,554.00 73.10,555.67 73.60,556.20 C74.10,556.73 76.30,555.88 77.20,556.60 C78.10,557.32 78.80,558.93 79.00,560.50 C79.20,562.07 78.30,563.92 78.40,566.00 C78.50,568.08 79.27,570.50 79.60,573.00 C79.93,575.50 80.37,578.33 80.40,581.00 C80.43,583.67 80.27,586.67 79.80,589.00 C79.33,591.33 78.50,593.40 77.60,595.00 C76.70,596.60 75.20,597.67 74.40,598.60 C73.60,599.53 73.70,600.30 72.80,600.60 C71.90,600.90 69.93,600.97 69.00,600.40 C68.07,599.83 68.27,598.00 67.20,597.20 C66.13,596.40 63.90,596.47 62.60,595.60 C61.30,594.73 59.93,593.60 59.40,592.00 C58.87,590.40 59.03,587.57 59.40,586.00 C59.77,584.43 60.60,583.33 61.60,582.60 C62.60,581.87 64.07,581.83 65.40,581.60 C66.73,581.37 68.77,581.83 69.60,581.20 C70.43,580.57 70.90,578.63 70.40,577.80 C69.90,576.97 67.53,576.93 66.60,576.20 C65.67,575.47 64.87,574.33 64.80,573.40 C64.73,572.47 65.37,571.13 66.20,570.60 C67.03,570.07 69.13,570.73 69.80,570.20 C70.47,569.67 70.77,568.07 70.20,567.40 C69.63,566.73 67.33,567.07 66.40,566.20 C65.47,565.33 65.20,563.13 64.60,562.20 C64.00,561.27 62.83,561.27 62.80,560.60 C62.77,559.93 63.50,558.87 64.40,558.20 C65.30,557.53 67.27,557.20 68.20,556.60 C69.13,556.00 69.48,555.27 70.00,554.60 C70.52,553.93 70.60,552.80 71.30,552.60 Z" fill="#7e2d8a" filter="url(#b04)" opacity="1.0"/>
<ellipse cx="65.6" cy="585.6" rx="2.8" ry="2.0" fill="#3c3c9c" filter="url(#b07)" opacity="0.9"/>
<ellipse cx="76.6" cy="577.6" rx="2.2" ry="2.6" fill="#3c3c9c" filter="url(#b07)" opacity="0.9"/>
<ellipse cx="76.8" cy="577.4" rx="1.0" ry="1.2" fill="#2a7ad0" filter="url(#b04)" opacity="0.9"/>
</g>
<g clip-path="url(#t02)">
<rect x="84.30" y="546.90" width="24.60" height="70.80" fill="#5a5a5a"/>
<rect x="84.3" y="546.9" width="24.60" height="70.80" fill="#6a6a6a" filter="url(#noise)" opacity="0.35"/>
<rect x="84.55" y="547.15" width="24.10" height="70.30" fill="none" stroke="#3e3e3e" stroke-width="0.5"/>
<path d="M98.19,553.92 C97.31,554.45 95.21,556.20 93.98,557.08 C92.75,557.96 91.96,558.66 90.82,559.18 C89.68,559.71 87.58,559.62 87.14,560.24 C86.70,560.85 87.75,562.17 88.19,562.87 C88.63,563.57 89.68,563.31 89.77,564.45 C89.86,565.59 89.15,567.61 88.72,569.71 C88.28,571.82 87.49,574.45 87.14,577.08 C86.79,579.71 86.61,583.04 86.61,585.50 C86.61,587.96 86.87,590.41 87.14,591.82 C87.40,593.22 88.63,593.39 88.19,593.92 C87.75,594.45 85.12,594.45 84.51,594.97 C83.89,595.50 83.63,596.64 84.51,597.08 C85.38,597.52 88.36,597.25 89.77,597.61 C91.17,597.96 91.96,598.83 92.93,599.18 C93.89,599.54 94.59,599.80 95.56,599.71 C96.52,599.62 97.75,599.27 98.72,598.66 C99.68,598.04 100.47,597.17 101.35,596.03 C102.22,594.89 103.28,593.57 103.98,591.82 C104.68,590.06 105.21,587.96 105.56,585.50 C105.91,583.04 105.91,579.54 106.08,577.08 C106.26,574.62 106.44,572.52 106.61,570.76 C106.79,569.01 106.96,567.87 107.14,566.55 C107.31,565.24 107.93,563.92 107.66,562.87 C107.40,561.82 106.44,561.03 105.56,560.24 C104.68,559.45 103.28,558.83 102.40,558.13 C101.52,557.43 100.82,556.73 100.29,556.03 C99.77,555.32 99.59,554.27 99.24,553.92 C98.89,553.57 99.07,553.39 98.19,553.92 Z" fill="url(#mv)" filter="url(#b07)" opacity="0.9"/>
<path d="M97.22,566.60 C96.67,566.94 95.37,568.10 94.61,568.68 C93.85,569.26 93.36,569.72 92.65,570.07 C91.94,570.42 90.64,570.36 90.37,570.77 C90.09,571.17 90.75,572.04 91.02,572.50 C91.29,572.97 91.94,572.79 92.00,573.54 C92.05,574.30 91.62,575.63 91.34,577.02 C91.07,578.41 90.58,580.14 90.37,581.88 C90.15,583.62 90.04,585.82 90.04,587.44 C90.04,589.06 90.20,590.68 90.37,591.61 C90.53,592.53 91.29,592.65 91.02,593.00 C90.75,593.34 89.11,593.34 88.73,593.69 C88.35,594.04 88.19,594.79 88.73,595.08 C89.28,595.37 91.13,595.20 92.00,595.43 C92.87,595.66 93.36,596.24 93.95,596.47 C94.55,596.70 94.99,596.88 95.59,596.82 C96.18,596.76 96.95,596.53 97.54,596.12 C98.14,595.72 98.63,595.14 99.18,594.39 C99.72,593.63 100.37,592.77 100.81,591.61 C101.24,590.45 101.57,589.06 101.79,587.44 C102.00,585.82 102.00,583.50 102.11,581.88 C102.22,580.26 102.33,578.87 102.44,577.71 C102.55,576.55 102.66,575.80 102.77,574.93 C102.87,574.07 103.25,573.20 103.09,572.50 C102.93,571.81 102.33,571.29 101.79,570.77 C101.24,570.24 100.37,569.84 99.83,569.38 C99.28,568.91 98.85,568.45 98.52,567.99 C98.20,567.52 98.09,566.83 97.87,566.60 C97.65,566.37 97.76,566.25 97.22,566.60 Z" fill="#f4f4f4" filter="url(#b15)" opacity="0.77"/>
<path d="M98.19,553.92 C97.31,554.45 95.21,556.20 93.98,557.08 C92.75,557.96 91.96,558.66 90.82,559.18 C89.68,559.71 87.58,559.62 87.14,560.24 C86.70,560.85 87.75,562.17 88.19,562.87 C88.63,563.57 89.68,563.31 89.77,564.45 C89.86,565.59 89.15,567.61 88.72,569.71 C88.28,571.82 87.49,574.45 87.14,577.08 C86.79,579.71 86.61,583.04 86.61,585.50 C86.61,587.96 86.87,590.41 87.14,591.82 C87.40,593.22 88.63,593.39 88.19,593.92 C87.75,594.45 85.12,594.45 84.51,594.97 C83.89,595.50 83.63,596.64 84.51,597.08 C85.38,597.52 88.36,597.25 89.77,597.61 C91.17,597.96 91.96,598.83 92.93,599.18 C93.89,599.54 94.59,599.80 95.56,599.71 C96.52,599.62 97.75,599.27 98.72,598.66 C99.68,598.04 100.47,597.17 101.35,596.03 C102.22,594.89 103.28,593.57 103.98,591.82 C104.68,590.06 105.21,587.96 105.56,585.50 C105.91,583.04 105.91,579.54 106.08,577.08 C106.26,574.62 106.44,572.52 106.61,570.76 C106.79,569.01 106.96,567.87 107.14,566.55 C107.31,565.24 107.93,563.92 107.66,562.87 C107.40,561.82 106.44,561.03 105.56,560.24 C104.68,559.45 103.28,558.83 102.40,558.13 C101.52,557.43 100.82,556.73 100.29,556.03 C99.77,555.32 99.59,554.27 99.24,553.92 C98.89,553.57 99.07,553.39 98.19,553.92 Z" fill="#808080" filter="url(#noise2)" opacity="0.36"/>
<line x1="93.5" y1="600" x2="92.6" y2="618" stroke="#d8d8d8" stroke-width="1.8" stroke-linecap="round" filter="url(#bl)"/>
<path d="M91.00,551.50 C92.13,550.80 94.17,550.78 96.00,550.80 C97.83,550.82 100.57,550.90 102.00,551.60 C103.43,552.30 104.13,553.43 104.60,555.00 C105.07,556.57 104.53,559.17 104.80,561.00 C105.07,562.83 105.57,564.67 106.20,566.00 C106.83,567.33 108.05,567.00 108.60,569.00 C109.15,571.00 109.35,572.75 109.50,578.00 C109.65,583.25 110.17,596.75 109.50,600.50 C108.83,604.25 106.92,600.92 105.50,600.50 C104.08,600.08 102.33,597.98 101.00,598.00 C99.67,598.02 98.58,599.27 97.50,600.60 C96.42,601.93 95.17,604.10 94.50,606.00 C93.83,607.90 93.92,610.00 93.50,612.00 C93.08,614.00 92.42,618.00 92.00,618.00 C91.58,618.00 91.00,614.33 91.00,612.00 C91.00,609.67 92.08,605.92 92.00,604.00 C91.92,602.08 91.17,601.50 90.50,600.50 C89.83,599.50 88.82,599.42 88.00,598.00 C87.18,596.58 85.90,594.33 85.60,592.00 C85.30,589.67 85.83,586.33 86.20,584.00 C86.57,581.67 87.67,580.33 87.80,578.00 C87.93,575.67 87.47,571.92 87.00,570.00 C86.53,568.08 85.23,567.83 85.00,566.50 C84.77,565.17 85.13,563.25 85.60,562.00 C86.07,560.75 87.20,560.17 87.80,559.00 C88.40,557.83 88.67,556.25 89.20,555.00 C89.73,553.75 89.87,552.20 91.00,551.50 Z" fill="#7e2d8a" filter="url(#b04)" opacity="1.0"/>
<path d="M92.00,554.00 C93.75,552.92 98.17,552.83 100.00,553.50 C101.83,554.17 102.25,555.92 103.00,558.00 C103.75,560.08 104.08,562.67 104.50,566.00 C104.92,569.33 105.58,573.67 105.50,578.00 C105.42,582.33 104.92,588.83 104.00,592.00 C103.08,595.17 101.67,595.92 100.00,597.00 C98.33,598.08 95.83,598.83 94.00,598.50 C92.17,598.17 90.03,596.75 89.00,595.00 C87.97,593.25 87.80,590.83 87.80,588.00 C87.80,585.17 88.88,581.33 89.00,578.00 C89.12,574.67 88.42,571.00 88.50,568.00 C88.58,565.00 88.92,562.33 89.50,560.00 C90.08,557.67 90.25,555.08 92.00,554.00 Z" fill="#5a3aa0" filter="url(#b10)" opacity="0.9"/>
<ellipse cx="101.6" cy="577.8" rx="7.2" ry="4.2" fill="#4a6ac8" filter="url(#b10)" opacity="0.9" transform="rotate(-50 101.6 577.8)"/>
<ellipse cx="101.4" cy="578.0" rx="5.6" ry="3.3" fill="#18b4e6" filter="url(#b07)" opacity="1.0" transform="rotate(-50 101.4 578.0)"/>
<ellipse cx="92.4" cy="585.0" rx="4.3" ry="3.4" fill="#18b4e6" filter="url(#b07)" opacity="1.0" transform="rotate(-20 92.4 585.0)"/>
<ellipse cx="101.0" cy="578.6" rx="3.0" ry="2.2" fill="#1fae4a" filter="url(#b04)" opacity="1.0" transform="rotate(-50 101.0 578.6)"/>
<ellipse cx="92.4" cy="585.0" rx="1.8" ry="1.3" fill="#1fae4a" filter="url(#b04)" opacity="1.0"/>
<ellipse cx="101.0" cy="578.4" rx="1.5" ry="1.2" fill="#e6e21e" filter="url(#b04)" opacity="1.0" transform="rotate(-50 101.0 578.4)"/>
<ellipse cx="101.1" cy="578.3" rx="0.8" ry="0.7" fill="#e2301e" filter="url(#b04)" opacity="1.0"/>
<ellipse cx="99.5" cy="591" rx="4.5" ry="1.6" fill="#3e78c8" filter="url(#b10)" opacity="0.8" transform="rotate(-55 99.5 591)"/>
<ellipse cx="87.3" cy="563.4" rx="1.0" ry="1.0" fill="#18b4e6" filter="url(#b04)" opacity="1.0"/>
<ellipse cx="98.8" cy="558.8" rx="1.0" ry="0.9" fill="#3050b8" filter="url(#b04)" opacity="1.0"/>
</g>
<g clip-path="url(#t03)">
<rect x="110.70" y="546.90" width="24.40" height="70.80" fill="#5a5a5a"/>
<rect x="110.7" y="546.9" width="24.40" height="70.80" fill="#6a6a6a" filter="url(#noise)" opacity="0.35"/>
<rect x="110.95" y="547.15" width="23.90" height="70.30" fill="none" stroke="#3e3e3e" stroke-width="0.5"/>
<line x1="113.6" y1="597" x2="111.8" y2="618" stroke="#cfcfcf" stroke-width="2.0" stroke-linecap="round" filter="url(#bl)"/>
<g filter="url(#disp2)">
<path d="M118.80,546.00 C120.68,545.08 127.17,545.23 128.80,546.00 C130.43,546.77 127.98,549.53 128.60,550.60 C129.22,551.67 131.47,551.17 132.50,552.40 C133.53,553.63 134.28,555.73 134.80,558.00 C135.32,560.27 135.47,561.67 135.60,566.00 C135.73,570.33 135.80,580.00 135.60,584.00 C135.40,588.00 135.33,588.50 134.40,590.00 C133.47,591.50 131.90,592.33 130.00,593.00 C128.10,593.67 125.00,593.58 123.00,594.00 C121.00,594.42 119.43,594.42 118.00,595.50 C116.57,596.58 115.30,600.25 114.40,600.50 C113.50,600.75 112.90,599.08 112.60,597.00 C112.30,594.92 112.67,591.17 112.60,588.00 C112.53,584.83 112.23,581.33 112.20,578.00 C112.17,574.67 112.37,571.17 112.40,568.00 C112.43,564.83 112.10,561.25 112.40,559.00 C112.70,556.75 113.35,555.75 114.20,554.50 C115.05,553.25 116.73,552.92 117.50,551.50 C118.27,550.08 116.92,546.92 118.80,546.00 Z" fill="#7e2d8a" filter="url(#b04)" opacity="1.0"/>
</g><g filter="url(#disp)">
<path d="M115.30,555.00 C116.08,553.68 118.27,553.43 119.50,552.90 C120.73,552.37 121.65,551.88 122.70,551.80 C123.75,551.72 124.75,551.87 125.80,552.40 C126.85,552.93 128.03,554.30 129.00,555.00 C129.97,555.70 130.98,555.63 131.60,556.60 C132.22,557.57 132.35,559.23 132.70,560.80 C133.05,562.37 133.53,564.07 133.70,566.00 C133.87,567.93 133.78,570.28 133.70,572.40 C133.62,574.52 133.45,576.77 133.20,578.70 C132.95,580.63 132.90,582.60 132.20,584.00 C131.50,585.40 130.07,586.23 129.00,587.10 C127.93,587.97 127.03,588.67 125.80,589.20 C124.57,589.73 123.00,589.95 121.60,590.30 C120.20,590.65 118.45,591.30 117.40,591.30 C116.35,591.30 115.82,591.00 115.30,590.30 C114.78,589.60 114.57,588.68 114.30,587.10 C114.03,585.52 113.70,582.55 113.70,580.80 C113.70,579.05 114.38,578.18 114.30,576.60 C114.22,575.02 113.30,573.07 113.20,571.30 C113.10,569.53 113.43,567.75 113.70,566.00 C113.97,564.25 114.53,562.63 114.80,560.80 C115.07,558.97 114.52,556.32 115.30,555.00 Z" fill="#20a8e0" filter="url(#b07)" opacity="1.0"/>
<path d="M114.40,578.00 C115.00,576.75 117.17,576.83 118.00,577.50 C118.83,578.17 119.30,580.17 119.40,582.00 C119.50,583.83 119.23,587.25 118.60,588.50 C117.97,589.75 116.30,590.08 115.60,589.50 C114.90,588.92 114.60,586.92 114.40,585.00 C114.20,583.08 113.80,579.25 114.40,578.00 Z" fill="#2f6cc8" filter="url(#b10)" opacity="0.7"/>
<path d="M116.40,558.70 C117.37,557.28 120.03,557.60 121.60,557.60 C123.17,557.60 124.38,558.00 125.80,558.70 C127.22,559.40 128.95,560.57 130.10,561.80 C131.25,563.03 132.18,564.33 132.70,566.10 C133.22,567.87 133.38,570.13 133.20,572.40 C133.02,574.67 132.30,577.60 131.60,579.70 C130.90,581.80 130.13,583.58 129.00,585.00 C127.87,586.42 126.20,587.67 124.80,588.20 C123.40,588.73 121.83,588.73 120.60,588.20 C119.37,587.67 118.10,586.42 117.40,585.00 C116.70,583.58 116.22,581.28 116.40,579.70 C116.58,578.12 118.42,576.90 118.50,575.50 C118.58,574.10 117.35,572.87 116.90,571.30 C116.45,569.73 115.88,568.20 115.80,566.10 C115.72,564.00 115.43,560.12 116.40,558.70 Z" fill="#1fae4a" filter="url(#b07)" opacity="1.0"/>
<path d="M115.00,570.00 C115.75,569.10 118.08,569.43 120.00,569.60 C121.92,569.77 125.25,570.35 126.50,571.00 C127.75,571.65 128.42,572.90 127.50,573.50 C126.58,574.10 123.00,574.35 121.00,574.60 C119.00,574.85 116.50,575.77 115.50,575.00 C114.50,574.23 114.25,570.90 115.00,570.00 Z" fill="#22a8d8" filter="url(#b07)" opacity="0.9"/>
<path d="M116.60,580.50 C116.95,579.30 118.77,579.30 119.50,579.80 C120.23,580.30 120.95,582.22 121.00,583.50 C121.05,584.78 120.40,586.92 119.80,587.50 C119.20,588.08 117.93,588.17 117.40,587.00 C116.87,585.83 116.25,581.70 116.60,580.50 Z" fill="#22a8d8" filter="url(#b07)" opacity="0.9"/>
<path d="M125.50,565.50 C126.08,564.67 127.92,563.58 128.50,564.00 C129.08,564.42 129.25,566.92 129.00,568.00 C128.75,569.08 127.67,570.33 127.00,570.50 C126.33,570.67 125.25,569.83 125.00,569.00 C124.75,568.17 124.92,566.33 125.50,565.50 Z" fill="#22a8d8" filter="url(#b07)" opacity="0.85"/>
<path d="M129.60,580.00 C129.90,578.92 131.40,578.00 131.80,578.50 C132.20,579.00 132.30,581.92 132.00,583.00 C131.70,584.08 130.40,585.50 130.00,585.00 C129.60,584.50 129.30,581.08 129.60,580.00 Z" fill="#22a8d8" filter="url(#b07)" opacity="0.85"/>
<path d="M120.50,570.00 C121.00,569.47 123.33,569.38 124.00,569.80 C124.67,570.22 125.00,571.97 124.50,572.50 C124.00,573.03 121.67,573.42 121.00,573.00 C120.33,572.58 120.00,570.53 120.50,570.00 Z" fill="#8cc828" filter="url(#b07)" opacity="0.9"/>
<path d="M126.00,583.50 C126.43,582.73 128.57,582.42 129.00,583.00 C129.43,583.58 129.03,586.23 128.60,587.00 C128.17,587.77 126.83,588.18 126.40,587.60 C125.97,587.02 125.57,584.27 126.00,583.50 Z" fill="#8cc828" filter="url(#b07)" opacity="0.9"/>
<path d="M119.06,562.16 C119.62,561.54 121.30,561.53 122.09,561.72 C122.88,561.92 123.60,562.54 123.82,563.31 C124.03,564.08 123.65,565.44 123.38,566.33 C123.12,567.22 122.86,568.30 122.23,568.64 C121.61,568.97 120.22,568.89 119.64,568.35 C119.06,567.81 118.87,566.43 118.78,565.40 C118.68,564.36 118.51,562.77 119.06,562.16 Z" fill="#e6e21e" filter="url(#b07)" opacity="1.0"/>
<path d="M127.58,558.29 C127.92,557.76 129.40,557.67 129.96,557.86 C130.52,558.05 130.92,558.89 130.97,559.44 C131.02,560.00 130.75,560.91 130.25,561.17 C129.74,561.44 128.39,561.51 127.94,561.03 C127.50,560.55 127.25,558.82 127.58,558.29 Z" fill="#e6e21e" filter="url(#b07)" opacity="1.0"/>
<path d="M121.07,575.43 C121.67,574.83 123.71,574.98 124.96,575.00 C126.21,575.03 128.01,574.95 128.56,575.58 C129.11,576.20 128.87,578.17 128.27,578.75 C127.67,579.32 126.11,579.06 124.96,579.03 C123.81,579.01 122.01,579.20 121.36,578.60 C120.71,578.00 120.47,576.03 121.07,575.43 Z" fill="#e6e21e" filter="url(#b07)" opacity="1.0"/>
<path d="M123.67,580.65 C124.22,579.93 126.58,580.00 127.13,580.65 C127.68,581.30 127.27,583.65 126.98,584.54 C126.70,585.43 125.93,585.91 125.40,585.98 C124.87,586.05 124.10,585.86 123.82,584.97 C123.53,584.08 123.12,581.37 123.67,580.65 Z" fill="#e6e21e" filter="url(#b07)" opacity="0.9"/>
<path d="M129.60,566.40 C130.03,565.00 131.90,565.13 132.40,566.60 C132.90,568.07 133.03,573.80 132.60,575.20 C132.17,576.60 130.30,576.47 129.80,575.00 C129.30,573.53 129.17,567.80 129.60,566.40 Z" fill="#b6d41e" filter="url(#b07)" opacity="1.0"/>
<ellipse cx="121.6" cy="564.0" rx="1.5" ry="1.25" fill="#f2901e" filter="url(#b04)" opacity="0.9"/>
<ellipse cx="121.6" cy="564.0" rx="1.0" ry="0.8" fill="#e2301e" filter="url(#b04)" opacity="1.0"/>
<ellipse cx="119.5" cy="566.6" rx="1.2000000000000002" ry="1.0" fill="#f2901e" filter="url(#b04)" opacity="0.9"/>
<ellipse cx="119.5" cy="566.6" rx="0.8" ry="0.6400000000000001" fill="#e2301e" filter="url(#b04)" opacity="1.0"/>
<ellipse cx="128.5" cy="559.2" rx="1.6500000000000001" ry="1.375" fill="#f2901e" filter="url(#b04)" opacity="0.9"/>
<ellipse cx="128.5" cy="559.2" rx="1.1" ry="0.8800000000000001" fill="#e2301e" filter="url(#b04)" opacity="1.0"/>
<ellipse cx="124.8" cy="576.2" rx="1.5" ry="1.25" fill="#f2901e" filter="url(#b04)" opacity="0.9"/>
<ellipse cx="124.8" cy="576.2" rx="1.0" ry="0.8" fill="#e2301e" filter="url(#b04)" opacity="1.0"/>
<ellipse cx="122.6" cy="576.6" rx="0.8999999999999999" ry="0.75" fill="#f2901e" filter="url(#b04)" opacity="0.9"/>
<ellipse cx="122.6" cy="576.6" rx="0.6" ry="0.48" fill="#e2301e" filter="url(#b04)" opacity="1.0"/>
<ellipse cx="125.8" cy="581.8" rx="1.0499999999999998" ry="0.875" fill="#f2901e" filter="url(#b04)" opacity="0.9"/>
<ellipse cx="125.8" cy="581.8" rx="0.7" ry="0.5599999999999999" fill="#e2301e" filter="url(#b04)" opacity="1.0"/>
</g>
</g>
<g clip-path="url(#t10)">
<rect x="30.80" y="620.80" width="24.40" height="71.00" fill="#5a5a5a"/>
<rect x="30.8" y="620.8" width="24.40" height="71.00" fill="#6a6a6a" filter="url(#noise)" opacity="0.35"/>
<rect x="31.05" y="621.05" width="23.90" height="70.50" fill="none" stroke="#3e3e3e" stroke-width="0.5"/>
<path d="M41.29,628.69 C42.36,628.51 43.96,628.42 45.03,628.69 C46.10,628.95 46.81,629.67 47.70,630.29 C48.59,630.91 49.39,631.72 50.37,632.43 C51.35,633.14 52.78,633.91 53.58,634.57 C54.38,635.22 55.09,635.90 55.18,636.38 C55.27,636.86 54.70,637.13 54.11,637.45 C53.53,637.77 52.07,637.45 51.66,638.31 C51.25,639.16 51.60,640.62 51.66,642.58 C51.71,644.54 51.98,647.39 51.98,650.06 C51.98,652.73 51.92,656.12 51.66,658.61 C51.39,661.10 50.94,663.06 50.37,665.02 C49.80,666.98 49.04,669.03 48.24,670.37 C47.44,671.70 46.28,672.42 45.57,673.04 C44.85,673.66 44.76,674.02 43.96,674.11 C43.16,674.20 41.82,673.93 40.76,673.57 C39.69,673.22 38.62,672.33 37.55,671.97 C36.48,671.61 35.23,671.44 34.34,671.44 C33.45,671.44 32.65,672.15 32.21,671.97 C31.76,671.79 31.40,670.90 31.67,670.37 C31.94,669.83 33.22,669.30 33.81,668.76 C34.40,668.23 35.02,668.50 35.20,667.16 C35.38,665.83 34.98,663.60 34.88,660.75 C34.77,657.90 34.56,653.27 34.56,650.06 C34.56,646.86 34.74,643.65 34.88,641.51 C35.02,639.37 35.50,638.48 35.41,637.24 C35.32,635.99 34.79,634.83 34.34,634.03 C33.90,633.23 32.88,632.93 32.74,632.43 C32.60,631.93 32.95,631.22 33.49,631.04 C34.02,630.86 35.09,631.57 35.95,631.36 C36.80,631.15 37.73,630.20 38.62,629.76 C39.51,629.31 40.22,628.87 41.29,628.69 Z" fill="url(#mv)" filter="url(#b07)" opacity="1.0"/>
<path d="M41.57,640.87 C42.23,640.75 43.23,640.69 43.89,640.87 C44.55,641.04 44.99,641.51 45.54,641.93 C46.10,642.34 46.59,642.87 47.20,643.34 C47.81,643.81 48.69,644.31 49.19,644.75 C49.69,645.18 50.13,645.63 50.18,645.95 C50.24,646.26 49.89,646.44 49.52,646.65 C49.16,646.86 48.25,646.65 48.00,647.22 C47.74,647.78 47.96,648.74 48.00,650.04 C48.03,651.33 48.20,653.21 48.20,654.97 C48.20,656.74 48.16,658.97 48.00,660.62 C47.83,662.26 47.55,663.56 47.20,664.85 C46.85,666.14 46.37,667.49 45.88,668.38 C45.38,669.26 44.66,669.73 44.22,670.14 C43.78,670.55 43.72,670.79 43.23,670.85 C42.73,670.90 41.90,670.73 41.24,670.49 C40.58,670.26 39.91,669.67 39.25,669.43 C38.59,669.20 37.81,669.08 37.26,669.08 C36.71,669.08 36.21,669.55 35.94,669.43 C35.66,669.32 35.44,668.73 35.61,668.38 C35.77,668.02 36.57,667.67 36.93,667.32 C37.30,666.97 37.68,667.14 37.79,666.26 C37.90,665.38 37.66,663.91 37.59,662.03 C37.53,660.15 37.39,657.09 37.39,654.97 C37.39,652.86 37.51,650.74 37.59,649.33 C37.68,647.92 37.98,647.33 37.92,646.51 C37.87,645.69 37.54,644.92 37.26,644.39 C36.99,643.87 36.36,643.67 36.27,643.34 C36.18,643.01 36.40,642.54 36.73,642.42 C37.06,642.30 37.73,642.77 38.26,642.63 C38.79,642.49 39.36,641.87 39.91,641.57 C40.46,641.28 40.91,640.99 41.57,640.87 Z" fill="#f4f4f4" filter="url(#b15)" opacity="0.85"/>
<path d="M41.29,628.69 C42.36,628.51 43.96,628.42 45.03,628.69 C46.10,628.95 46.81,629.67 47.70,630.29 C48.59,630.91 49.39,631.72 50.37,632.43 C51.35,633.14 52.78,633.91 53.58,634.57 C54.38,635.22 55.09,635.90 55.18,636.38 C55.27,636.86 54.70,637.13 54.11,637.45 C53.53,637.77 52.07,637.45 51.66,638.31 C51.25,639.16 51.60,640.62 51.66,642.58 C51.71,644.54 51.98,647.39 51.98,650.06 C51.98,652.73 51.92,656.12 51.66,658.61 C51.39,661.10 50.94,663.06 50.37,665.02 C49.80,666.98 49.04,669.03 48.24,670.37 C47.44,671.70 46.28,672.42 45.57,673.04 C44.85,673.66 44.76,674.02 43.96,674.11 C43.16,674.20 41.82,673.93 40.76,673.57 C39.69,673.22 38.62,672.33 37.55,671.97 C36.48,671.61 35.23,671.44 34.34,671.44 C33.45,671.44 32.65,672.15 32.21,671.97 C31.76,671.79 31.40,670.90 31.67,670.37 C31.94,669.83 33.22,669.30 33.81,668.76 C34.40,668.23 35.02,668.50 35.20,667.16 C35.38,665.83 34.98,663.60 34.88,660.75 C34.77,657.90 34.56,653.27 34.56,650.06 C34.56,646.86 34.74,643.65 34.88,641.51 C35.02,639.37 35.50,638.48 35.41,637.24 C35.32,635.99 34.79,634.83 34.34,634.03 C33.90,633.23 32.88,632.93 32.74,632.43 C32.60,631.93 32.95,631.22 33.49,631.04 C34.02,630.86 35.09,631.57 35.95,631.36 C36.80,631.15 37.73,630.20 38.62,629.76 C39.51,629.31 40.22,628.87 41.29,628.69 Z" fill="#808080" filter="url(#noise2)" opacity="0.40"/>
<line x1="43.6" y1="673" x2="44.0" y2="692" stroke="#c8c8c8" stroke-width="2.0" stroke-linecap="round" filter="url(#bl)"/>
<path d="M42.7,620.6 L44.1,620.6 L45.4,630 L41.4,630 Z" fill="#f4f4f4" filter="url(#bl)"/>
</g>
<g clip-path="url(#t11)">
<rect x="57.30" y="620.80" width="24.60" height="71.00" fill="#5a5a5a"/>
<rect x="57.3" y="620.8" width="24.60" height="71.00" fill="#6a6a6a" filter="url(#noise)" opacity="0.35"/>
<rect x="57.55" y="621.05" width="24.10" height="70.50" fill="none" stroke="#3e3e3e" stroke-width="0.5"/>
<path d="M66.69,631.89 C67.31,631.72 68.02,631.72 68.82,631.89 C69.63,632.07 70.69,632.43 71.50,632.96 C72.30,633.50 72.83,634.60 73.63,635.10 C74.44,635.60 75.47,635.51 76.31,635.95 C77.14,636.40 78.39,637.20 78.66,637.77 C78.92,638.34 78.03,638.39 77.91,639.37 C77.78,640.35 77.73,641.87 77.91,643.65 C78.09,645.43 78.80,647.75 78.98,650.06 C79.16,652.38 79.16,655.23 78.98,657.54 C78.80,659.86 78.44,661.82 77.91,663.95 C77.37,666.09 76.57,668.59 75.77,670.37 C74.97,672.15 73.99,673.48 73.10,674.64 C72.21,675.80 71.23,676.87 70.43,677.31 C69.63,677.76 69.09,677.58 68.29,677.31 C67.49,677.05 66.42,676.25 65.62,675.71 C64.82,675.18 64.28,674.46 63.48,674.11 C62.68,673.75 61.52,673.84 60.81,673.57 C60.10,673.31 59.21,672.95 59.21,672.50 C59.21,672.06 60.45,671.61 60.81,670.90 C61.17,670.19 61.34,669.92 61.34,668.23 C61.34,666.54 60.90,663.78 60.81,660.75 C60.72,657.72 60.86,652.91 60.81,650.06 C60.76,647.21 60.76,645.16 60.49,643.65 C60.22,642.14 59.28,641.78 59.21,640.98 C59.13,640.18 59.53,639.37 60.06,638.84 C60.60,638.31 61.81,638.39 62.41,637.77 C63.02,637.15 63.25,635.90 63.69,635.10 C64.14,634.30 64.59,633.50 65.08,632.96 C65.58,632.43 66.06,632.07 66.69,631.89 Z" fill="url(#mv)" filter="url(#b07)" opacity="1.0"/>
<path d="M67.27,644.05 C67.66,643.93 68.10,643.93 68.60,644.05 C69.10,644.16 69.76,644.40 70.26,644.75 C70.75,645.10 71.08,645.83 71.58,646.16 C72.08,646.49 72.72,646.43 73.24,646.73 C73.76,647.02 74.53,647.55 74.70,647.92 C74.86,648.30 74.31,648.34 74.23,648.98 C74.15,649.63 74.12,650.63 74.23,651.80 C74.34,652.98 74.78,654.51 74.89,656.04 C75.00,657.56 75.00,659.45 74.89,660.97 C74.78,662.50 74.56,663.80 74.23,665.21 C73.90,666.62 73.40,668.26 72.91,669.44 C72.41,670.61 71.80,671.50 71.25,672.26 C70.70,673.02 70.09,673.73 69.59,674.02 C69.10,674.32 68.76,674.20 68.27,674.02 C67.77,673.85 67.11,673.32 66.61,672.96 C66.11,672.61 65.78,672.14 65.29,671.91 C64.79,671.67 64.07,671.73 63.63,671.55 C63.19,671.38 62.64,671.14 62.64,670.85 C62.64,670.55 63.41,670.26 63.63,669.79 C63.85,669.32 63.96,669.14 63.96,668.03 C63.96,666.91 63.68,665.09 63.63,663.09 C63.57,661.09 63.66,657.92 63.63,656.04 C63.60,654.16 63.60,652.80 63.43,651.80 C63.27,650.80 62.68,650.57 62.64,650.04 C62.59,649.51 62.83,648.98 63.17,648.63 C63.50,648.28 64.25,648.34 64.62,647.92 C65.00,647.51 65.14,646.69 65.42,646.16 C65.69,645.63 65.97,645.10 66.28,644.75 C66.59,644.40 66.89,644.16 67.27,644.05 Z" fill="#f4f4f4" filter="url(#b15)" opacity="0.85"/>
<path d="M66.69,631.89 C67.31,631.72 68.02,631.72 68.82,631.89 C69.63,632.07 70.69,632.43 71.50,632.96 C72.30,633.50 72.83,634.60 73.63,635.10 C74.44,635.60 75.47,635.51 76.31,635.95 C77.14,636.40 78.39,637.20 78.66,637.77 C78.92,638.34 78.03,638.39 77.91,639.37 C77.78,640.35 77.73,641.87 77.91,643.65 C78.09,645.43 78.80,647.75 78.98,650.06 C79.16,652.38 79.16,655.23 78.98,657.54 C78.80,659.86 78.44,661.82 77.91,663.95 C77.37,666.09 76.57,668.59 75.77,670.37 C74.97,672.15 73.99,673.48 73.10,674.64 C72.21,675.80 71.23,676.87 70.43,677.31 C69.63,677.76 69.09,677.58 68.29,677.31 C67.49,677.05 66.42,676.25 65.62,675.71 C64.82,675.18 64.28,674.46 63.48,674.11 C62.68,673.75 61.52,673.84 60.81,673.57 C60.10,673.31 59.21,672.95 59.21,672.50 C59.21,672.06 60.45,671.61 60.81,670.90 C61.17,670.19 61.34,669.92 61.34,668.23 C61.34,666.54 60.90,663.78 60.81,660.75 C60.72,657.72 60.86,652.91 60.81,650.06 C60.76,647.21 60.76,645.16 60.49,643.65 C60.22,642.14 59.28,641.78 59.21,640.98 C59.13,640.18 59.53,639.37 60.06,638.84 C60.60,638.31 61.81,638.39 62.41,637.77 C63.02,637.15 63.25,635.90 63.69,635.10 C64.14,634.30 64.59,633.50 65.08,632.96 C65.58,632.43 66.06,632.07 66.69,631.89 Z" fill="#808080" filter="url(#noise2)" opacity="0.40"/>
<line x1="69.8" y1="676" x2="69.4" y2="692" stroke="#c8c8c8" stroke-width="2.0" stroke-linecap="round" filter="url(#bl)"/>
<path d="M67.2,621.4 L68.4,621.4 L70.0,632.4 L65.6,632.4 Z" fill="#f2f2f2" filter="url(#bl)"/>
</g>
<g clip-path="url(#t12)">
<rect x="84.30" y="620.80" width="24.60" height="71.00" fill="#5a5a5a"/>
<rect x="84.3" y="620.8" width="24.60" height="71.00" fill="#6a6a6a" filter="url(#noise)" opacity="0.35"/>
<rect x="84.55" y="621.05" width="24.10" height="70.50" fill="none" stroke="#3e3e3e" stroke-width="0.5"/>
<path d="M93.69,621.74 C94.49,621.47 95.56,621.65 96.36,622.27 C97.16,622.90 97.96,624.41 98.50,625.48 C99.03,626.55 98.94,627.89 99.57,628.69 C100.19,629.49 101.22,629.67 102.24,630.29 C103.25,630.91 104.86,631.77 105.66,632.43 C106.46,633.09 107.17,633.71 107.05,634.24 C106.92,634.78 105.35,634.78 104.91,635.63 C104.46,636.49 104.46,637.68 104.37,639.37 C104.29,641.07 104.41,643.47 104.37,645.79 C104.34,648.10 104.25,650.77 104.16,653.27 C104.07,655.76 104.16,658.61 103.84,660.75 C103.52,662.89 102.86,664.49 102.24,666.09 C101.61,667.70 100.90,669.39 100.10,670.37 C99.30,671.35 98.32,671.61 97.43,671.97 C96.54,672.33 95.65,672.50 94.76,672.50 C93.87,672.50 92.97,671.79 92.08,671.97 C91.19,672.15 90.12,672.86 89.41,673.57 C88.70,674.29 88.34,675.53 87.81,676.25 C87.27,676.96 86.56,678.12 86.21,677.85 C85.85,677.58 85.49,675.89 85.67,674.64 C85.85,673.40 87.04,672.33 87.27,670.37 C87.51,668.41 87.15,665.74 87.06,662.89 C86.97,660.04 86.74,656.30 86.74,653.27 C86.74,650.24 87.06,647.39 87.06,644.72 C87.06,642.05 86.97,639.02 86.74,637.24 C86.51,635.46 85.97,634.83 85.67,634.03 C85.37,633.23 84.75,632.93 84.92,632.43 C85.10,631.93 85.99,631.39 86.74,631.04 C87.49,630.68 88.70,630.77 89.41,630.29 C90.12,629.81 90.66,629.22 91.02,628.15 C91.37,627.08 91.10,624.95 91.55,623.88 C92.00,622.81 92.89,622.01 93.69,621.74 Z" fill="url(#mv)" filter="url(#b07)" opacity="1.0"/>
<path d="M94.00,635.64 C94.50,635.47 95.16,635.58 95.66,635.99 C96.16,636.41 96.65,637.41 96.98,638.11 C97.32,638.82 97.26,639.70 97.65,640.23 C98.03,640.76 98.67,640.87 99.30,641.28 C99.93,641.70 100.93,642.26 101.42,642.70 C101.92,643.13 102.36,643.54 102.29,643.89 C102.21,644.25 101.24,644.25 100.96,644.81 C100.68,645.38 100.68,646.16 100.63,647.28 C100.57,648.40 100.65,649.98 100.63,651.51 C100.61,653.04 100.55,654.80 100.50,656.45 C100.44,658.10 100.50,659.98 100.30,661.39 C100.10,662.80 99.69,663.86 99.30,664.91 C98.92,665.97 98.48,667.09 97.98,667.74 C97.48,668.38 96.87,668.56 96.32,668.79 C95.77,669.03 95.22,669.15 94.67,669.15 C94.11,669.15 93.56,668.68 93.01,668.79 C92.46,668.91 91.79,669.38 91.35,669.85 C90.91,670.32 90.69,671.14 90.36,671.61 C90.03,672.09 89.59,672.85 89.36,672.67 C89.14,672.50 88.92,671.38 89.03,670.56 C89.14,669.73 89.88,669.03 90.03,667.74 C90.17,666.44 89.95,664.68 89.90,662.80 C89.84,660.92 89.70,658.45 89.70,656.45 C89.70,654.45 89.90,652.57 89.90,650.81 C89.90,649.04 89.84,647.05 89.70,645.87 C89.55,644.69 89.22,644.28 89.03,643.75 C88.85,643.22 88.46,643.02 88.57,642.70 C88.68,642.37 89.23,642.01 89.70,641.78 C90.16,641.54 90.91,641.60 91.35,641.28 C91.79,640.97 92.13,640.58 92.35,639.87 C92.57,639.17 92.40,637.76 92.68,637.05 C92.95,636.35 93.51,635.82 94.00,635.64 Z" fill="#f4f4f4" filter="url(#b15)" opacity="0.85"/>
<path d="M93.69,621.74 C94.49,621.47 95.56,621.65 96.36,622.27 C97.16,622.90 97.96,624.41 98.50,625.48 C99.03,626.55 98.94,627.89 99.57,628.69 C100.19,629.49 101.22,629.67 102.24,630.29 C103.25,630.91 104.86,631.77 105.66,632.43 C106.46,633.09 107.17,633.71 107.05,634.24 C106.92,634.78 105.35,634.78 104.91,635.63 C104.46,636.49 104.46,637.68 104.37,639.37 C104.29,641.07 104.41,643.47 104.37,645.79 C104.34,648.10 104.25,650.77 104.16,653.27 C104.07,655.76 104.16,658.61 103.84,660.75 C103.52,662.89 102.86,664.49 102.24,666.09 C101.61,667.70 100.90,669.39 100.10,670.37 C99.30,671.35 98.32,671.61 97.43,671.97 C96.54,672.33 95.65,672.50 94.76,672.50 C93.87,672.50 92.97,671.79 92.08,671.97 C91.19,672.15 90.12,672.86 89.41,673.57 C88.70,674.29 88.34,675.53 87.81,676.25 C87.27,676.96 86.56,678.12 86.21,677.85 C85.85,677.58 85.49,675.89 85.67,674.64 C85.85,673.40 87.04,672.33 87.27,670.37 C87.51,668.41 87.15,665.74 87.06,662.89 C86.97,660.04 86.74,656.30 86.74,653.27 C86.74,650.24 87.06,647.39 87.06,644.72 C87.06,642.05 86.97,639.02 86.74,637.24 C86.51,635.46 85.97,634.83 85.67,634.03 C85.37,633.23 84.75,632.93 84.92,632.43 C85.10,631.93 85.99,631.39 86.74,631.04 C87.49,630.68 88.70,630.77 89.41,630.29 C90.12,629.81 90.66,629.22 91.02,628.15 C91.37,627.08 91.10,624.95 91.55,623.88 C92.00,622.81 92.89,622.01 93.69,621.74 Z" fill="#808080" filter="url(#noise2)" opacity="0.40"/>
<line x1="95.8" y1="672" x2="95.8" y2="692" stroke="#c8c8c8" stroke-width="2.0" stroke-linecap="round" filter="url(#bl)"/>
<path d="M87.60,637.40 C87.90,637.00 88.70,636.83 89.00,637.20 C89.30,637.57 89.53,639.07 89.40,639.60 C89.27,640.13 88.57,640.40 88.20,640.40 C87.83,640.40 87.30,640.10 87.20,639.60 C87.10,639.10 87.30,637.80 87.60,637.40 Z" fill="#7e2d8a" filter="url(#b04)" opacity="1.0"/>
<path d="M100.80,647.60 C101.27,647.13 102.63,646.87 103.20,647.20 C103.77,647.53 104.13,648.80 104.20,649.60 C104.27,650.40 104.10,651.57 103.60,652.00 C103.10,652.43 101.73,652.53 101.20,652.20 C100.67,651.87 100.47,650.77 100.40,650.00 C100.33,649.23 100.33,648.07 100.80,647.60 Z" fill="#7e2d8a" filter="url(#b04)" opacity="1.0"/>
<path d="M92.40,655.60 C93.00,654.90 94.23,654.23 95.20,654.20 C96.17,654.17 97.53,654.70 98.20,655.40 C98.87,656.10 99.23,657.37 99.20,658.40 C99.17,659.43 98.70,660.90 98.00,661.60 C97.30,662.30 95.97,662.60 95.00,662.60 C94.03,662.60 92.77,662.30 92.20,661.60 C91.63,660.90 91.57,659.40 91.60,658.40 C91.63,657.40 91.80,656.30 92.40,655.60 Z" fill="#6a2a96" filter="url(#b04)" opacity="1.0"/>
<ellipse cx="95.4" cy="658.6" rx="2.4" ry="2.2" fill="#4a3a9c" filter="url(#b07)" opacity="1.0"/>
<ellipse cx="86.3" cy="660.8" rx="0.6" ry="0.6" fill="#7e2d8a" filter="url(#b04)" opacity="1.0"/>
<ellipse cx="95.8" cy="672.4" rx="1.2" ry="0.9" fill="#7e2d8a" filter="url(#b04)" opacity="1.0"/>
</g>
<g clip-path="url(#t13)">
<rect x="110.70" y="620.80" width="24.40" height="71.00" fill="#5a5a5a"/>
<rect x="110.7" y="620.8" width="24.40" height="71.00" fill="#6a6a6a" filter="url(#noise)" opacity="0.35"/>
<rect x="110.95" y="621.05" width="23.90" height="70.50" fill="none" stroke="#3e3e3e" stroke-width="0.5"/>
<path d="M67.69,628.69 C68.76,628.51 70.36,628.42 71.43,628.69 C72.50,628.95 73.21,629.67 74.10,630.29 C74.99,630.91 75.79,631.72 76.77,632.43 C77.75,633.14 79.18,633.91 79.98,634.57 C80.78,635.22 81.49,635.90 81.58,636.38 C81.67,636.86 81.10,637.13 80.51,637.45 C79.93,637.77 78.47,637.45 78.06,638.31 C77.65,639.16 78.00,640.62 78.06,642.58 C78.11,644.54 78.38,647.39 78.38,650.06 C78.38,652.73 78.32,656.12 78.06,658.61 C77.79,661.10 77.34,663.06 76.77,665.02 C76.20,666.98 75.44,669.03 74.64,670.37 C73.84,671.70 72.68,672.42 71.97,673.04 C71.25,673.66 71.16,674.02 70.36,674.11 C69.56,674.20 68.22,673.93 67.16,673.57 C66.09,673.22 65.02,672.33 63.95,671.97 C62.88,671.61 61.63,671.44 60.74,671.44 C59.85,671.44 59.05,672.15 58.61,671.97 C58.16,671.79 57.80,670.90 58.07,670.37 C58.34,669.83 59.62,669.30 60.21,668.76 C60.80,668.23 61.42,668.50 61.60,667.16 C61.78,665.83 61.38,663.60 61.28,660.75 C61.17,657.90 60.96,653.27 60.96,650.06 C60.96,646.86 61.14,643.65 61.28,641.51 C61.42,639.37 61.90,638.48 61.81,637.24 C61.72,635.99 61.19,634.83 60.74,634.03 C60.30,633.23 59.28,632.93 59.14,632.43 C59.00,631.93 59.35,631.22 59.89,631.04 C60.42,630.86 61.49,631.57 62.35,631.36 C63.20,631.15 64.13,630.20 65.02,629.76 C65.91,629.31 66.62,628.87 67.69,628.69 Z" fill="url(#mv)" filter="url(#b07)" opacity="0.8"/>
<path d="M67.97,640.87 C68.63,640.75 69.63,640.69 70.29,640.87 C70.95,641.04 71.39,641.51 71.94,641.93 C72.50,642.34 72.99,642.87 73.60,643.34 C74.21,643.81 75.09,644.31 75.59,644.75 C76.09,645.18 76.53,645.63 76.58,645.95 C76.64,646.26 76.29,646.44 75.92,646.65 C75.56,646.86 74.65,646.65 74.40,647.22 C74.14,647.78 74.36,648.74 74.40,650.04 C74.43,651.33 74.60,653.21 74.60,654.97 C74.60,656.74 74.56,658.97 74.40,660.62 C74.23,662.26 73.95,663.56 73.60,664.85 C73.25,666.14 72.77,667.49 72.28,668.38 C71.78,669.26 71.06,669.73 70.62,670.14 C70.18,670.55 70.12,670.79 69.63,670.85 C69.13,670.90 68.30,670.73 67.64,670.49 C66.98,670.26 66.31,669.67 65.65,669.43 C64.99,669.20 64.21,669.08 63.66,669.08 C63.11,669.08 62.61,669.55 62.34,669.43 C62.06,669.32 61.84,668.73 62.01,668.38 C62.17,668.02 62.97,667.67 63.33,667.32 C63.70,666.97 64.08,667.14 64.19,666.26 C64.30,665.38 64.06,663.91 63.99,662.03 C63.93,660.15 63.79,657.09 63.79,654.97 C63.79,652.86 63.91,650.74 63.99,649.33 C64.08,647.92 64.38,647.33 64.32,646.51 C64.27,645.69 63.94,644.92 63.66,644.39 C63.39,643.87 62.76,643.67 62.67,643.34 C62.58,643.01 62.80,642.54 63.13,642.42 C63.46,642.30 64.13,642.77 64.66,642.63 C65.19,642.49 65.76,641.87 66.31,641.57 C66.86,641.28 67.31,640.99 67.97,640.87 Z" fill="#f4f4f4" filter="url(#b15)" opacity="0.68"/>
<path d="M67.69,628.69 C68.76,628.51 70.36,628.42 71.43,628.69 C72.50,628.95 73.21,629.67 74.10,630.29 C74.99,630.91 75.79,631.72 76.77,632.43 C77.75,633.14 79.18,633.91 79.98,634.57 C80.78,635.22 81.49,635.90 81.58,636.38 C81.67,636.86 81.10,637.13 80.51,637.45 C79.93,637.77 78.47,637.45 78.06,638.31 C77.65,639.16 78.00,640.62 78.06,642.58 C78.11,644.54 78.38,647.39 78.38,650.06 C78.38,652.73 78.32,656.12 78.06,658.61 C77.79,661.10 77.34,663.06 76.77,665.02 C76.20,666.98 75.44,669.03 74.64,670.37 C73.84,671.70 72.68,672.42 71.97,673.04 C71.25,673.66 71.16,674.02 70.36,674.11 C69.56,674.20 68.22,673.93 67.16,673.57 C66.09,673.22 65.02,672.33 63.95,671.97 C62.88,671.61 61.63,671.44 60.74,671.44 C59.85,671.44 59.05,672.15 58.61,671.97 C58.16,671.79 57.80,670.90 58.07,670.37 C58.34,669.83 59.62,669.30 60.21,668.76 C60.80,668.23 61.42,668.50 61.60,667.16 C61.78,665.83 61.38,663.60 61.28,660.75 C61.17,657.90 60.96,653.27 60.96,650.06 C60.96,646.86 61.14,643.65 61.28,641.51 C61.42,639.37 61.90,638.48 61.81,637.24 C61.72,635.99 61.19,634.83 60.74,634.03 C60.30,633.23 59.28,632.93 59.14,632.43 C59.00,631.93 59.35,631.22 59.89,631.04 C60.42,630.86 61.49,631.57 62.35,631.36 C63.20,631.15 64.13,630.20 65.02,629.76 C65.91,629.31 66.62,628.87 67.69,628.69 Z" fill="#808080" filter="url(#noise2)" opacity="0.32"/>
<line x1="124.5" y1="672" x2="122.4" y2="692" stroke="#d0d0d0" stroke-width="2.0" stroke-linecap="round" filter="url(#bl)"/>
<g filter="url(#disp2)">
<path d="M119.50,625.50 C120.58,625.00 121.58,624.35 122.50,624.60 C123.42,624.85 124.17,626.67 125.00,627.00 C125.83,627.33 126.92,626.02 127.50,626.60 C128.08,627.18 128.12,628.93 128.50,630.50 C128.88,632.07 129.52,634.25 129.80,636.00 C130.08,637.75 129.77,639.50 130.20,641.00 C130.63,642.50 132.07,643.17 132.40,645.00 C132.73,646.83 132.33,649.50 132.20,652.00 C132.07,654.50 131.87,657.33 131.60,660.00 C131.33,662.67 131.37,666.08 130.60,668.00 C129.83,669.92 128.02,670.50 127.00,671.50 C125.98,672.50 125.50,674.08 124.50,674.00 C123.50,673.92 122.17,671.33 121.00,671.00 C119.83,670.67 118.58,672.33 117.50,672.00 C116.42,671.67 115.22,670.50 114.50,669.00 C113.78,667.50 113.38,665.33 113.20,663.00 C113.02,660.67 113.33,657.67 113.40,655.00 C113.47,652.33 113.67,649.50 113.60,647.00 C113.53,644.50 113.20,642.17 113.00,640.00 C112.80,637.83 112.73,635.33 112.40,634.00 C112.07,632.67 110.90,632.57 111.00,632.00 C111.10,631.43 112.17,631.33 113.00,630.60 C113.83,629.87 114.92,628.45 116.00,627.60 C117.08,626.75 118.42,626.00 119.50,625.50 Z" fill="#7e2d8a" filter="url(#b04)" opacity="1.0"/>
</g>
<ellipse cx="116.0" cy="644.6" rx="1.8" ry="2.2" fill="#dcdcdc" filter="url(#b04)" opacity="1.0"/>
<ellipse cx="129.0" cy="645.4" rx="1.8" ry="1.8" fill="#dcdcdc" filter="url(#b04)" opacity="1.0"/>
<ellipse cx="113.2" cy="664.5" rx="0.9" ry="1.0" fill="#dcdcdc" filter="url(#b04)" opacity="1.0"/>
<ellipse cx="126.2" cy="666.8" rx="0.8" ry="0.7" fill="#dcdcdc" filter="url(#b04)" opacity="1.0"/>
<ellipse cx="121.5" cy="667.5" rx="0.7" ry="0.6" fill="#dcdcdc" filter="url(#b04)" opacity="1.0"/>
<ellipse cx="114.5" cy="636.0" rx="0.7" ry="0.9" fill="#dcdcdc" filter="url(#b04)" opacity="1.0"/>
<ellipse cx="120.2" cy="633.2" rx="1.8" ry="1.4" fill="#5040a0" filter="url(#b07)" opacity="1.0"/>
<ellipse cx="125.0" cy="648.5" rx="2.2" ry="1.8" fill="#5040a0" filter="url(#b07)" opacity="1.0"/>
<ellipse cx="119.2" cy="654.9" rx="4.6" ry="3.4" fill="#4a5ac0" filter="url(#b07)" opacity="1.0"/>
<ellipse cx="119.2" cy="654.9" rx="3.4" ry="2.5" fill="#18b4e6" filter="url(#b04)" opacity="1.0"/>
<ellipse cx="119.4" cy="654.8" rx="2.0" ry="1.5" fill="#1fae4a" filter="url(#b04)" opacity="1.0"/>
<ellipse cx="119.6" cy="654.7" rx="1.3" ry="1.0" fill="#e6e21e" filter="url(#b04)" opacity="1.0"/>
<ellipse cx="119.7" cy="654.6" rx="0.75" ry="0.65" fill="#e2301e" filter="url(#b04)" opacity="1.0"/>
</g>
<rect x="0" y="0" width="520" height="1" fill="#4a4a4a"/><rect x="1" y="1" width="517" height="1" fill="#9a9a9a"/><rect x="2" y="2" width="516" height="1" fill="#f2f2f2"/>
<rect x="0" y="0" width="1" height="712" fill="#4a4a4a"/><rect x="1" y="1" width="1" height="709" fill="#8a8a8a"/><rect x="2" y="2" width="1" height="708" fill="#f0f0f0"/>
<rect x="518" y="1" width="1" height="709" fill="#a0a0a0"/><rect x="519" y="0" width="1" height="712" fill="#0c0c0c"/>
<rect x="1" y="710" width="518" height="1" fill="#8a8a8a"/><rect x="0" y="711" width="520" height="1" fill="#4a4a4a"/>
</svg>
</body></html>
